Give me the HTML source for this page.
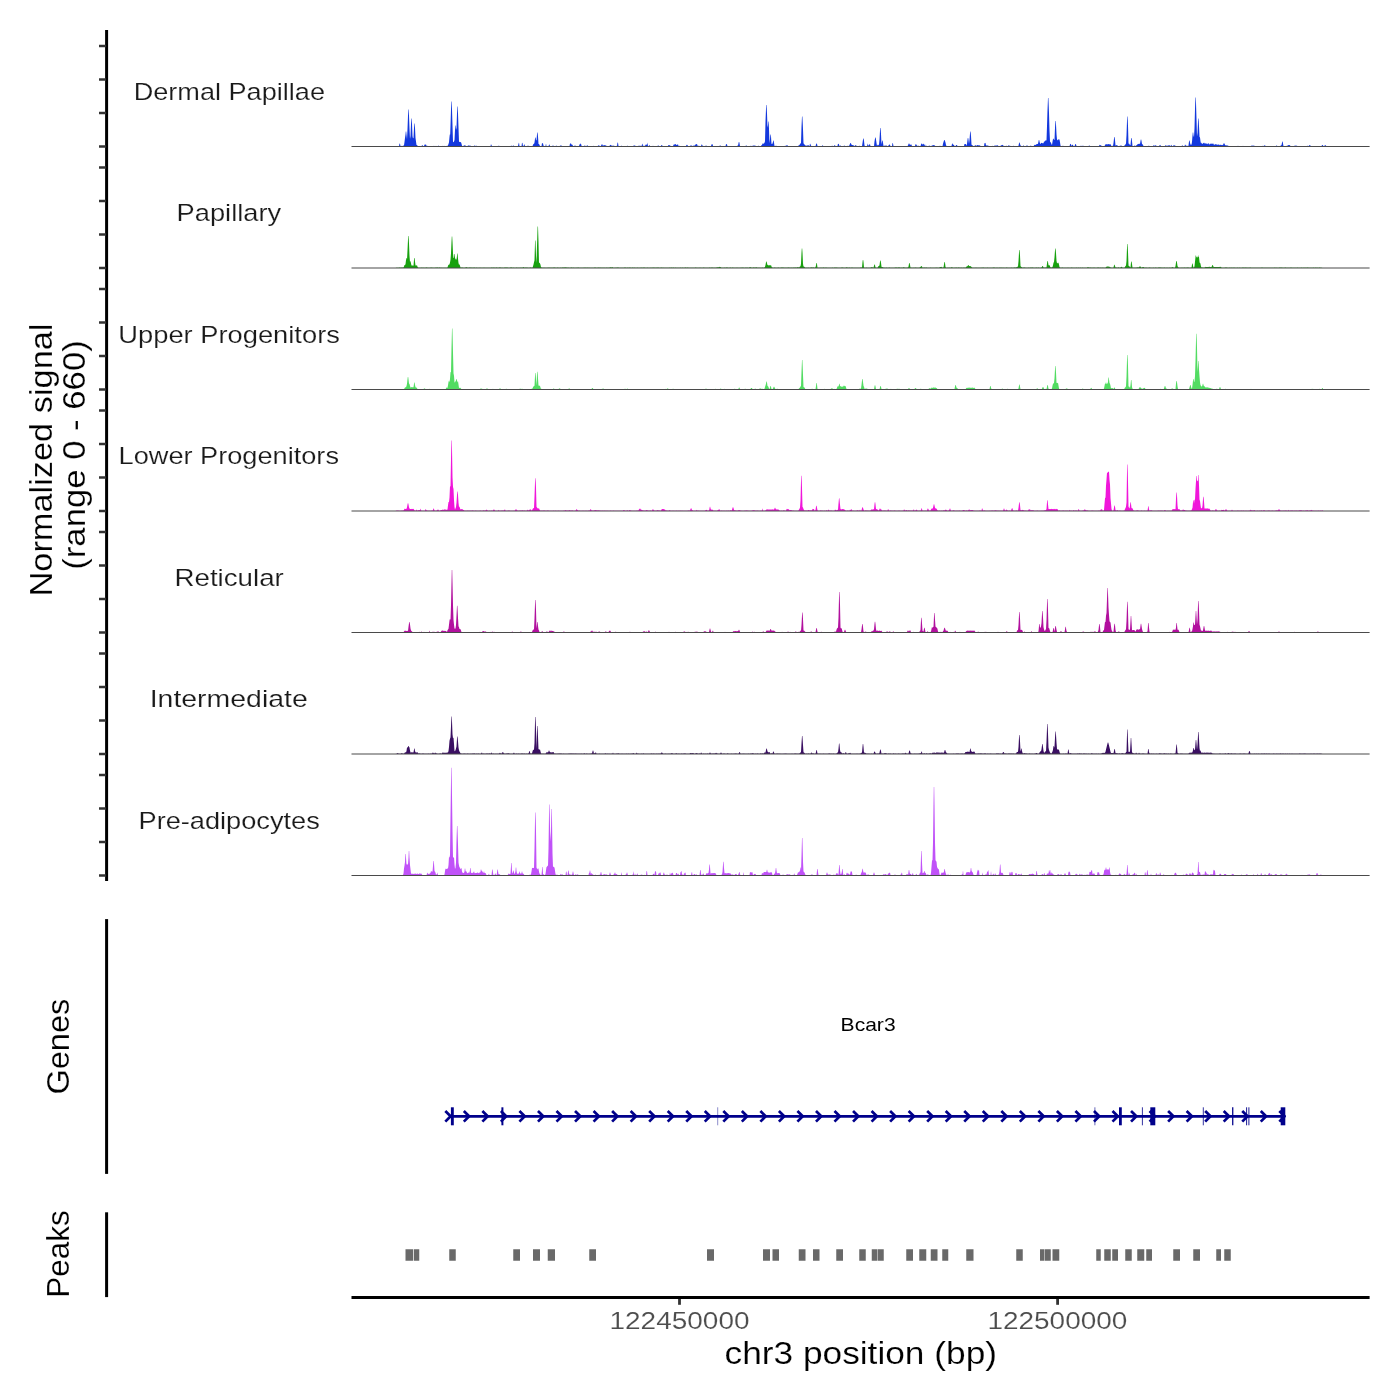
<!DOCTYPE html>
<html><head><meta charset="utf-8"><title>Coverage plot</title>
<style>
html,body{margin:0;padding:0;background:#fff;}
body{width:1400px;height:1400px;overflow:hidden;font-family:"Liberation Sans",sans-serif;}
svg{display:block;font-family:"Liberation Sans",sans-serif;}
.strip{font-size:24.3px;fill:#1a1a1a;}
.axt{font-size:24.6px;fill:#4d4d4d;}
.ttl{font-size:30.6px;fill:#000;}
.gene{font-size:18.2px;fill:#000;}
text{stroke:#fff;stroke-width:0.16px;}
.gene{stroke:none;}
svg{will-change:transform;}
</style></head><body>
<svg width="1400" height="1400" viewBox="0 0 1400 1400">
<rect width="1400" height="1400" fill="#fff"/>
<path d="M395.75 146.5L396.00 146.3L396.50 146.3L397.00 146.3L397.50 146.3L398.00 146.1L398.50 146.1L399.00 146.2L399.50 143.5L400.00 143.8L400.50 146.1L401.00 146.3L401.50 146.2L402.00 145.6L402.50 146.3L403.00 146.1L403.50 145.6L404.00 145.2L404.50 141.9L405.00 138.0L405.50 134.6L405.80 131.5L406.00 131.5L406.20 131.5L406.50 134.6L407.00 139.3L407.50 129.1L408.00 115.8L408.30 109.5L408.50 109.5L408.70 109.5L409.00 115.8L409.50 129.1L410.00 139.1L410.50 136.0L411.00 123.9L411.30 118.5L411.50 118.5L411.70 118.5L412.00 123.9L412.50 136.0L413.00 138.4L413.50 137.7L414.00 128.0L414.30 123.5L414.50 123.5L414.70 123.5L415.00 128.0L415.50 137.9L416.00 141.5L416.50 145.0L417.00 144.9L417.50 145.7L418.00 146.1L418.50 146.1L419.00 146.1L419.50 146.2L420.00 146.3L420.50 146.3L421.00 146.1L421.50 146.3L422.00 145.3L422.50 145.1L423.00 146.3L423.50 146.1L424.00 146.2L424.50 144.5L425.00 144.8L425.50 144.6L426.00 144.6L426.50 145.7L427.00 145.9L427.50 145.7L428.00 146.2L428.50 146.1L429.00 146.1L429.50 146.2L430.00 146.2L430.50 146.1L431.00 146.3L431.50 146.3L432.00 146.1L432.50 145.9L433.00 146.0L433.50 146.0L434.00 145.8L434.50 146.2L435.00 146.2L435.50 146.2L436.00 145.8L436.50 146.2L437.00 146.1L437.50 146.2L438.00 146.3L438.50 145.3L439.00 146.2L439.50 146.2L440.00 146.2L440.50 146.2L441.00 146.1L441.50 146.3L442.00 146.3L442.50 145.9L443.00 145.7L443.50 146.2L444.00 146.2L444.50 145.7L445.00 146.2L445.50 146.0L446.00 146.3L446.50 145.9L447.00 145.7L447.50 145.9L448.00 145.3L448.50 144.1L449.00 142.2L449.50 137.0L449.80 134.5L450.00 134.5L450.20 134.5L450.50 125.4L451.00 109.2L451.30 101.5L451.50 101.5L451.70 101.5L452.00 109.2L452.50 125.4L453.00 141.7L453.50 142.2L454.00 141.5L454.50 140.1L455.00 129.9L455.30 125.5L455.50 125.5L455.70 125.5L456.00 129.9L456.50 127.7L457.00 113.4L457.30 106.5L457.50 106.5L457.70 106.5L458.00 113.4L458.50 127.7L459.00 141.7L459.50 141.7L460.00 142.3L460.50 141.9L461.00 142.2L461.50 143.8L462.00 145.8L462.50 146.3L463.00 146.3L463.50 146.2L464.00 145.1L464.50 145.5L465.00 145.6L465.50 145.5L466.00 146.1L466.50 146.1L467.00 146.2L467.50 146.3L468.00 145.5L468.50 145.6L469.00 145.5L469.50 145.7L470.00 145.4L470.50 145.7L471.00 146.1L471.50 146.3L472.00 146.3L472.50 146.2L473.00 146.2L473.50 146.2L474.00 146.2L474.50 145.2L475.00 145.8L475.50 146.0L476.00 145.7L476.50 145.8L477.00 146.1L477.50 146.2L478.00 146.2L478.50 146.2L479.00 146.2L479.50 146.3L480.00 146.2L480.50 146.2L481.00 146.2L481.50 145.9L482.00 145.9L482.50 146.0L483.00 146.0L483.50 146.3L484.00 146.3L484.50 146.2L485.00 146.3L485.50 146.2L486.00 146.2L486.50 146.3L487.00 146.1L487.50 146.1L488.00 146.3L488.50 146.2L489.00 146.2L489.50 146.2L490.00 146.3L490.50 146.2L491.00 144.1L491.50 145.3L492.00 146.0L492.50 146.0L493.00 146.0L493.50 146.1L494.00 146.0L494.50 145.9L495.00 146.2L495.50 146.3L496.00 146.3L496.50 146.2L497.00 146.0L497.50 146.2L498.00 146.1L498.50 145.7L499.00 145.7L499.50 145.9L500.00 145.9L500.50 146.2L501.00 146.1L501.50 146.2L502.00 146.3L502.50 146.2L503.00 146.0L503.50 146.0L504.00 146.1L504.50 146.3L505.00 146.2L505.50 146.3L506.00 146.2L506.50 146.1L507.00 146.3L507.50 146.3L508.00 146.1L508.50 146.2L509.00 146.1L509.50 146.1L510.00 146.3L510.50 146.2L511.00 145.8L511.50 145.8L512.00 145.7L512.50 146.0L513.00 146.3L513.50 145.1L514.00 146.2L514.50 146.2L515.00 146.2L515.50 146.3L516.00 146.3L516.50 146.3L517.00 146.1L517.50 146.3L518.00 146.1L518.50 143.8L519.00 142.5L519.50 146.2L520.00 146.2L520.50 146.3L521.00 146.3L521.50 146.3L522.00 142.8L522.50 143.0L523.00 145.9L523.50 146.1L524.00 144.8L524.50 144.2L525.00 146.3L525.50 146.2L526.00 146.3L526.50 146.3L527.00 146.3L527.50 145.8L528.00 145.8L528.50 145.8L529.00 146.0L529.50 146.1L530.00 146.3L530.50 146.3L531.00 146.2L531.50 146.2L532.00 146.3L532.50 146.1L533.00 145.1L533.50 143.8L534.00 143.9L534.50 142.6L535.00 138.7L535.20 137.5L535.50 137.5L535.60 137.5L536.00 140.1L536.50 140.4L537.00 134.4L537.20 132.5L537.50 132.5L537.60 132.5L538.00 136.5L538.50 144.0L539.00 144.1L539.50 145.1L540.00 145.9L540.50 146.2L541.00 146.1L541.50 146.3L542.00 143.1L542.50 143.3L543.00 143.5L543.50 145.6L544.00 146.2L544.50 146.3L545.00 146.2L545.50 146.1L546.00 143.5L546.50 146.2L547.00 146.2L547.50 146.1L548.00 146.3L548.50 146.1L549.00 145.0L549.50 144.3L550.00 146.3L550.50 146.3L551.00 146.3L551.50 146.3L552.00 146.1L552.50 146.3L553.00 144.7L553.50 146.2L554.00 146.3L554.50 146.2L555.00 146.1L555.50 146.2L556.00 145.7L556.50 145.5L557.00 146.2L557.50 146.1L558.00 146.2L558.50 146.3L559.00 146.3L559.50 146.2L560.00 145.8L560.50 145.5L561.00 145.5L561.50 145.6L562.00 146.2L562.50 146.2L563.00 146.2L563.50 146.3L564.00 146.2L564.50 146.0L565.00 146.0L565.50 146.0L566.00 146.3L566.50 146.2L567.00 146.2L567.50 146.2L568.00 146.1L568.50 146.2L569.00 146.2L569.50 146.1L570.00 143.4L570.50 143.6L571.00 143.6L571.50 144.4L572.00 144.8L572.50 144.8L573.00 146.1L573.50 146.1L574.00 145.9L574.50 145.8L575.00 145.6L575.50 145.7L576.00 146.1L576.50 145.9L577.00 146.0L577.50 146.2L578.00 146.3L578.50 146.2L579.00 146.2L579.50 144.2L580.00 144.4L580.50 143.6L581.00 143.8L581.50 145.7L582.00 146.3L582.50 146.2L583.00 146.3L583.50 146.3L584.00 146.3L584.50 145.4L585.00 145.4L585.50 146.1L586.00 146.1L586.50 146.3L587.00 145.2L587.50 145.2L588.00 146.2L588.50 146.2L589.00 146.3L589.50 146.1L590.00 146.1L590.50 146.2L591.00 146.2L591.50 146.2L592.00 146.1L592.50 146.2L593.00 145.9L593.50 145.8L594.00 146.2L594.50 146.2L595.00 146.3L595.50 146.2L596.00 146.3L596.50 146.1L597.00 146.2L597.50 146.3L598.00 145.7L598.50 145.3L599.00 145.5L599.50 145.8L600.00 145.9L600.50 146.2L601.00 145.7L601.50 144.7L602.00 144.1L602.50 144.7L603.00 146.1L603.50 145.3L604.00 145.0L604.50 145.2L605.00 145.2L605.50 145.6L606.00 145.3L606.50 146.1L607.00 146.2L607.50 146.2L608.00 146.1L608.50 146.2L609.00 146.2L609.50 146.2L610.00 144.8L610.50 145.3L611.00 144.8L611.50 145.4L612.00 146.3L612.50 145.6L613.00 145.7L613.50 145.8L614.00 145.6L614.50 146.2L615.00 146.3L615.50 146.1L616.00 146.3L616.50 145.8L617.00 146.0L617.50 142.5L618.00 142.8L618.50 145.9L619.00 146.3L619.50 146.2L620.00 146.2L620.50 146.2L621.00 146.2L621.50 145.5L622.00 145.9L622.50 146.0L623.00 146.1L623.50 146.1L624.00 146.1L624.50 146.3L625.00 146.2L625.50 146.0L626.00 146.2L626.50 146.2L627.00 146.2L627.50 145.4L628.00 146.1L628.50 146.2L629.00 146.1L629.50 146.0L630.00 146.2L630.50 146.2L631.00 146.2L631.50 146.3L632.00 146.2L632.50 146.2L633.00 146.3L633.50 145.7L634.00 145.2L634.50 145.7L635.00 145.3L635.50 146.2L636.00 146.2L636.50 146.0L637.00 146.1L637.50 146.1L638.00 146.1L638.50 145.8L639.00 145.8L639.50 145.8L640.00 145.8L640.50 145.8L641.00 145.9L641.50 146.0L642.00 144.5L642.50 143.6L643.00 145.9L643.50 145.7L644.00 145.8L644.50 145.7L645.00 146.3L645.50 144.6L646.00 144.9L646.50 144.3L647.00 145.1L647.50 142.6L648.00 146.3L648.50 146.1L649.00 145.7L649.50 144.8L650.00 146.3L650.50 146.3L651.00 146.3L651.50 146.2L652.00 146.2L652.50 145.9L653.00 145.8L653.50 146.0L654.00 146.3L654.50 146.1L655.00 146.1L655.50 146.2L656.00 146.1L656.50 146.2L657.00 146.2L657.50 146.2L658.00 145.3L658.50 145.4L659.00 146.2L659.50 146.3L660.00 146.3L660.50 146.0L661.00 146.1L661.50 145.0L662.00 145.0L662.50 146.1L663.00 146.2L663.50 146.1L664.00 146.3L664.50 146.3L665.00 146.2L665.50 146.2L666.00 146.2L666.50 146.2L667.00 146.2L667.50 146.1L668.00 146.0L668.50 145.1L669.00 145.0L669.50 145.4L670.00 144.9L670.50 146.2L671.00 146.0L671.50 146.0L672.00 146.1L672.50 146.1L673.00 146.2L673.50 144.7L674.00 144.5L674.50 144.6L675.00 144.2L675.50 143.9L676.00 144.6L676.50 145.0L677.00 144.9L677.50 144.6L678.00 144.3L678.50 146.2L679.00 145.6L679.50 146.1L680.00 145.9L680.50 146.1L681.00 146.0L681.50 146.1L682.00 145.9L682.50 145.9L683.00 146.0L683.50 145.9L684.00 145.9L684.50 146.1L685.00 146.1L685.50 146.0L686.00 146.1L686.50 145.1L687.00 144.8L687.50 145.2L688.00 146.1L688.50 146.3L689.00 146.1L689.50 146.3L690.00 146.2L690.50 145.6L691.00 145.3L691.50 145.7L692.00 145.4L692.50 146.3L693.00 146.2L693.50 145.6L694.00 145.4L694.50 145.5L695.00 145.6L695.50 144.2L696.00 144.6L696.50 144.1L697.00 144.1L697.50 145.6L698.00 145.9L698.50 145.7L699.00 145.8L699.50 146.1L700.00 146.0L700.50 145.9L701.00 146.3L701.50 144.6L702.00 144.4L702.50 145.7L703.00 145.7L703.50 146.3L704.00 146.2L704.50 146.1L705.00 146.2L705.50 146.2L706.00 145.0L706.50 146.1L707.00 146.1L707.50 146.2L708.00 146.1L708.50 146.1L709.00 146.3L709.50 146.2L710.00 146.3L710.50 146.1L711.00 146.3L711.50 144.3L712.00 144.5L712.50 143.9L713.00 146.1L713.50 146.2L714.00 146.3L714.50 146.2L715.00 146.2L715.50 146.2L716.00 146.2L716.50 146.1L717.00 146.3L717.50 146.3L718.00 146.3L718.50 146.3L719.00 146.3L719.50 146.3L720.00 144.9L720.50 145.7L721.00 146.0L721.50 146.0L722.00 146.2L722.50 146.2L723.00 146.3L723.50 146.2L724.00 146.1L724.50 146.1L725.00 146.2L725.50 146.2L726.00 144.3L726.50 143.9L727.00 144.5L727.50 146.2L728.00 146.3L728.50 146.3L729.00 146.1L729.50 146.2L730.00 146.3L730.50 146.2L731.00 146.3L731.50 146.3L732.00 146.3L732.50 146.2L733.00 146.1L733.50 146.2L734.00 146.3L734.50 146.2L735.00 146.2L735.50 146.1L736.00 146.3L736.50 146.2L737.00 146.1L737.50 145.6L738.00 145.8L738.50 143.2L738.80 142.0L739.00 142.0L739.20 142.0L739.50 143.2L740.00 146.3L740.50 146.3L741.00 146.2L741.50 145.9L742.00 145.9L742.50 146.2L743.00 146.3L743.50 146.3L744.00 146.1L744.50 146.0L745.00 146.0L745.50 146.1L746.00 145.5L746.50 145.4L747.00 146.1L747.50 146.1L748.00 146.2L748.50 146.3L749.00 146.2L749.50 146.3L750.00 146.1L750.50 145.7L751.00 145.9L751.50 145.9L752.00 145.7L752.50 145.8L753.00 146.1L753.50 145.2L754.00 145.7L754.50 145.4L755.00 145.4L755.50 145.7L756.00 146.3L756.50 146.3L757.00 146.2L757.50 146.3L758.00 146.2L758.50 145.4L759.00 146.1L759.50 146.3L760.00 146.3L760.50 146.3L761.00 146.3L761.50 144.9L762.00 145.1L762.50 143.6L763.00 143.5L763.50 143.8L764.00 143.6L764.50 142.7L765.00 141.2L765.50 121.2L766.00 109.1L766.20 104.9L766.50 104.9L766.60 104.9L767.00 113.6L767.50 127.4L768.00 124.9L768.20 121.5L768.50 121.5L768.60 121.5L769.00 128.7L769.50 143.3L770.00 138.9L770.40 134.5L770.50 134.5L770.80 134.5L771.00 136.6L771.50 144.1L772.00 143.8L772.50 143.8L773.00 141.5L773.20 140.5L773.50 140.5L773.60 140.5L774.00 142.7L774.50 146.0L775.00 146.3L775.50 146.3L776.00 145.3L776.50 146.2L777.00 146.2L777.50 146.2L778.00 146.3L778.50 146.1L779.00 146.3L779.50 146.2L780.00 146.3L780.50 146.3L781.00 146.3L781.50 146.0L782.00 146.0L782.50 146.0L783.00 146.0L783.50 146.3L784.00 146.1L784.50 146.3L785.00 145.7L785.50 145.7L786.00 145.9L786.50 145.2L787.00 145.3L787.50 145.3L788.00 146.3L788.50 146.2L789.00 146.2L789.50 146.2L790.00 146.2L790.50 146.2L791.00 146.3L791.50 146.3L792.00 146.3L792.50 146.3L793.00 146.0L793.50 146.0L794.00 146.1L794.50 146.2L795.00 146.2L795.50 146.2L796.00 146.2L796.50 145.9L797.00 146.0L797.50 146.1L798.00 146.3L798.50 145.6L799.00 145.3L799.50 144.9L800.00 144.1L800.50 143.5L801.00 143.0L801.50 126.8L802.00 116.5L802.40 116.5L802.50 118.4L803.00 129.3L803.50 143.5L804.00 143.7L804.50 144.6L805.00 145.2L805.50 145.4L806.00 145.5L806.50 145.7L807.00 145.5L807.50 145.5L808.00 145.2L808.50 145.0L809.00 146.2L809.50 146.2L810.00 143.6L810.50 144.2L811.00 145.8L811.50 146.0L812.00 145.9L812.50 146.0L813.00 146.2L813.50 146.2L814.00 146.2L814.50 146.2L815.00 146.1L815.50 146.2L816.00 144.6L816.40 143.5L816.50 143.5L816.80 143.5L817.00 144.0L817.50 146.0L818.00 146.1L818.50 146.1L819.00 146.3L819.50 146.1L820.00 146.3L820.50 146.2L821.00 146.1L821.50 146.3L822.00 146.2L822.50 145.0L823.00 145.8L823.50 146.2L824.00 146.3L824.50 146.3L825.00 146.2L825.50 146.3L826.00 146.1L826.50 146.0L827.00 146.0L827.50 145.9L828.00 146.3L828.50 146.1L829.00 145.9L829.50 146.0L830.00 146.1L830.50 146.1L831.00 146.1L831.50 146.1L832.00 145.8L832.50 145.7L833.00 146.3L833.50 146.3L834.00 146.3L834.50 145.1L835.00 145.3L835.50 146.3L836.00 146.2L836.50 146.2L837.00 146.3L837.50 146.1L838.00 143.6L838.40 144.0L838.50 144.0L838.80 144.0L839.00 144.4L839.50 146.0L840.00 146.1L840.50 145.2L841.00 146.1L841.50 146.2L842.00 146.2L842.50 146.2L843.00 146.3L843.50 146.1L844.00 145.8L844.50 145.6L845.00 145.9L845.50 146.2L846.00 146.1L846.50 145.9L847.00 146.1L847.50 146.0L848.00 145.5L848.50 146.2L849.00 146.1L849.50 144.9L850.00 143.7L850.40 143.0L850.50 143.0L850.80 143.0L851.00 143.4L851.50 144.4L852.00 145.2L852.50 145.0L853.00 145.1L853.50 145.5L854.00 145.4L854.50 146.0L855.00 146.3L855.50 144.9L856.00 145.1L856.50 146.1L857.00 146.3L857.50 146.1L858.00 146.2L858.50 146.3L859.00 146.2L859.50 145.6L860.00 146.3L860.50 146.2L861.00 146.2L861.50 146.1L862.00 146.2L862.50 143.0L863.00 139.6L863.20 138.5L863.50 138.5L863.60 138.5L864.00 140.8L864.50 145.5L865.00 146.1L865.50 146.2L866.00 146.2L866.50 146.1L867.00 146.3L867.50 143.2L868.00 145.7L868.50 145.6L869.00 144.6L869.50 144.6L870.00 144.2L870.50 146.3L871.00 146.2L871.50 146.3L872.00 146.1L872.50 146.1L873.00 146.2L873.50 146.2L874.00 146.3L874.50 141.5L875.00 138.5L875.20 137.5L875.50 137.5L875.60 137.5L876.00 139.6L876.50 143.1L877.00 146.1L877.50 144.6L878.00 145.6L878.50 144.9L879.00 144.6L879.50 139.6L880.00 130.7L880.20 128.0L880.50 128.0L880.60 128.0L881.00 133.7L881.50 144.6L882.00 141.5L882.20 140.5L882.50 140.5L882.60 140.5L883.00 142.7L883.50 146.0L884.00 145.8L884.50 145.7L885.00 145.6L885.50 145.4L886.00 146.1L886.50 145.2L887.00 146.1L887.50 145.9L888.00 146.2L888.50 145.6L889.00 144.8L889.20 144.5L889.50 144.5L889.60 144.5L890.00 145.1L890.50 146.3L891.00 146.3L891.50 146.3L892.00 146.3L892.50 142.7L893.00 143.4L893.50 146.2L894.00 146.1L894.50 146.3L895.00 146.3L895.50 146.1L896.00 146.3L896.50 146.2L897.00 146.2L897.50 146.3L898.00 146.2L898.50 146.2L899.00 146.2L899.50 146.3L900.00 146.1L900.50 146.2L901.00 146.2L901.50 146.2L902.00 146.2L902.50 146.1L903.00 146.0L903.50 146.1L904.00 146.3L904.50 146.2L905.00 146.1L905.50 146.2L906.00 146.2L906.50 146.1L907.00 146.3L907.50 146.1L908.00 145.5L908.50 144.1L908.80 143.5L909.00 143.5L909.20 143.5L909.50 144.1L910.00 145.0L910.50 144.7L911.00 144.2L911.50 144.8L912.00 146.2L912.50 146.3L913.00 146.1L913.50 146.2L914.00 146.3L914.50 146.3L915.00 146.1L915.50 144.2L916.00 144.2L916.50 144.8L917.00 145.8L917.50 145.9L918.00 145.6L918.50 145.8L919.00 146.2L919.50 146.2L920.00 146.3L920.50 146.3L921.00 144.6L921.40 143.5L921.50 143.5L921.80 143.5L922.00 144.0L922.50 144.7L923.00 143.4L923.50 144.4L924.00 143.5L924.50 145.7L925.00 144.2L925.50 146.1L926.00 146.0L926.50 145.6L927.00 146.3L927.50 146.3L928.00 146.2L928.50 146.2L929.00 145.6L929.50 145.7L930.00 145.7L930.50 146.3L931.00 146.1L931.50 146.1L932.00 145.3L932.50 145.5L933.00 145.3L933.50 145.0L934.00 145.3L934.50 145.2L935.00 145.8L935.50 146.3L936.00 146.3L936.50 146.2L937.00 146.3L937.50 146.2L938.00 146.1L938.50 146.2L939.00 146.2L939.50 145.8L940.00 146.0L940.50 145.7L941.00 146.2L941.50 146.2L942.00 146.3L942.50 146.3L943.00 143.8L943.50 142.0L944.00 140.5L944.20 140.0L944.50 140.0L944.60 140.0L945.00 141.1L945.50 142.6L946.00 144.9L946.50 146.1L947.00 146.1L947.50 145.9L948.00 146.1L948.50 146.1L949.00 146.1L949.50 146.3L950.00 146.0L950.50 146.0L951.00 146.1L951.50 146.0L952.00 144.0L952.50 143.3L953.00 144.8L953.50 144.7L954.00 144.7L954.50 146.3L955.00 146.2L955.50 146.3L956.00 145.2L956.50 145.1L957.00 145.1L957.50 146.2L958.00 146.2L958.50 146.2L959.00 146.2L959.50 146.1L960.00 146.2L960.50 146.1L961.00 146.2L961.50 146.3L962.00 146.1L962.50 146.2L963.00 146.3L963.50 146.2L964.00 146.0L964.50 144.1L965.00 144.1L965.50 144.0L966.00 144.2L966.50 145.8L967.00 143.9L967.50 139.8L967.80 138.0L968.00 138.0L968.20 138.0L968.50 139.8L969.00 143.9L969.50 140.0L970.00 133.5L970.20 131.5L970.50 131.5L970.60 131.5L971.00 135.8L971.50 144.6L972.00 145.2L972.50 145.3L973.00 145.8L973.50 146.2L974.00 146.3L974.50 146.0L975.00 145.3L975.50 145.4L976.00 145.0L976.50 146.3L977.00 145.1L977.50 145.3L978.00 145.0L978.50 144.9L979.00 146.2L979.50 144.9L980.00 145.3L980.50 146.2L981.00 146.2L981.50 146.3L982.00 146.1L982.50 146.2L983.00 146.1L983.50 146.1L984.00 146.2L984.50 143.0L985.00 143.2L985.50 142.8L986.00 145.4L986.50 145.4L987.00 145.3L987.50 145.7L988.00 145.3L988.50 146.1L989.00 146.3L989.50 146.1L990.00 146.2L990.50 146.3L991.00 146.1L991.50 146.2L992.00 146.0L992.50 145.7L993.00 146.2L993.50 146.2L994.00 146.1L994.50 145.6L995.00 145.8L995.50 145.7L996.00 145.1L996.50 145.8L997.00 145.4L997.50 145.3L998.00 145.6L998.50 146.3L999.00 146.3L999.50 146.2L1000.00 146.0L1000.50 145.8L1001.00 145.8L1001.50 144.9L1002.00 145.2L1002.50 145.1L1003.00 144.7L1003.50 146.1L1004.00 146.2L1004.50 146.2L1005.00 145.7L1005.50 146.2L1006.00 146.2L1006.50 145.4L1007.00 146.3L1007.50 146.3L1008.00 146.1L1008.50 145.2L1009.00 145.4L1009.50 145.8L1010.00 145.8L1010.50 146.1L1011.00 146.0L1011.50 146.1L1012.00 146.1L1012.50 146.1L1013.00 146.3L1013.50 145.6L1014.00 146.3L1014.50 146.1L1015.00 146.2L1015.50 146.1L1016.00 146.3L1016.50 146.2L1017.00 146.1L1017.50 146.2L1018.00 146.3L1018.50 145.8L1019.00 143.2L1019.20 142.5L1019.50 142.5L1019.60 142.5L1020.00 144.0L1020.50 145.6L1021.00 145.7L1021.50 146.3L1022.00 146.3L1022.50 146.3L1023.00 146.2L1023.50 145.1L1024.00 146.3L1024.50 146.3L1025.00 146.3L1025.50 146.2L1026.00 146.2L1026.50 145.6L1027.00 145.6L1027.50 145.6L1028.00 146.3L1028.50 146.1L1029.00 146.3L1029.50 146.2L1030.00 146.1L1030.50 145.7L1031.00 145.6L1031.50 146.3L1032.00 146.1L1032.50 146.3L1033.00 146.1L1033.50 146.2L1034.00 145.4L1034.50 144.8L1035.00 145.1L1035.50 145.0L1036.00 144.6L1036.50 144.3L1037.00 144.0L1037.50 143.9L1038.00 143.8L1038.50 141.4L1038.80 140.0L1039.00 140.0L1039.20 140.0L1039.50 141.4L1040.00 143.6L1040.50 144.1L1041.00 143.2L1041.50 142.8L1042.00 142.9L1042.50 143.2L1043.00 143.2L1043.50 143.3L1044.00 141.5L1044.50 141.8L1045.00 140.8L1045.50 140.5L1046.00 140.6L1046.50 140.3L1047.00 126.3L1047.50 110.2L1048.00 98.0L1048.40 98.0L1048.50 100.3L1049.00 113.0L1049.50 130.6L1050.00 141.5L1050.50 142.3L1051.00 142.7L1051.50 144.2L1052.00 145.1L1052.50 141.8L1053.00 139.0L1053.50 138.5L1054.00 139.8L1054.50 139.9L1055.00 127.8L1055.40 121.0L1055.50 121.0L1055.80 121.0L1056.00 124.2L1056.50 134.3L1057.00 139.6L1057.50 140.1L1058.00 140.4L1058.50 139.1L1059.00 139.4L1059.50 139.6L1060.00 142.3L1060.50 145.4L1061.00 146.2L1061.50 146.2L1062.00 146.2L1062.50 145.9L1063.00 145.6L1063.50 146.2L1064.00 146.1L1064.50 146.1L1065.00 146.1L1065.50 146.3L1066.00 146.3L1066.50 146.1L1067.00 146.2L1067.50 146.2L1068.00 146.2L1068.50 146.1L1069.00 146.1L1069.50 146.3L1070.00 144.5L1070.50 143.8L1071.00 144.3L1071.50 146.2L1072.00 144.7L1072.50 144.7L1073.00 145.1L1073.50 146.2L1074.00 146.2L1074.50 146.2L1075.00 144.9L1075.40 144.0L1075.50 144.0L1075.80 144.0L1076.00 144.4L1076.50 146.0L1077.00 146.0L1077.50 146.1L1078.00 146.0L1078.50 146.1L1079.00 146.1L1079.50 146.0L1080.00 146.1L1080.50 146.0L1081.00 145.6L1081.50 145.9L1082.00 146.0L1082.50 146.1L1083.00 145.3L1083.50 146.3L1084.00 146.1L1084.50 146.3L1085.00 146.3L1085.50 146.3L1086.00 146.3L1086.50 146.3L1087.00 146.3L1087.50 146.3L1088.00 146.2L1088.50 146.3L1089.00 145.4L1089.50 145.6L1090.00 145.9L1090.50 145.9L1091.00 146.1L1091.50 146.3L1092.00 146.1L1092.50 146.1L1093.00 146.2L1093.50 146.2L1094.00 146.3L1094.50 146.1L1095.00 146.3L1095.50 146.2L1096.00 146.2L1096.50 146.2L1097.00 146.1L1097.50 146.0L1098.00 146.2L1098.50 146.2L1099.00 146.2L1099.50 144.7L1100.00 145.0L1100.50 145.4L1101.00 144.8L1101.50 146.3L1102.00 146.2L1102.50 146.2L1103.00 146.3L1103.50 146.2L1104.00 146.1L1104.50 146.1L1105.00 145.3L1105.50 144.2L1106.00 144.3L1106.50 144.3L1107.00 144.3L1107.50 144.2L1108.00 144.6L1108.50 144.1L1109.00 144.1L1109.50 144.5L1110.00 144.2L1110.50 144.3L1111.00 145.1L1111.50 146.2L1112.00 146.0L1112.50 145.8L1113.00 145.7L1113.50 143.0L1114.00 138.4L1114.20 137.0L1114.50 137.0L1114.60 137.0L1115.00 139.9L1115.50 145.6L1116.00 145.6L1116.50 145.1L1117.00 145.2L1117.50 145.4L1118.00 146.1L1118.50 146.3L1119.00 146.2L1119.50 146.2L1120.00 145.6L1120.50 145.7L1121.00 145.6L1121.50 145.5L1122.00 146.3L1122.50 146.1L1123.00 146.3L1123.50 146.2L1124.00 146.2L1124.50 145.6L1125.00 144.8L1125.50 144.6L1126.00 143.5L1126.50 135.3L1127.00 120.9L1127.20 116.5L1127.50 116.5L1127.60 116.5L1128.00 125.8L1128.50 143.8L1129.00 143.4L1129.50 144.3L1130.00 145.2L1130.50 144.9L1131.00 139.5L1131.20 138.0L1131.50 138.0L1131.60 138.0L1132.00 141.1L1132.50 146.0L1133.00 145.9L1133.50 146.0L1134.00 146.0L1134.50 145.5L1135.00 145.5L1135.50 146.2L1136.00 145.5L1136.50 145.3L1137.00 145.1L1137.50 144.2L1138.00 144.0L1138.50 143.8L1139.00 144.2L1139.50 143.4L1140.00 144.0L1140.50 141.0L1140.80 139.5L1141.00 139.5L1141.20 139.5L1141.50 141.0L1142.00 144.0L1142.50 144.2L1143.00 144.9L1143.50 146.1L1144.00 146.2L1144.50 146.1L1145.00 146.2L1145.50 146.2L1146.00 146.3L1146.50 146.1L1147.00 145.9L1147.50 146.3L1148.00 146.1L1148.50 145.8L1149.00 145.8L1149.50 146.1L1150.00 146.3L1150.50 146.2L1151.00 146.2L1151.50 146.3L1152.00 146.3L1152.50 146.3L1153.00 146.3L1153.50 145.3L1154.00 145.3L1154.50 145.7L1155.00 145.7L1155.50 145.3L1156.00 145.3L1156.50 146.1L1157.00 146.1L1157.50 146.1L1158.00 146.2L1158.50 145.9L1159.00 145.9L1159.50 145.4L1160.00 144.8L1160.50 145.3L1161.00 146.2L1161.50 146.2L1162.00 146.2L1162.50 146.3L1163.00 146.2L1163.50 146.3L1164.00 146.3L1164.50 146.3L1165.00 146.2L1165.50 145.2L1166.00 145.0L1166.50 146.1L1167.00 145.8L1167.50 145.8L1168.00 145.6L1168.50 145.6L1169.00 145.2L1169.50 145.3L1170.00 145.8L1170.50 145.9L1171.00 145.4L1171.50 144.8L1172.00 146.2L1172.50 146.1L1173.00 146.2L1173.50 145.3L1174.00 145.3L1174.50 145.4L1175.00 145.2L1175.50 146.1L1176.00 146.3L1176.50 146.2L1177.00 146.2L1177.50 146.2L1178.00 146.2L1178.50 146.2L1179.00 145.9L1179.50 146.3L1180.00 146.3L1180.50 146.2L1181.00 146.3L1181.50 146.3L1182.00 145.6L1182.50 145.3L1183.00 146.2L1183.50 146.3L1184.00 146.1L1184.50 146.2L1185.00 144.6L1185.50 145.1L1186.00 145.8L1186.50 145.8L1187.00 145.7L1187.50 145.8L1188.00 146.2L1188.50 145.4L1189.00 141.5L1189.20 140.5L1189.50 140.5L1189.60 140.5L1190.00 142.7L1190.50 144.8L1191.00 144.6L1191.50 144.8L1192.00 141.8L1192.50 135.4L1192.80 132.5L1193.00 132.5L1193.20 132.5L1193.50 135.4L1194.00 137.3L1194.50 128.2L1195.00 109.0L1195.40 97.5L1195.50 97.5L1195.80 97.5L1196.00 103.0L1196.50 119.4L1197.00 136.5L1197.50 133.1L1198.00 122.0L1198.20 118.5L1198.50 118.5L1198.60 118.5L1199.00 126.0L1199.50 136.7L1200.00 137.5L1200.50 141.2L1201.00 143.4L1201.50 142.4L1202.00 144.0L1202.50 144.1L1203.00 142.9L1203.50 143.3L1204.00 142.6L1204.50 143.3L1205.00 143.8L1205.50 143.2L1206.00 143.6L1206.50 143.4L1207.00 144.1L1207.50 144.3L1208.00 143.1L1208.50 143.2L1209.00 144.4L1209.50 144.5L1210.00 143.4L1210.50 143.7L1211.00 144.1L1211.50 143.6L1212.00 143.7L1212.50 143.7L1213.00 143.6L1213.50 143.8L1214.00 144.9L1214.50 144.2L1215.00 144.9L1215.50 144.0L1216.00 144.1L1216.50 144.4L1217.00 144.7L1217.50 144.4L1218.00 144.9L1218.50 144.5L1219.00 144.3L1219.50 145.3L1220.00 145.0L1220.50 144.6L1221.00 145.2L1221.50 145.1L1222.00 144.8L1222.50 145.0L1223.00 145.3L1223.50 143.2L1224.00 143.8L1224.50 143.3L1225.00 145.0L1225.50 145.3L1226.00 145.5L1226.50 145.3L1227.00 145.5L1227.50 145.5L1228.00 145.4L1228.50 145.9L1229.00 145.9L1229.50 146.3L1230.00 146.2L1230.50 146.3L1231.00 146.1L1231.50 146.3L1232.00 146.2L1232.50 146.3L1233.00 146.1L1233.50 146.2L1234.00 146.3L1234.50 146.3L1235.00 146.2L1235.50 146.2L1236.00 146.1L1236.50 146.1L1237.00 146.0L1237.50 145.9L1238.00 145.7L1238.50 146.0L1239.00 145.9L1239.50 146.2L1240.00 146.3L1240.50 146.1L1241.00 146.3L1241.50 146.1L1242.00 146.1L1242.50 146.3L1243.00 145.8L1243.50 146.2L1244.00 146.1L1244.50 146.1L1245.00 146.3L1245.50 146.3L1246.00 146.2L1246.50 146.1L1247.00 146.2L1247.50 146.3L1248.00 146.2L1248.50 146.1L1249.00 146.1L1249.50 146.1L1250.00 146.3L1250.50 146.2L1251.00 146.1L1251.50 145.4L1252.00 145.7L1252.50 145.5L1253.00 145.7L1253.50 145.6L1254.00 145.8L1254.50 145.7L1255.00 146.2L1255.50 146.0L1256.00 146.3L1256.50 146.0L1257.00 146.0L1257.50 146.2L1258.00 146.3L1258.50 146.2L1259.00 146.1L1259.50 146.3L1260.00 146.2L1260.50 146.3L1261.00 146.2L1261.50 146.2L1262.00 145.9L1262.50 145.8L1263.00 146.3L1263.50 146.2L1264.00 145.4L1264.50 145.4L1265.00 145.3L1265.50 146.0L1266.00 146.1L1266.50 146.1L1267.00 146.0L1267.50 146.1L1268.00 146.2L1268.50 146.3L1269.00 146.2L1269.50 146.1L1270.00 146.1L1270.50 146.2L1271.00 146.1L1271.50 146.2L1272.00 146.1L1272.50 146.1L1273.00 146.2L1273.50 146.1L1274.00 146.1L1274.50 146.2L1275.00 146.2L1275.50 146.3L1276.00 146.3L1276.50 145.3L1277.00 145.7L1277.50 146.2L1278.00 146.3L1278.50 146.3L1279.00 146.1L1279.50 146.1L1280.00 146.2L1280.50 146.2L1281.00 144.8L1281.50 145.6L1282.00 142.4L1282.20 141.5L1282.50 141.5L1282.60 141.5L1283.00 143.4L1283.50 146.3L1284.00 146.2L1284.50 146.3L1285.00 146.1L1285.50 146.0L1286.00 146.1L1286.50 146.2L1287.00 145.6L1287.50 146.1L1288.00 145.0L1288.50 145.0L1289.00 145.6L1289.40 145.0L1289.50 145.0L1289.80 145.0L1290.00 145.3L1290.50 146.3L1291.00 146.3L1291.50 146.1L1292.00 146.1L1292.50 146.2L1293.00 146.3L1293.50 146.3L1294.00 146.2L1294.50 145.8L1295.00 145.6L1295.50 145.7L1296.00 145.5L1296.50 145.8L1297.00 145.8L1297.50 146.2L1298.00 146.2L1298.50 146.2L1299.00 146.3L1299.50 146.3L1300.00 146.2L1300.50 146.1L1301.00 146.3L1301.50 146.2L1302.00 146.3L1302.50 146.3L1303.00 146.2L1303.50 146.2L1304.00 146.2L1304.50 146.2L1305.00 146.1L1305.50 146.3L1306.00 146.3L1306.50 146.2L1307.00 146.2L1307.50 145.7L1308.00 145.8L1308.50 146.1L1309.00 146.1L1309.50 145.1L1310.00 144.9L1310.50 145.8L1311.00 146.3L1311.50 146.3L1312.00 146.3L1312.50 146.3L1313.00 146.1L1313.50 146.2L1314.00 146.1L1314.50 146.1L1315.00 146.3L1315.50 146.3L1316.00 146.3L1316.50 146.3L1317.00 146.2L1317.50 146.3L1318.00 146.3L1318.50 146.2L1319.00 146.1L1319.50 146.1L1320.00 146.1L1320.50 146.3L1321.00 145.9L1321.50 146.0L1322.00 145.3L1322.20 145.0L1322.50 145.0L1322.60 145.0L1323.00 145.6L1323.50 146.3L1324.00 145.9L1324.50 145.8L1325.00 145.2L1325.50 145.2L1326.00 145.4L1326.25 146.5Z" fill="#1338DD"/>
<line x1="351.5" x2="1369.6" y1="146.50" y2="146.50" stroke="#4a4a4a" stroke-width="1.1"/>
<text class="strip" x="133.7" y="99.8" textLength="191.3" lengthAdjust="spacingAndGlyphs">Dermal Papillae</text>
<path d="M395.75 268.0L396.00 267.7L396.50 267.8L397.00 267.7L397.50 267.8L398.00 267.7L398.50 267.8L399.00 267.7L399.50 267.6L400.00 267.6L400.50 267.7L401.00 267.6L401.50 267.6L402.00 267.8L402.50 267.6L403.00 267.6L403.50 267.6L404.00 266.6L404.50 265.0L405.00 265.1L405.50 264.2L406.00 260.1L406.30 258.0L406.50 258.0L406.70 258.0L407.00 260.1L407.50 250.3L408.00 239.6L408.20 236.0L408.50 236.0L408.60 236.0L409.00 243.5L409.50 256.1L410.00 262.0L410.50 260.7L411.00 263.5L411.50 265.4L412.00 265.6L412.50 265.4L413.00 265.5L413.50 265.7L414.00 259.7L414.20 258.0L414.50 258.0L414.60 258.0L415.00 261.7L415.50 265.5L416.00 265.4L416.50 265.4L417.00 265.2L417.50 266.7L418.00 267.6L418.50 267.8L419.00 267.7L419.50 267.7L420.00 267.7L420.50 267.7L421.00 267.8L421.50 267.6L422.00 267.7L422.50 267.8L423.00 267.6L423.50 267.7L424.00 267.8L424.50 267.8L425.00 267.8L425.50 267.7L426.00 267.5L426.50 267.6L427.00 267.6L427.50 267.8L428.00 267.8L428.50 267.8L429.00 267.8L429.50 267.7L430.00 267.8L430.50 267.5L431.00 267.7L431.50 267.6L432.00 267.5L432.50 267.7L433.00 267.7L433.50 267.7L434.00 267.7L434.50 267.7L435.00 267.7L435.50 267.6L436.00 267.7L436.50 267.5L437.00 267.4L437.50 267.5L438.00 267.5L438.50 267.8L439.00 267.7L439.50 267.3L440.00 267.7L440.50 267.8L441.00 267.6L441.50 267.7L442.00 267.7L442.50 267.8L443.00 267.8L443.50 267.8L444.00 267.7L444.50 267.8L445.00 267.7L445.50 267.7L446.00 267.7L446.50 267.7L447.00 267.7L447.50 267.4L448.00 265.8L448.50 264.8L449.00 264.7L449.50 264.3L450.00 262.6L450.50 259.7L451.00 253.2L451.50 241.8L451.80 236.4L452.00 236.4L452.20 236.4L452.50 241.8L453.00 253.2L453.50 258.0L454.00 257.7L454.30 254.0L454.50 254.0L454.70 254.0L455.00 257.7L455.50 259.2L456.00 259.5L456.50 259.5L457.00 255.9L457.20 253.4L457.50 253.4L457.60 253.4L458.00 258.8L458.50 263.1L459.00 264.7L459.50 264.3L460.00 265.8L460.50 267.5L461.00 267.7L461.50 267.6L462.00 267.6L462.50 267.6L463.00 267.7L463.50 267.8L464.00 267.7L464.50 267.8L465.00 267.7L465.50 267.6L466.00 267.2L466.50 267.0L467.00 267.7L467.50 267.6L468.00 267.8L468.50 267.8L469.00 267.6L469.50 267.6L470.00 267.6L470.50 267.6L471.00 267.7L471.50 267.6L472.00 267.8L472.50 267.8L473.00 267.6L473.50 267.8L474.00 267.6L474.50 267.6L475.00 267.8L475.50 267.7L476.00 267.8L476.50 267.6L477.00 267.7L477.50 267.8L478.00 267.8L478.50 267.8L479.00 267.7L479.50 267.7L480.00 267.6L480.50 267.8L481.00 267.8L481.50 267.7L482.00 267.7L482.50 267.7L483.00 267.7L483.50 267.7L484.00 267.6L484.50 267.8L485.00 267.7L485.50 267.8L486.00 267.7L486.50 267.7L487.00 267.7L487.50 267.8L488.00 267.7L488.50 267.8L489.00 267.8L489.50 267.7L490.00 267.7L490.50 267.8L491.00 267.7L491.50 267.6L492.00 267.6L492.50 267.7L493.00 267.6L493.50 267.6L494.00 267.7L494.50 267.6L495.00 267.7L495.50 267.7L496.00 267.6L496.50 267.6L497.00 267.6L497.50 267.8L498.00 267.7L498.50 267.8L499.00 267.6L499.50 267.7L500.00 266.8L500.50 267.7L501.00 267.7L501.50 267.8L502.00 267.6L502.50 267.8L503.00 267.8L503.50 267.8L504.00 267.7L504.50 267.6L505.00 267.6L505.50 267.5L506.00 267.6L506.50 267.6L507.00 267.6L507.50 267.6L508.00 267.7L508.50 267.7L509.00 267.7L509.50 267.7L510.00 267.8L510.50 267.5L511.00 267.3L511.50 267.5L512.00 267.4L512.50 267.8L513.00 267.7L513.50 267.6L514.00 267.7L514.50 267.7L515.00 267.7L515.50 267.7L516.00 267.7L516.50 267.5L517.00 267.6L517.50 267.7L518.00 267.7L518.50 267.7L519.00 267.6L519.50 267.7L520.00 267.8L520.50 267.6L521.00 267.8L521.50 267.6L522.00 267.7L522.50 267.8L523.00 267.1L523.50 267.1L524.00 267.7L524.50 267.6L525.00 267.8L525.50 267.6L526.00 267.6L526.50 267.6L527.00 267.8L527.50 267.6L528.00 267.7L528.50 267.7L529.00 267.7L529.50 267.8L530.00 267.5L530.50 267.6L531.00 267.6L531.50 267.8L532.00 267.7L532.50 267.7L533.00 266.2L533.50 264.6L534.00 262.2L534.50 260.3L535.00 243.0L535.10 240.5L535.50 240.5L536.00 255.6L536.50 262.9L537.00 245.7L537.50 229.2L537.60 226.5L538.00 226.5L538.50 241.9L539.00 263.3L539.50 262.5L540.00 263.4L540.50 264.8L541.00 267.2L541.50 267.6L542.00 267.6L542.50 267.7L543.00 267.7L543.50 267.7L544.00 267.6L544.50 267.8L545.00 267.7L545.50 267.8L546.00 267.8L546.50 267.8L547.00 267.8L547.50 267.7L548.00 267.6L548.50 267.7L549.00 267.6L549.50 267.8L550.00 267.6L550.50 267.8L551.00 267.8L551.50 267.7L552.00 267.6L552.50 267.7L553.00 267.8L553.50 267.5L554.00 267.5L554.50 267.4L555.00 267.6L555.50 267.8L556.00 267.8L556.50 267.7L557.00 267.7L557.50 267.4L558.00 267.6L558.50 267.7L559.00 267.7L559.50 267.7L560.00 267.7L560.50 267.6L561.00 267.8L561.50 267.8L562.00 267.6L562.50 267.6L563.00 267.6L563.50 267.6L564.00 267.4L564.50 267.4L565.00 267.3L565.50 267.4L566.00 267.3L566.50 267.4L567.00 267.7L567.50 267.6L568.00 267.7L568.50 267.6L569.00 267.8L569.50 267.7L570.00 267.7L570.50 267.7L571.00 267.6L571.50 267.6L572.00 267.6L572.50 267.7L573.00 267.7L573.50 267.6L574.00 267.7L574.50 267.8L575.00 267.8L575.50 267.7L576.00 267.8L576.50 267.7L577.00 267.6L577.50 267.7L578.00 267.6L578.50 267.6L579.00 267.7L579.50 267.7L580.00 267.8L580.50 267.8L581.00 267.8L581.50 267.7L582.00 267.7L582.50 267.8L583.00 267.7L583.50 267.8L584.00 267.6L584.50 267.8L585.00 267.6L585.50 267.7L586.00 267.6L586.50 267.7L587.00 267.7L587.50 267.6L588.00 267.8L588.50 267.7L589.00 267.6L589.50 267.7L590.00 267.8L590.50 267.8L591.00 267.7L591.50 267.7L592.00 267.8L592.50 267.8L593.00 267.7L593.50 267.7L594.00 267.8L594.50 267.6L595.00 267.6L595.50 267.6L596.00 267.8L596.50 267.7L597.00 267.8L597.50 267.8L598.00 267.6L598.50 267.6L599.00 267.7L599.50 267.6L600.00 267.7L600.50 267.6L601.00 267.7L601.50 267.7L602.00 267.6L602.50 267.7L603.00 267.7L603.50 267.7L604.00 267.6L604.50 267.7L605.00 267.8L605.50 267.8L606.00 267.8L606.50 267.5L607.00 267.7L607.50 267.7L608.00 267.6L608.50 267.7L609.00 267.7L609.50 267.6L610.00 267.4L610.50 267.2L611.00 267.2L611.50 267.8L612.00 267.1L612.50 267.2L613.00 267.7L613.50 267.8L614.00 267.8L614.50 267.8L615.00 267.8L615.50 267.7L616.00 267.6L616.50 267.7L617.00 267.5L617.50 267.6L618.00 267.5L618.50 267.5L619.00 267.7L619.50 267.7L620.00 267.8L620.50 267.8L621.00 267.7L621.50 267.7L622.00 267.8L622.50 267.7L623.00 267.7L623.50 267.8L624.00 267.8L624.50 267.6L625.00 267.6L625.50 267.6L626.00 267.8L626.50 267.7L627.00 267.8L627.50 267.6L628.00 267.7L628.50 267.7L629.00 267.6L629.50 267.6L630.00 267.7L630.50 267.6L631.00 267.8L631.50 267.8L632.00 267.7L632.50 267.6L633.00 267.6L633.50 267.7L634.00 267.7L634.50 267.6L635.00 267.7L635.50 267.7L636.00 267.7L636.50 267.7L637.00 267.8L637.50 267.6L638.00 267.7L638.50 267.7L639.00 267.8L639.50 267.7L640.00 267.7L640.50 267.7L641.00 267.6L641.50 267.7L642.00 267.6L642.50 267.8L643.00 267.8L643.50 267.5L644.00 267.6L644.50 267.5L645.00 267.7L645.50 267.7L646.00 267.7L646.50 267.8L647.00 267.8L647.50 267.6L648.00 267.8L648.50 267.8L649.00 267.7L649.50 267.8L650.00 267.7L650.50 267.7L651.00 267.6L651.50 267.8L652.00 267.7L652.50 267.7L653.00 267.3L653.50 267.7L654.00 267.6L654.50 267.7L655.00 267.6L655.50 267.8L656.00 267.7L656.50 267.6L657.00 267.7L657.50 267.7L658.00 266.9L658.50 267.7L659.00 267.8L659.50 267.7L660.00 267.8L660.50 267.8L661.00 267.5L661.50 267.6L662.00 267.7L662.50 267.7L663.00 267.6L663.50 267.8L664.00 267.7L664.50 267.8L665.00 267.7L665.50 267.7L666.00 267.8L666.50 267.7L667.00 267.7L667.50 267.7L668.00 267.7L668.50 267.8L669.00 267.8L669.50 267.6L670.00 267.7L670.50 267.7L671.00 267.6L671.50 267.6L672.00 267.7L672.50 267.8L673.00 267.5L673.50 267.6L674.00 267.7L674.50 267.8L675.00 267.7L675.50 267.6L676.00 267.8L676.50 267.7L677.00 267.7L677.50 267.8L678.00 267.8L678.50 267.8L679.00 267.7L679.50 267.8L680.00 267.7L680.50 267.6L681.00 267.7L681.50 267.8L682.00 267.8L682.50 267.6L683.00 267.7L683.50 267.7L684.00 267.8L684.50 267.8L685.00 267.6L685.50 267.6L686.00 267.6L686.50 267.8L687.00 267.7L687.50 267.6L688.00 267.6L688.50 267.7L689.00 267.7L689.50 267.8L690.00 267.7L690.50 267.7L691.00 267.8L691.50 267.8L692.00 267.7L692.50 267.8L693.00 267.7L693.50 267.7L694.00 267.7L694.50 267.7L695.00 267.7L695.50 267.6L696.00 267.6L696.50 267.7L697.00 267.8L697.50 267.7L698.00 267.8L698.50 267.8L699.00 267.8L699.50 267.7L700.00 267.6L700.50 267.7L701.00 267.7L701.50 267.7L702.00 267.7L702.50 267.7L703.00 267.7L703.50 267.5L704.00 267.5L704.50 267.7L705.00 267.7L705.50 267.7L706.00 267.7L706.50 267.7L707.00 267.7L707.50 267.7L708.00 267.7L708.50 267.7L709.00 267.8L709.50 267.6L710.00 267.6L710.50 267.8L711.00 267.7L711.50 267.4L712.00 267.5L712.50 267.6L713.00 267.7L713.50 267.8L714.00 267.6L714.50 267.7L715.00 267.7L715.50 267.7L716.00 267.6L716.50 267.6L717.00 267.4L717.50 267.3L718.00 267.2L718.50 267.3L719.00 267.3L719.50 266.8L720.00 266.9L720.50 266.9L721.00 267.6L721.50 267.8L722.00 267.8L722.50 267.7L723.00 267.7L723.50 267.7L724.00 267.8L724.50 267.6L725.00 267.7L725.50 267.7L726.00 267.6L726.50 267.6L727.00 267.6L727.50 267.6L728.00 267.8L728.50 267.8L729.00 267.8L729.50 267.7L730.00 267.6L730.50 267.6L731.00 267.7L731.50 267.8L732.00 267.7L732.50 267.6L733.00 267.6L733.50 267.8L734.00 267.7L734.50 267.7L735.00 267.7L735.50 267.8L736.00 267.7L736.50 267.7L737.00 267.6L737.50 267.7L738.00 267.7L738.50 267.8L739.00 267.7L739.50 267.8L740.00 267.7L740.50 267.7L741.00 267.6L741.50 267.7L742.00 267.6L742.50 267.8L743.00 267.3L743.50 267.8L744.00 267.8L744.50 267.7L745.00 267.7L745.50 267.6L746.00 267.8L746.50 267.6L747.00 267.7L747.50 267.6L748.00 267.8L748.50 267.8L749.00 267.7L749.50 267.3L750.00 267.2L750.50 267.2L751.00 267.2L751.50 267.7L752.00 267.8L752.50 267.7L753.00 267.4L753.50 267.4L754.00 267.3L754.50 267.8L755.00 267.6L755.50 267.7L756.00 266.9L756.50 267.5L757.00 267.5L757.50 267.7L758.00 267.7L758.50 267.7L759.00 267.6L759.50 267.7L760.00 267.7L760.50 267.7L761.00 267.8L761.50 267.7L762.00 267.8L762.50 267.6L763.00 267.8L763.50 267.8L764.00 267.8L764.50 267.5L765.00 266.7L765.50 265.0L766.00 262.3L766.20 261.4L766.50 261.4L766.60 261.4L767.00 263.3L767.50 265.1L768.00 265.1L768.50 265.6L769.00 265.2L769.50 265.2L770.00 265.2L770.50 265.5L771.00 265.0L771.50 266.4L772.00 267.5L772.50 267.6L773.00 267.8L773.50 267.8L774.00 267.7L774.50 267.4L775.00 267.5L775.50 267.7L776.00 267.7L776.50 267.7L777.00 267.7L777.50 267.8L778.00 267.4L778.50 267.6L779.00 267.8L779.50 267.8L780.00 267.7L780.50 267.7L781.00 267.6L781.50 267.6L782.00 267.6L782.50 267.5L783.00 267.5L783.50 267.4L784.00 267.8L784.50 267.8L785.00 267.6L785.50 267.7L786.00 267.8L786.50 267.7L787.00 267.6L787.50 267.8L788.00 267.6L788.50 267.6L789.00 267.6L789.50 267.7L790.00 267.6L790.50 267.8L791.00 267.7L791.50 267.6L792.00 267.7L792.50 267.8L793.00 267.6L793.50 267.6L794.00 267.7L794.50 267.6L795.00 267.6L795.50 267.6L796.00 267.6L796.50 267.7L797.00 267.2L797.50 267.3L798.00 267.3L798.50 267.3L799.00 267.7L799.50 267.1L800.00 266.5L800.50 266.2L801.00 263.7L801.50 252.8L801.80 248.4L802.00 248.4L802.20 248.4L802.50 252.8L803.00 263.7L803.50 266.5L804.00 266.5L804.50 267.1L805.00 267.6L805.50 267.8L806.00 267.8L806.50 267.8L807.00 267.5L807.50 267.7L808.00 267.7L808.50 267.6L809.00 267.7L809.50 267.8L810.00 267.7L810.50 267.6L811.00 267.6L811.50 267.3L812.00 267.6L812.50 267.6L813.00 267.4L813.50 267.2L814.00 267.8L814.50 267.7L815.00 267.4L815.50 267.3L816.00 265.3L816.40 263.0L816.50 263.0L816.80 263.0L817.00 264.0L817.50 267.8L818.00 267.7L818.50 267.8L819.00 267.8L819.50 267.8L820.00 267.7L820.50 267.7L821.00 267.6L821.50 267.7L822.00 267.8L822.50 267.7L823.00 267.6L823.50 267.5L824.00 267.4L824.50 267.7L825.00 267.8L825.50 267.6L826.00 267.7L826.50 267.6L827.00 267.7L827.50 267.7L828.00 267.8L828.50 267.8L829.00 267.7L829.50 267.8L830.00 267.7L830.50 267.8L831.00 267.8L831.50 267.8L832.00 267.8L832.50 267.6L833.00 267.8L833.50 267.7L834.00 267.7L834.50 267.4L835.00 267.5L835.50 267.4L836.00 267.7L836.50 267.6L837.00 267.6L837.50 267.7L838.00 267.7L838.50 267.7L839.00 267.7L839.50 267.8L840.00 267.8L840.50 267.7L841.00 267.7L841.50 267.5L842.00 267.5L842.50 267.6L843.00 267.5L843.50 267.8L844.00 267.8L844.50 267.8L845.00 267.7L845.50 267.8L846.00 267.4L846.50 267.3L847.00 267.4L847.50 267.4L848.00 267.7L848.50 267.8L849.00 267.6L849.50 267.6L850.00 267.8L850.50 267.7L851.00 267.8L851.50 267.6L852.00 267.7L852.50 267.6L853.00 267.8L853.50 267.8L854.00 267.7L854.50 267.8L855.00 267.8L855.50 267.7L856.00 267.7L856.50 267.8L857.00 267.7L857.50 267.8L858.00 267.7L858.50 267.7L859.00 267.7L859.50 267.7L860.00 267.7L860.50 267.6L861.00 267.6L861.50 267.6L862.00 267.6L862.50 261.9L862.80 260.0L863.00 260.0L863.20 260.0L863.50 261.9L864.00 267.6L864.50 267.7L865.00 267.7L865.50 267.7L866.00 267.8L866.50 267.6L867.00 267.8L867.50 267.8L868.00 267.7L868.50 267.8L869.00 267.7L869.50 267.8L870.00 267.7L870.50 267.7L871.00 267.2L871.50 267.3L872.00 267.3L872.50 267.3L873.00 267.8L873.50 267.8L874.00 265.8L874.40 264.5L874.50 264.5L874.80 264.5L875.00 265.1L875.50 267.4L876.00 267.7L876.50 267.7L877.00 267.7L877.50 267.7L878.00 266.9L878.50 266.1L879.00 266.1L879.50 265.2L880.00 261.5L880.20 260.4L880.50 260.4L880.60 260.4L881.00 262.8L881.50 266.7L882.00 267.2L882.50 267.1L883.00 267.3L883.50 267.7L884.00 267.6L884.50 267.7L885.00 267.8L885.50 267.8L886.00 267.7L886.50 267.6L887.00 267.7L887.50 267.7L888.00 267.8L888.50 267.8L889.00 267.6L889.50 267.6L890.00 267.8L890.50 267.7L891.00 267.7L891.50 267.7L892.00 267.8L892.50 267.8L893.00 267.8L893.50 267.7L894.00 267.8L894.50 267.8L895.00 267.6L895.50 267.6L896.00 267.6L896.50 267.4L897.00 267.6L897.50 267.7L898.00 267.6L898.50 267.4L899.00 267.3L899.50 267.4L900.00 267.5L900.50 267.7L901.00 267.8L901.50 267.6L902.00 267.8L902.50 267.6L903.00 267.7L903.50 267.0L904.00 267.5L904.50 267.5L905.00 267.5L905.50 267.8L906.00 267.8L906.50 267.8L907.00 267.6L907.50 267.6L908.00 267.7L908.50 266.5L909.00 263.8L909.20 263.0L909.50 263.0L909.60 263.0L910.00 264.7L910.50 267.7L911.00 267.6L911.50 267.8L912.00 267.7L912.50 267.7L913.00 267.8L913.50 267.7L914.00 267.6L914.50 267.7L915.00 267.7L915.50 267.6L916.00 267.4L916.50 267.7L917.00 267.8L917.50 267.8L918.00 267.8L918.50 267.7L919.00 267.8L919.50 267.8L920.00 267.0L920.50 266.7L921.00 266.7L921.40 266.0L921.50 266.0L921.80 266.0L922.00 266.4L922.50 267.7L923.00 267.8L923.50 267.6L924.00 267.8L924.50 267.4L925.00 267.5L925.50 267.8L926.00 267.6L926.50 267.6L927.00 267.7L927.50 267.7L928.00 267.8L928.50 267.7L929.00 267.8L929.50 267.8L930.00 267.7L930.50 267.6L931.00 267.7L931.50 267.7L932.00 267.8L932.50 267.8L933.00 267.7L933.50 267.7L934.00 267.8L934.50 267.8L935.00 267.7L935.50 267.7L936.00 267.5L936.50 267.7L937.00 267.6L937.50 267.8L938.00 267.8L938.50 267.8L939.00 267.7L939.50 267.6L940.00 267.0L940.50 266.9L941.00 267.1L941.50 266.7L942.00 267.6L942.50 267.7L943.00 267.5L943.50 267.4L944.00 264.2L944.40 262.0L944.50 262.0L944.80 262.0L945.00 263.0L945.50 266.9L946.00 267.7L946.50 267.7L947.00 267.7L947.50 267.8L948.00 267.6L948.50 267.7L949.00 267.8L949.50 267.6L950.00 267.8L950.50 267.8L951.00 267.6L951.50 267.2L952.00 267.2L952.50 267.6L953.00 267.7L953.50 267.8L954.00 267.8L954.50 267.7L955.00 267.6L955.50 267.7L956.00 267.6L956.50 267.6L957.00 267.7L957.50 267.7L958.00 267.6L958.50 267.6L959.00 267.6L959.50 267.7L960.00 267.6L960.50 267.8L961.00 267.8L961.50 267.6L962.00 267.8L962.50 267.8L963.00 267.8L963.50 267.6L964.00 267.7L964.50 267.6L965.00 267.7L965.50 267.7L966.00 267.0L966.50 266.5L967.00 266.4L967.50 266.1L968.00 265.5L968.20 265.0L968.50 265.0L968.60 265.0L969.00 266.1L969.50 266.0L970.00 266.2L970.50 266.1L971.00 266.5L971.50 267.1L972.00 267.6L972.50 267.8L973.00 267.8L973.50 267.7L974.00 267.7L974.50 267.7L975.00 267.7L975.50 267.7L976.00 267.6L976.50 267.7L977.00 267.8L977.50 267.7L978.00 267.8L978.50 267.7L979.00 267.8L979.50 267.8L980.00 267.7L980.50 267.7L981.00 267.7L981.50 267.8L982.00 267.6L982.50 267.7L983.00 267.6L983.50 267.6L984.00 267.7L984.50 267.7L985.00 267.7L985.50 267.7L986.00 267.7L986.50 267.8L987.00 267.8L987.50 267.6L988.00 267.8L988.50 267.8L989.00 267.7L989.50 267.8L990.00 267.8L990.50 267.7L991.00 267.7L991.50 267.8L992.00 267.8L992.50 267.7L993.00 267.6L993.50 267.6L994.00 267.6L994.50 267.6L995.00 267.7L995.50 267.8L996.00 267.8L996.50 267.8L997.00 267.6L997.50 267.8L998.00 267.8L998.50 267.7L999.00 267.7L999.50 267.6L1000.00 267.8L1000.50 267.6L1001.00 267.7L1001.50 267.6L1002.00 267.7L1002.50 267.8L1003.00 267.6L1003.50 267.8L1004.00 267.7L1004.50 267.7L1005.00 267.8L1005.50 267.8L1006.00 267.8L1006.50 267.4L1007.00 267.6L1007.50 267.7L1008.00 267.8L1008.50 267.7L1009.00 267.7L1009.50 267.8L1010.00 267.7L1010.50 267.7L1011.00 267.7L1011.50 267.6L1012.00 267.7L1012.50 267.7L1013.00 267.7L1013.50 267.7L1014.00 267.5L1014.50 267.5L1015.00 267.6L1015.50 267.7L1016.00 267.2L1016.50 267.3L1017.00 267.2L1017.50 266.8L1018.00 266.3L1018.50 261.3L1019.00 252.6L1019.20 250.0L1019.50 250.0L1019.60 250.0L1020.00 255.6L1020.50 265.9L1021.00 266.7L1021.50 266.9L1022.00 267.2L1022.50 267.8L1023.00 267.7L1023.50 267.5L1024.00 267.4L1024.50 267.4L1025.00 267.4L1025.50 267.8L1026.00 267.8L1026.50 267.8L1027.00 267.8L1027.50 267.8L1028.00 267.7L1028.50 267.6L1029.00 267.8L1029.50 267.7L1030.00 267.6L1030.50 267.4L1031.00 267.8L1031.50 267.6L1032.00 267.6L1032.50 267.6L1033.00 267.6L1033.50 267.8L1034.00 267.7L1034.50 267.7L1035.00 267.7L1035.50 267.7L1036.00 267.6L1036.50 267.6L1037.00 267.7L1037.50 267.7L1038.00 267.6L1038.50 267.6L1039.00 267.8L1039.50 267.7L1040.00 267.7L1040.50 267.8L1041.00 267.7L1041.50 267.6L1042.00 266.7L1042.40 266.0L1042.50 266.0L1042.80 266.0L1043.00 266.3L1043.50 267.6L1044.00 267.7L1044.50 267.6L1045.00 267.7L1045.50 267.6L1046.00 267.6L1046.50 267.5L1047.00 263.4L1047.40 261.0L1047.50 261.0L1047.80 261.0L1048.00 262.1L1048.50 265.1L1049.00 265.6L1049.50 265.1L1050.00 266.2L1050.50 267.4L1051.00 267.4L1051.50 267.4L1052.00 267.4L1052.50 267.0L1053.00 265.2L1053.50 262.8L1054.00 262.1L1054.50 257.2L1055.00 250.6L1055.20 248.4L1055.50 248.4L1055.60 248.4L1056.00 253.0L1056.50 260.7L1057.00 263.2L1057.50 263.3L1058.00 262.6L1058.50 262.9L1059.00 264.6L1059.50 267.1L1060.00 267.6L1060.50 267.7L1061.00 267.8L1061.50 267.7L1062.00 267.6L1062.50 267.6L1063.00 267.7L1063.50 267.8L1064.00 267.7L1064.50 267.8L1065.00 267.8L1065.50 267.7L1066.00 267.8L1066.50 267.7L1067.00 267.7L1067.50 267.8L1068.00 267.6L1068.50 267.8L1069.00 267.7L1069.50 267.7L1070.00 267.8L1070.50 267.7L1071.00 267.7L1071.50 267.6L1072.00 267.6L1072.50 267.7L1073.00 267.8L1073.50 267.8L1074.00 267.8L1074.50 267.7L1075.00 267.7L1075.50 267.7L1076.00 267.8L1076.50 267.6L1077.00 267.7L1077.50 267.7L1078.00 267.7L1078.50 267.6L1079.00 267.7L1079.50 267.8L1080.00 267.7L1080.50 267.6L1081.00 267.7L1081.50 267.8L1082.00 267.8L1082.50 267.6L1083.00 267.7L1083.50 267.7L1084.00 267.7L1084.50 267.7L1085.00 267.8L1085.50 267.7L1086.00 267.8L1086.50 267.8L1087.00 267.7L1087.50 267.3L1088.00 267.1L1088.50 267.2L1089.00 267.7L1089.50 267.7L1090.00 267.1L1090.50 267.7L1091.00 267.8L1091.50 267.8L1092.00 267.6L1092.50 267.8L1093.00 267.7L1093.50 267.6L1094.00 267.7L1094.50 267.6L1095.00 267.7L1095.50 267.8L1096.00 267.7L1096.50 267.7L1097.00 267.7L1097.50 267.5L1098.00 267.6L1098.50 267.6L1099.00 267.6L1099.50 267.8L1100.00 267.8L1100.50 267.6L1101.00 267.7L1101.50 267.7L1102.00 267.6L1102.50 267.7L1103.00 267.6L1103.50 267.7L1104.00 267.8L1104.50 267.7L1105.00 267.7L1105.50 267.8L1106.00 267.1L1106.50 266.7L1107.00 266.4L1107.50 266.5L1108.00 266.5L1108.50 266.5L1109.00 266.7L1109.50 266.8L1110.00 267.1L1110.50 267.5L1111.00 267.6L1111.50 267.8L1112.00 267.7L1112.50 267.7L1113.00 267.8L1113.50 267.4L1114.00 265.3L1114.20 264.8L1114.50 264.8L1114.60 264.8L1115.00 266.0L1115.50 267.6L1116.00 267.6L1116.50 267.4L1117.00 267.6L1117.50 267.7L1118.00 267.5L1118.50 267.2L1119.00 267.6L1119.50 267.7L1120.00 267.7L1120.50 267.6L1121.00 266.9L1121.50 266.8L1122.00 266.9L1122.50 267.7L1123.00 267.7L1123.50 267.7L1124.00 267.8L1124.50 267.7L1125.00 266.7L1125.50 266.1L1126.00 265.6L1126.50 260.9L1127.00 247.8L1127.20 244.0L1127.50 244.0L1127.60 244.0L1128.00 252.1L1128.50 265.4L1129.00 266.2L1129.50 266.3L1130.00 267.2L1130.50 267.6L1131.00 262.6L1131.20 261.4L1131.50 261.4L1131.60 261.4L1132.00 264.1L1132.50 267.7L1133.00 267.6L1133.50 267.7L1134.00 267.7L1134.50 267.8L1135.00 267.6L1135.50 267.8L1136.00 267.8L1136.50 267.4L1137.00 267.5L1137.50 267.3L1138.00 267.6L1138.50 267.6L1139.00 267.1L1139.50 266.6L1139.80 266.4L1140.00 266.4L1140.20 266.4L1140.50 266.6L1141.00 267.1L1141.50 267.7L1142.00 267.8L1142.50 267.1L1143.00 267.1L1143.50 267.1L1144.00 267.3L1144.50 267.7L1145.00 267.7L1145.50 267.6L1146.00 267.7L1146.50 267.6L1147.00 267.7L1147.50 267.8L1148.00 267.7L1148.50 267.7L1149.00 267.6L1149.50 267.5L1150.00 267.6L1150.50 267.8L1151.00 267.8L1151.50 267.8L1152.00 267.7L1152.50 267.7L1153.00 267.8L1153.50 267.6L1154.00 267.7L1154.50 267.7L1155.00 267.8L1155.50 267.6L1156.00 267.6L1156.50 267.7L1157.00 267.8L1157.50 267.7L1158.00 267.7L1158.50 267.5L1159.00 267.3L1159.50 267.6L1160.00 267.5L1160.50 267.6L1161.00 267.6L1161.50 267.7L1162.00 267.6L1162.50 267.7L1163.00 267.7L1163.50 267.7L1164.00 267.5L1164.50 267.6L1165.00 267.8L1165.50 267.7L1166.00 267.8L1166.50 267.8L1167.00 267.6L1167.50 267.8L1168.00 267.8L1168.50 267.8L1169.00 267.7L1169.50 267.6L1170.00 267.7L1170.50 267.7L1171.00 267.6L1171.50 267.8L1172.00 267.3L1172.50 267.2L1173.00 267.0L1173.50 267.8L1174.00 267.7L1174.50 267.8L1175.00 267.7L1175.50 265.9L1176.00 262.5L1176.30 261.0L1176.50 261.0L1176.70 261.0L1177.00 262.5L1177.50 265.9L1178.00 267.1L1178.50 267.6L1179.00 267.7L1179.50 267.8L1180.00 267.7L1180.50 267.7L1181.00 267.7L1181.50 267.7L1182.00 267.6L1182.50 267.7L1183.00 267.8L1183.50 267.8L1184.00 267.6L1184.50 267.6L1185.00 267.7L1185.50 267.7L1186.00 267.6L1186.50 267.8L1187.00 267.6L1187.50 267.5L1188.00 267.6L1188.50 267.6L1189.00 267.8L1189.50 267.7L1190.00 267.8L1190.50 267.8L1191.00 267.6L1191.50 267.8L1192.00 264.4L1192.20 263.4L1192.50 263.4L1192.60 263.4L1193.00 265.5L1193.50 267.8L1194.00 267.5L1194.50 266.2L1195.00 261.8L1195.50 257.1L1195.60 255.5L1196.00 255.5L1196.50 257.5L1197.00 256.9L1197.50 257.8L1198.00 255.5L1198.40 255.5L1198.50 257.1L1199.00 256.9L1199.50 261.8L1199.80 263.0L1200.00 263.0L1200.20 263.0L1200.50 264.0L1201.00 266.5L1201.50 267.4L1202.00 267.4L1202.50 267.6L1203.00 267.5L1203.50 267.7L1204.00 267.6L1204.50 267.6L1205.00 267.4L1205.50 266.8L1206.00 267.1L1206.50 267.0L1207.00 266.9L1207.50 267.0L1208.00 267.0L1208.50 267.0L1209.00 266.8L1209.50 266.8L1210.00 267.1L1210.50 266.9L1211.00 267.1L1211.50 267.1L1212.00 265.9L1212.40 265.0L1212.50 265.0L1212.80 265.0L1213.00 265.4L1213.50 266.7L1214.00 267.0L1214.50 267.1L1215.00 266.9L1215.50 267.0L1216.00 266.9L1216.50 267.0L1217.00 267.0L1217.50 266.9L1218.00 267.0L1218.50 266.9L1219.00 266.9L1219.50 267.1L1220.00 266.8L1220.50 267.1L1221.00 266.8L1221.50 267.7L1222.00 267.8L1222.50 267.8L1223.00 267.8L1223.50 267.7L1224.00 267.8L1224.50 267.8L1225.00 267.6L1225.50 267.4L1226.00 267.4L1226.50 267.4L1227.00 267.4L1227.50 267.7L1228.00 267.7L1228.50 267.8L1229.00 267.7L1229.50 267.6L1230.00 267.8L1230.50 267.7L1231.00 267.6L1231.50 267.8L1232.00 267.6L1232.50 267.7L1233.00 267.8L1233.50 267.6L1234.00 267.8L1234.50 267.6L1235.00 267.7L1235.50 267.8L1236.00 267.8L1236.50 267.7L1237.00 267.7L1237.50 267.6L1238.00 267.8L1238.50 267.8L1239.00 267.8L1239.50 267.6L1240.00 267.8L1240.50 267.7L1241.00 267.8L1241.50 267.7L1242.00 267.7L1242.50 267.6L1243.00 267.6L1243.50 267.5L1244.00 267.8L1244.50 267.6L1245.00 267.7L1245.50 267.6L1246.00 267.6L1246.50 267.8L1247.00 267.6L1247.50 267.8L1248.00 267.8L1248.50 267.7L1249.00 267.6L1249.50 267.8L1250.00 267.6L1250.50 267.6L1251.00 267.8L1251.50 267.8L1252.00 267.7L1252.50 267.7L1253.00 267.8L1253.50 267.8L1254.00 267.8L1254.50 267.7L1255.00 267.8L1255.50 267.8L1256.00 267.7L1256.50 267.8L1257.00 267.8L1257.50 267.8L1258.00 267.8L1258.50 267.7L1259.00 267.7L1259.50 267.7L1260.00 267.8L1260.50 267.8L1261.00 267.7L1261.50 267.6L1262.00 267.7L1262.50 267.6L1263.00 267.8L1263.50 267.8L1264.00 267.7L1264.50 267.7L1265.00 267.8L1265.50 267.8L1266.00 267.8L1266.50 267.8L1267.00 267.8L1267.50 267.7L1268.00 267.8L1268.50 267.7L1269.00 267.7L1269.50 267.7L1270.00 267.8L1270.50 267.8L1271.00 267.7L1271.50 267.7L1272.00 267.7L1272.50 267.8L1273.00 267.8L1273.50 267.8L1274.00 267.8L1274.50 267.6L1275.00 267.7L1275.50 267.7L1276.00 267.6L1276.50 267.7L1277.00 267.8L1277.50 267.8L1278.00 267.8L1278.50 267.7L1279.00 267.7L1279.50 267.6L1280.00 267.6L1280.50 267.6L1281.00 267.7L1281.50 267.6L1282.00 267.6L1282.50 267.8L1283.00 267.8L1283.50 267.7L1284.00 267.8L1284.50 267.8L1285.00 267.6L1285.50 267.6L1286.00 267.8L1286.50 267.7L1287.00 267.7L1287.50 267.8L1288.00 267.7L1288.50 267.7L1289.00 267.8L1289.50 267.8L1290.00 267.8L1290.50 267.6L1291.00 267.8L1291.50 267.6L1292.00 267.7L1292.50 267.7L1293.00 267.8L1293.50 267.8L1294.00 267.8L1294.50 267.7L1295.00 267.8L1295.50 267.7L1296.00 267.8L1296.50 267.8L1297.00 267.7L1297.50 267.6L1298.00 267.7L1298.50 267.7L1299.00 267.8L1299.50 267.8L1300.00 267.7L1300.50 267.7L1301.00 267.7L1301.50 267.6L1302.00 267.8L1302.50 267.7L1303.00 267.7L1303.50 267.7L1304.00 267.6L1304.50 267.8L1305.00 267.7L1305.50 267.7L1306.00 267.6L1306.50 267.7L1307.00 267.8L1307.50 267.6L1308.00 267.6L1308.50 267.7L1309.00 267.8L1309.50 267.8L1310.00 267.8L1310.50 267.7L1311.00 267.7L1311.50 267.8L1312.00 267.7L1312.50 267.8L1313.00 267.7L1313.50 267.5L1314.00 267.7L1314.50 267.7L1315.00 267.7L1315.50 267.6L1316.00 267.8L1316.50 267.7L1317.00 267.6L1317.50 267.8L1318.00 267.8L1318.50 267.7L1319.00 267.8L1319.50 267.6L1320.00 267.6L1320.50 267.7L1321.00 267.7L1321.50 267.7L1322.00 267.8L1322.25 268.0Z" fill="#17A10E"/>
<line x1="351.5" x2="1369.6" y1="268.00" y2="268.00" stroke="#4a4a4a" stroke-width="1.1"/>
<text class="strip" x="176.6" y="221.3" textLength="104.5" lengthAdjust="spacingAndGlyphs">Papillary</text>
<path d="M395.75 389.5L396.00 389.2L396.50 389.2L397.00 389.2L397.50 389.2L398.00 389.3L398.50 389.1L399.00 389.2L399.50 389.2L400.00 389.2L400.50 389.2L401.00 389.3L401.50 389.3L402.00 389.3L402.50 389.2L403.00 389.2L403.50 389.2L404.00 389.2L404.50 388.2L405.00 387.5L405.50 387.2L406.00 387.2L406.50 386.0L407.00 383.7L407.50 379.2L407.80 377.1L408.00 377.1L408.20 377.1L408.50 379.2L409.00 383.6L409.50 384.1L410.00 385.9L410.50 387.5L411.00 387.5L411.50 387.1L412.00 387.2L412.50 387.2L413.00 387.3L413.50 387.3L414.00 383.7L414.20 382.5L414.50 382.5L414.60 382.5L415.00 385.1L415.50 387.2L416.00 387.5L416.50 387.6L417.00 388.3L417.50 389.1L418.00 389.1L418.50 389.3L419.00 389.2L419.50 389.1L420.00 389.2L420.50 389.1L421.00 389.1L421.50 389.3L422.00 389.2L422.50 389.3L423.00 389.3L423.50 389.3L424.00 388.4L424.50 388.6L425.00 388.4L425.50 389.2L426.00 389.1L426.50 389.1L427.00 389.2L427.50 389.1L428.00 389.2L428.50 389.3L429.00 389.2L429.50 388.8L430.00 388.9L430.50 389.1L431.00 389.2L431.50 389.3L432.00 389.2L432.50 389.2L433.00 389.2L433.50 389.1L434.00 389.1L434.50 389.1L435.00 389.2L435.50 389.3L436.00 389.1L436.50 389.3L437.00 389.0L437.50 389.0L438.00 389.1L438.50 389.0L439.00 389.1L439.50 389.2L440.00 389.3L440.50 389.1L441.00 389.3L441.50 389.3L442.00 389.3L442.50 389.2L443.00 389.2L443.50 389.3L444.00 389.2L444.50 389.1L445.00 389.2L445.50 389.2L446.00 388.5L446.50 387.5L447.00 387.5L447.50 387.9L448.00 385.3L448.50 382.1L449.00 380.6L449.50 382.2L450.00 378.9L450.50 372.3L451.00 371.9L451.50 348.0L452.00 328.5L452.40 328.5L452.50 332.0L453.00 352.7L453.50 373.2L454.00 375.7L454.50 382.2L455.00 382.5L455.50 381.3L456.00 380.5L456.20 379.1L456.50 379.1L456.60 379.1L457.00 380.6L457.50 382.4L458.00 381.0L458.50 384.5L459.00 387.9L459.50 387.9L460.00 387.6L460.50 387.9L461.00 388.5L461.50 389.2L462.00 389.3L462.50 389.2L463.00 389.2L463.50 389.3L464.00 389.3L464.50 389.2L465.00 389.3L465.50 389.2L466.00 388.9L466.50 389.1L467.00 389.1L467.50 389.0L468.00 389.2L468.50 389.2L469.00 389.3L469.50 389.2L470.00 389.2L470.50 389.1L471.00 389.2L471.50 389.1L472.00 389.1L472.50 389.3L473.00 389.2L473.50 389.2L474.00 389.2L474.50 389.2L475.00 389.1L475.50 389.2L476.00 389.2L476.50 389.2L477.00 389.3L477.50 389.3L478.00 389.3L478.50 389.2L479.00 389.2L479.50 389.3L480.00 389.3L480.50 388.4L481.00 388.6L481.50 388.8L482.00 388.5L482.50 389.2L483.00 389.3L483.50 389.1L484.00 389.2L484.50 389.2L485.00 389.3L485.50 389.3L486.00 389.2L486.50 388.6L487.00 388.6L487.50 388.5L488.00 389.3L488.50 389.3L489.00 389.3L489.50 389.0L490.00 389.0L490.50 389.1L491.00 389.1L491.50 389.2L492.00 389.2L492.50 388.9L493.00 388.7L493.50 389.2L494.00 389.3L494.50 389.3L495.00 389.1L495.50 389.2L496.00 389.2L496.50 389.1L497.00 389.2L497.50 389.2L498.00 389.2L498.50 389.1L499.00 389.1L499.50 388.5L500.00 388.4L500.50 388.4L501.00 389.1L501.50 389.2L502.00 389.2L502.50 389.2L503.00 389.1L503.50 389.3L504.00 389.2L504.50 389.3L505.00 389.3L505.50 389.2L506.00 388.7L506.50 388.7L507.00 389.2L507.50 389.2L508.00 389.2L508.50 389.3L509.00 389.3L509.50 389.2L510.00 389.3L510.50 389.1L511.00 388.9L511.50 388.9L512.00 389.2L512.50 389.1L513.00 389.2L513.50 389.3L514.00 389.2L514.50 389.2L515.00 389.1L515.50 389.3L516.00 389.3L516.50 389.3L517.00 389.2L517.50 389.3L518.00 389.3L518.50 389.2L519.00 389.1L519.50 389.1L520.00 388.6L520.50 388.7L521.00 388.9L521.50 388.9L522.00 388.4L522.50 389.1L523.00 389.3L523.50 389.2L524.00 389.3L524.50 389.2L525.00 389.1L525.50 389.3L526.00 388.9L526.50 389.0L527.00 389.1L527.50 389.2L528.00 389.3L528.50 389.3L529.00 389.3L529.50 389.1L530.00 389.1L530.50 389.2L531.00 389.2L531.50 388.8L532.00 388.8L532.50 388.6L533.00 387.2L533.50 386.4L534.00 386.0L534.50 385.7L535.00 375.9L535.20 373.1L535.50 373.1L535.60 373.1L536.00 379.2L536.50 385.5L537.00 374.7L537.20 371.7L537.50 371.7L537.60 371.7L538.00 378.3L538.50 385.8L539.00 385.6L539.50 385.7L540.00 385.9L540.50 387.6L541.00 389.0L541.50 388.8L542.00 389.0L542.50 389.2L543.00 389.3L543.50 389.2L544.00 389.3L544.50 389.2L545.00 389.1L545.50 389.2L546.00 389.2L546.50 389.1L547.00 389.3L547.50 389.2L548.00 389.1L548.50 389.3L549.00 389.3L549.50 389.2L550.00 389.1L550.50 389.3L551.00 389.3L551.50 388.9L552.00 388.9L552.50 389.1L553.00 388.9L553.50 388.5L554.00 388.4L554.50 389.2L555.00 389.2L555.50 389.2L556.00 389.2L556.50 389.3L557.00 389.2L557.50 389.3L558.00 389.2L558.50 389.3L559.00 388.6L559.50 388.4L560.00 388.2L560.50 389.3L561.00 389.2L561.50 389.1L562.00 389.2L562.50 389.1L563.00 389.3L563.50 389.1L564.00 389.2L564.50 389.2L565.00 389.1L565.50 389.3L566.00 389.3L566.50 389.1L567.00 389.1L567.50 389.3L568.00 389.2L568.50 388.6L569.00 388.9L569.50 388.0L570.00 389.2L570.50 389.1L571.00 389.2L571.50 389.1L572.00 389.0L572.50 389.0L573.00 388.9L573.50 389.1L574.00 388.9L574.50 389.0L575.00 389.2L575.50 389.3L576.00 389.3L576.50 389.2L577.00 389.2L577.50 389.3L578.00 389.2L578.50 389.2L579.00 389.1L579.50 389.2L580.00 389.2L580.50 389.3L581.00 389.2L581.50 389.3L582.00 389.3L582.50 389.2L583.00 389.1L583.50 389.1L584.00 389.1L584.50 389.2L585.00 389.2L585.50 389.2L586.00 389.3L586.50 389.3L587.00 389.2L587.50 389.1L588.00 389.1L588.50 389.2L589.00 389.2L589.50 389.1L590.00 389.1L590.50 389.1L591.00 389.2L591.50 388.9L592.00 388.3L592.20 388.1L592.50 388.1L592.60 388.1L593.00 388.5L593.50 389.3L594.00 389.2L594.50 389.2L595.00 389.1L595.50 389.2L596.00 389.3L596.50 389.2L597.00 389.1L597.50 389.1L598.00 389.3L598.50 389.2L599.00 389.2L599.50 389.1L600.00 389.2L600.50 389.3L601.00 389.2L601.50 389.3L602.00 388.7L602.50 388.8L603.00 388.8L603.50 388.6L604.00 389.1L604.50 389.2L605.00 389.2L605.50 389.2L606.00 389.1L606.50 389.0L607.00 389.2L607.50 389.1L608.00 389.3L608.50 389.2L609.00 389.2L609.50 389.2L610.00 389.1L610.50 389.2L611.00 389.0L611.50 389.1L612.00 389.1L612.50 389.1L613.00 389.1L613.50 389.2L614.00 389.1L614.50 389.2L615.00 389.2L615.50 389.2L616.00 389.1L616.50 389.2L617.00 389.1L617.50 389.2L618.00 389.2L618.50 389.1L619.00 389.2L619.50 389.3L620.00 389.2L620.50 389.0L621.00 389.1L621.50 389.3L622.00 389.3L622.50 389.3L623.00 389.1L623.50 389.2L624.00 389.2L624.50 388.7L625.00 388.9L625.50 388.7L626.00 389.0L626.50 389.2L627.00 388.8L627.50 388.6L628.00 389.1L628.50 389.3L629.00 389.2L629.50 389.2L630.00 389.3L630.50 389.3L631.00 389.3L631.50 389.2L632.00 389.2L632.50 389.2L633.00 389.3L633.50 389.3L634.00 389.3L634.50 389.3L635.00 389.1L635.50 389.3L636.00 388.9L636.50 389.2L637.00 389.2L637.50 389.3L638.00 389.1L638.50 389.1L639.00 389.1L639.50 389.2L640.00 389.1L640.50 389.2L641.00 389.3L641.50 389.3L642.00 389.1L642.50 389.1L643.00 389.3L643.50 389.2L644.00 389.2L644.50 389.1L645.00 389.1L645.50 389.1L646.00 389.3L646.50 389.1L647.00 389.3L647.50 389.2L648.00 389.1L648.50 389.3L649.00 389.2L649.50 389.1L650.00 389.2L650.50 389.1L651.00 389.2L651.50 389.2L652.00 389.1L652.50 389.2L653.00 389.2L653.50 389.2L654.00 389.1L654.50 389.3L655.00 389.3L655.50 389.3L656.00 389.3L656.50 389.2L657.00 389.3L657.50 389.1L658.00 389.3L658.50 389.2L659.00 389.2L659.50 389.3L660.00 389.3L660.50 389.1L661.00 389.1L661.50 389.2L662.00 389.3L662.50 389.2L663.00 389.1L663.50 389.2L664.00 389.1L664.50 389.2L665.00 389.3L665.50 388.9L666.00 388.8L666.50 388.9L667.00 389.1L667.50 388.3L668.00 388.4L668.50 389.1L669.00 389.2L669.50 389.2L670.00 389.3L670.50 389.3L671.00 389.2L671.50 389.2L672.00 389.2L672.50 389.2L673.00 388.6L673.50 388.9L674.00 389.1L674.50 389.0L675.00 389.1L675.50 389.2L676.00 389.3L676.50 389.3L677.00 389.2L677.50 389.3L678.00 389.1L678.50 389.1L679.00 389.2L679.50 389.3L680.00 389.2L680.50 389.3L681.00 389.2L681.50 389.1L682.00 389.3L682.50 389.1L683.00 389.1L683.50 389.2L684.00 389.2L684.50 389.0L685.00 389.1L685.50 389.1L686.00 389.2L686.50 389.2L687.00 389.3L687.50 389.3L688.00 389.1L688.50 388.9L689.00 388.9L689.50 389.2L690.00 389.3L690.50 389.1L691.00 389.1L691.50 389.1L692.00 389.2L692.50 389.2L693.00 389.1L693.50 389.2L694.00 389.2L694.50 389.2L695.00 389.2L695.50 389.3L696.00 389.3L696.50 389.1L697.00 389.2L697.50 389.1L698.00 389.2L698.50 389.2L699.00 389.2L699.50 389.1L700.00 389.1L700.50 389.1L701.00 389.1L701.50 389.3L702.00 389.3L702.50 389.1L703.00 389.3L703.50 389.1L704.00 389.1L704.50 389.2L705.00 389.1L705.50 389.3L706.00 388.0L706.50 389.2L707.00 389.2L707.50 389.3L708.00 389.3L708.50 389.1L709.00 389.3L709.50 389.2L710.00 389.3L710.50 389.2L711.00 389.3L711.50 389.1L712.00 389.2L712.50 389.3L713.00 389.1L713.50 389.3L714.00 389.2L714.50 389.2L715.00 388.9L715.50 388.8L716.00 389.0L716.50 389.1L717.00 389.1L717.50 389.1L718.00 389.3L718.50 389.2L719.00 389.2L719.50 389.3L720.00 389.3L720.50 388.6L721.00 388.6L721.50 389.3L722.00 389.2L722.50 389.1L723.00 389.3L723.50 389.2L724.00 389.2L724.50 388.7L725.00 388.9L725.50 389.0L726.00 388.9L726.50 389.1L727.00 389.1L727.50 389.1L728.00 389.3L728.50 389.3L729.00 389.2L729.50 389.3L730.00 389.3L730.50 389.2L731.00 389.2L731.50 389.1L732.00 389.3L732.50 389.3L733.00 389.1L733.50 389.3L734.00 389.2L734.50 388.7L735.00 388.7L735.50 389.3L736.00 389.2L736.50 389.3L737.00 389.2L737.50 389.1L738.00 389.2L738.50 388.8L739.00 387.5L739.40 387.5L739.50 387.7L740.00 389.1L740.50 389.1L741.00 389.2L741.50 389.3L742.00 389.3L742.50 389.3L743.00 389.3L743.50 389.2L744.00 389.1L744.50 388.9L745.00 388.8L745.50 388.8L746.00 389.2L746.50 389.0L747.00 389.0L747.50 389.1L748.00 389.1L748.50 389.0L749.00 389.2L749.50 389.2L750.00 389.2L750.50 389.1L751.00 388.0L751.50 388.0L752.00 388.0L752.50 389.3L753.00 389.2L753.50 389.3L754.00 389.2L754.50 389.3L755.00 388.5L755.50 388.7L756.00 388.9L756.50 389.2L757.00 389.2L757.50 389.2L758.00 389.2L758.50 389.1L759.00 388.9L759.50 388.4L760.00 388.7L760.50 388.4L761.00 388.2L761.50 389.1L762.00 389.2L762.50 388.5L763.00 389.2L763.50 389.2L764.00 389.2L764.50 388.7L765.00 386.9L765.50 385.6L766.00 383.8L766.40 381.5L766.50 381.5L766.80 381.5L767.00 382.6L767.50 386.0L768.00 386.3L768.50 387.0L769.00 388.8L769.50 389.1L770.00 387.7L770.40 386.1L770.50 386.1L770.80 386.1L771.00 386.8L771.50 389.1L772.00 389.3L772.50 389.1L773.00 388.6L773.50 387.3L773.80 386.7L774.00 386.7L774.20 386.7L774.50 387.3L775.00 388.6L775.50 389.1L776.00 389.2L776.50 388.9L777.00 388.8L777.50 388.8L778.00 389.2L778.50 389.1L779.00 389.3L779.50 389.3L780.00 389.1L780.50 389.3L781.00 389.3L781.50 389.3L782.00 389.3L782.50 389.2L783.00 389.3L783.50 389.1L784.00 389.2L784.50 389.1L785.00 389.1L785.50 389.1L786.00 389.1L786.50 389.3L787.00 389.1L787.50 389.2L788.00 389.1L788.50 389.3L789.00 389.2L789.50 389.2L790.00 389.1L790.50 389.3L791.00 389.1L791.50 389.3L792.00 389.1L792.50 389.2L793.00 389.3L793.50 389.1L794.00 389.2L794.50 389.2L795.00 389.2L795.50 389.2L796.00 389.2L796.50 389.2L797.00 389.2L797.50 389.2L798.00 389.2L798.50 389.1L799.00 388.5L799.50 387.9L800.00 387.5L800.50 386.6L801.00 386.0L801.50 371.9L802.00 360.1L802.40 360.1L802.50 362.2L803.00 375.0L803.50 386.9L804.00 387.2L804.50 387.6L805.00 388.4L805.50 389.2L806.00 389.2L806.50 389.1L807.00 389.0L807.50 389.1L808.00 389.1L808.50 389.3L809.00 389.2L809.50 389.3L810.00 389.1L810.50 389.1L811.00 389.2L811.50 389.2L812.00 388.6L812.50 389.1L813.00 389.0L813.50 388.9L814.00 389.2L814.50 389.2L815.00 389.2L815.50 389.2L816.00 386.1L816.40 383.1L816.50 383.1L816.80 383.1L817.00 384.4L817.50 389.1L818.00 389.3L818.50 389.3L819.00 389.3L819.50 389.1L820.00 388.9L820.50 389.1L821.00 389.2L821.50 389.2L822.00 389.2L822.50 389.2L823.00 388.9L823.50 388.9L824.00 388.9L824.50 388.7L825.00 389.2L825.50 389.3L826.00 389.3L826.50 389.3L827.00 389.2L827.50 389.1L828.00 389.2L828.50 389.2L829.00 389.3L829.50 389.3L830.00 389.2L830.50 389.3L831.00 388.4L831.50 388.6L832.00 388.2L832.50 388.5L833.00 389.0L833.50 389.2L834.00 388.8L834.50 388.9L835.00 389.2L835.50 389.2L836.00 389.3L836.50 389.0L837.00 387.8L837.50 386.6L838.00 386.2L838.50 386.4L839.00 384.7L839.20 383.7L839.50 383.7L839.60 383.7L840.00 385.8L840.50 386.6L841.00 386.1L841.50 386.7L842.00 386.9L842.50 386.4L843.00 386.6L843.50 386.3L843.80 385.5L844.00 385.5L844.20 385.5L844.50 386.3L845.00 386.1L845.50 386.1L846.00 387.5L846.50 389.0L847.00 389.1L847.50 389.3L848.00 389.2L848.50 389.2L849.00 389.2L849.50 389.3L850.00 389.2L850.50 389.1L851.00 389.2L851.50 389.2L852.00 389.2L852.50 389.2L853.00 389.1L853.50 389.1L854.00 389.1L854.50 389.1L855.00 389.3L855.50 389.0L856.00 388.9L856.50 388.9L857.00 389.2L857.50 389.3L858.00 389.1L858.50 389.3L859.00 389.3L859.50 388.5L860.00 388.7L860.50 388.7L861.00 388.5L861.50 385.0L862.00 380.5L862.20 379.1L862.50 379.1L862.60 379.1L863.00 382.1L863.50 386.1L864.00 386.8L864.50 388.8L865.00 389.0L865.50 388.6L866.00 388.5L866.50 388.7L867.00 388.3L867.50 389.2L868.00 389.0L868.50 388.9L869.00 388.9L869.50 389.1L870.00 389.1L870.50 389.0L871.00 389.1L871.50 389.1L872.00 389.1L872.50 389.2L873.00 389.3L873.50 389.3L874.00 389.3L874.50 386.4L874.80 385.3L875.00 385.3L875.20 385.3L875.50 386.4L876.00 389.3L876.50 389.1L877.00 389.2L877.50 389.2L878.00 389.1L878.50 389.3L879.00 389.3L879.50 389.2L880.00 387.4L880.40 386.1L880.50 386.1L880.80 386.1L881.00 386.7L881.50 388.9L882.00 389.3L882.50 389.1L883.00 389.1L883.50 389.1L884.00 389.2L884.50 389.3L885.00 389.2L885.50 388.8L886.00 388.7L886.50 388.6L887.00 388.7L887.50 388.5L888.00 388.9L888.50 389.0L889.00 389.1L889.50 389.3L890.00 389.2L890.50 388.9L891.00 388.7L891.50 389.3L892.00 389.1L892.50 389.3L893.00 389.2L893.50 389.2L894.00 389.2L894.50 389.3L895.00 389.3L895.50 389.1L896.00 388.9L896.50 389.2L897.00 388.6L897.50 388.8L898.00 389.2L898.50 389.3L899.00 388.3L899.50 389.3L900.00 389.1L900.50 389.3L901.00 389.2L901.50 389.2L902.00 389.3L902.50 389.1L903.00 389.2L903.50 389.1L904.00 389.2L904.50 389.2L905.00 389.1L905.50 389.3L906.00 389.2L906.50 389.3L907.00 389.1L907.50 389.2L908.00 389.1L908.50 388.4L908.80 388.1L909.00 388.1L909.20 388.1L909.50 388.4L910.00 389.1L910.50 389.2L911.00 389.1L911.50 389.2L912.00 389.1L912.50 389.2L913.00 389.2L913.50 389.1L914.00 389.3L914.50 389.3L915.00 387.9L915.50 388.2L916.00 387.9L916.50 389.2L917.00 389.2L917.50 389.2L918.00 389.2L918.50 389.1L919.00 389.1L919.50 389.1L920.00 388.9L920.50 388.8L921.00 388.8L921.50 388.9L922.00 389.0L922.50 389.2L923.00 388.9L923.50 389.1L924.00 389.1L924.50 389.3L925.00 389.3L925.50 389.2L926.00 389.2L926.50 389.1L927.00 389.1L927.50 389.1L928.00 389.3L928.50 389.3L929.00 388.3L929.50 388.2L930.00 388.6L930.50 388.5L931.00 388.5L931.50 387.6L932.00 387.7L932.50 387.9L933.00 387.5L933.50 387.5L934.00 387.6L934.50 387.7L935.00 387.6L935.50 387.5L936.00 387.9L936.50 387.9L937.00 388.4L937.50 389.3L938.00 389.1L938.50 389.3L939.00 389.2L939.50 389.1L940.00 389.2L940.50 389.3L941.00 389.2L941.50 389.3L942.00 389.3L942.50 389.3L943.00 389.3L943.50 389.1L944.00 389.3L944.50 389.1L945.00 389.3L945.50 389.2L946.00 389.2L946.50 389.3L947.00 389.3L947.50 389.3L948.00 389.2L948.50 389.2L949.00 389.3L949.50 389.1L950.00 389.1L950.50 389.1L951.00 389.2L951.50 389.2L952.00 389.3L952.50 389.1L953.00 389.2L953.50 389.3L954.00 389.1L954.50 388.9L955.00 386.4L955.40 385.1L955.50 385.1L955.80 385.1L956.00 385.7L956.50 387.6L957.00 388.3L957.50 388.2L958.00 389.1L958.50 389.1L959.00 389.3L959.50 389.3L960.00 389.1L960.50 389.2L961.00 389.1L961.50 389.1L962.00 389.1L962.50 389.2L963.00 389.2L963.50 389.1L964.00 389.1L964.50 389.2L965.00 389.3L965.50 389.2L966.00 388.4L966.50 387.7L967.00 387.9L967.50 387.7L968.00 387.7L968.50 387.7L969.00 387.6L969.50 387.8L970.00 387.6L970.50 387.7L971.00 387.9L971.50 387.6L972.00 387.9L972.50 387.5L973.00 387.5L973.50 387.9L974.00 387.9L974.50 387.6L975.00 388.5L975.50 389.1L976.00 389.2L976.50 389.2L977.00 389.2L977.50 389.2L978.00 389.2L978.50 389.2L979.00 389.1L979.50 389.1L980.00 389.3L980.50 389.1L981.00 389.3L981.50 389.3L982.00 389.2L982.50 389.2L983.00 388.9L983.50 389.0L984.00 389.2L984.50 389.1L985.00 389.1L985.50 389.1L986.00 389.3L986.50 389.2L987.00 389.2L987.50 389.2L988.00 389.3L988.50 389.1L989.00 389.1L989.50 389.2L990.00 386.8L990.20 386.1L990.50 386.1L990.60 386.1L991.00 387.7L991.50 389.0L992.00 389.0L992.50 389.1L993.00 389.1L993.50 389.2L994.00 389.1L994.50 389.2L995.00 389.3L995.50 389.2L996.00 389.2L996.50 389.2L997.00 389.2L997.50 389.3L998.00 389.2L998.50 389.3L999.00 389.3L999.50 389.2L1000.00 389.3L1000.50 389.2L1001.00 389.3L1001.50 389.0L1002.00 388.8L1002.50 388.5L1003.00 389.1L1003.50 389.1L1004.00 389.2L1004.50 389.3L1005.00 389.3L1005.50 389.2L1006.00 389.2L1006.50 389.3L1007.00 389.3L1007.50 388.4L1008.00 389.2L1008.50 389.1L1009.00 389.3L1009.50 389.3L1010.00 389.2L1010.50 389.1L1011.00 389.3L1011.50 389.2L1012.00 389.2L1012.50 389.2L1013.00 389.2L1013.50 389.2L1014.00 389.2L1014.50 389.2L1015.00 389.3L1015.50 389.2L1016.00 389.1L1016.50 389.3L1017.00 389.2L1017.50 389.1L1018.00 389.2L1018.50 388.6L1019.00 385.4L1019.20 384.5L1019.50 384.5L1019.60 384.5L1020.00 386.4L1020.50 389.3L1021.00 389.3L1021.50 389.1L1022.00 389.1L1022.50 389.3L1023.00 389.3L1023.50 389.3L1024.00 389.1L1024.50 389.1L1025.00 389.2L1025.50 389.2L1026.00 389.1L1026.50 389.3L1027.00 389.3L1027.50 389.1L1028.00 389.1L1028.50 389.1L1029.00 389.1L1029.50 389.1L1030.00 389.3L1030.50 388.9L1031.00 389.1L1031.50 389.0L1032.00 389.1L1032.50 389.3L1033.00 389.3L1033.50 389.2L1034.00 389.2L1034.50 389.0L1035.00 389.1L1035.50 389.1L1036.00 389.3L1036.50 389.3L1037.00 388.1L1037.50 388.4L1038.00 389.0L1038.50 389.2L1039.00 389.2L1039.50 389.3L1040.00 389.2L1040.50 389.2L1041.00 389.2L1041.50 389.3L1042.00 388.8L1042.50 387.6L1042.80 387.1L1043.00 387.1L1043.20 387.1L1043.50 387.6L1044.00 388.8L1044.50 389.2L1045.00 389.2L1045.50 388.9L1046.00 388.8L1046.50 389.2L1047.00 386.7L1047.40 385.1L1047.50 385.1L1047.80 385.1L1048.00 385.9L1048.50 388.7L1049.00 389.2L1049.50 389.2L1050.00 389.3L1050.50 389.1L1051.00 389.0L1051.50 389.1L1052.00 388.5L1052.50 385.7L1053.00 383.8L1053.50 383.4L1054.00 383.1L1054.50 378.3L1055.00 369.1L1055.20 366.1L1055.50 366.1L1055.60 366.1L1056.00 372.3L1056.50 383.0L1057.00 382.7L1057.50 383.3L1058.00 382.8L1058.50 385.5L1059.00 388.4L1059.50 389.3L1060.00 389.3L1060.50 389.0L1061.00 389.3L1061.50 389.2L1062.00 389.3L1062.50 389.1L1063.00 389.2L1063.50 389.2L1064.00 389.1L1064.50 389.1L1065.00 389.2L1065.50 389.3L1066.00 388.6L1066.50 388.6L1067.00 388.6L1067.50 388.7L1068.00 389.3L1068.50 389.2L1069.00 389.1L1069.50 389.2L1070.00 389.3L1070.50 389.3L1071.00 389.2L1071.50 389.1L1072.00 389.2L1072.50 389.2L1073.00 389.1L1073.50 389.1L1074.00 389.1L1074.50 389.2L1075.00 389.2L1075.50 389.2L1076.00 389.2L1076.50 389.2L1077.00 389.2L1077.50 389.2L1078.00 389.2L1078.50 389.3L1079.00 389.3L1079.50 389.2L1080.00 389.3L1080.50 389.3L1081.00 389.3L1081.50 389.3L1082.00 389.0L1082.50 388.6L1083.00 388.8L1083.50 389.1L1084.00 389.1L1084.50 389.1L1085.00 389.2L1085.50 389.2L1086.00 389.1L1086.50 389.2L1087.00 389.2L1087.50 389.3L1088.00 389.2L1088.50 389.3L1089.00 389.2L1089.50 389.2L1090.00 389.2L1090.50 388.7L1091.00 387.8L1091.50 388.0L1092.00 389.1L1092.50 389.1L1093.00 389.1L1093.50 389.2L1094.00 389.2L1094.50 389.2L1095.00 389.2L1095.50 389.1L1096.00 389.2L1096.50 389.3L1097.00 389.1L1097.50 389.2L1098.00 389.1L1098.50 389.2L1099.00 389.3L1099.50 389.3L1100.00 389.2L1100.50 389.1L1101.00 389.1L1101.50 389.1L1102.00 389.1L1102.50 389.2L1103.00 389.3L1103.50 389.2L1104.00 388.4L1104.50 386.0L1105.00 383.5L1105.50 384.0L1105.80 382.5L1106.00 382.5L1106.20 382.5L1106.50 384.1L1107.00 383.7L1107.50 383.4L1108.00 381.9L1108.40 377.5L1108.50 377.5L1108.80 377.5L1109.00 379.6L1109.50 383.1L1110.00 383.7L1110.50 385.8L1111.00 388.5L1111.50 387.9L1112.00 388.3L1112.50 388.2L1113.00 388.0L1113.50 389.3L1114.00 387.9L1114.20 387.5L1114.50 387.5L1114.60 387.5L1115.00 388.4L1115.50 389.2L1116.00 389.2L1116.50 389.3L1117.00 389.3L1117.50 389.3L1118.00 389.2L1118.50 389.3L1119.00 389.3L1119.50 389.2L1120.00 389.3L1120.50 389.3L1121.00 389.2L1121.50 389.2L1122.00 389.2L1122.50 389.2L1123.00 389.2L1123.50 389.2L1124.00 389.3L1124.50 388.6L1125.00 387.5L1125.50 387.3L1126.00 386.3L1126.50 376.7L1127.00 360.1L1127.20 355.1L1127.50 355.1L1127.60 355.1L1128.00 365.8L1128.50 386.4L1129.00 386.4L1129.50 386.9L1130.00 387.9L1130.50 385.2L1131.00 380.1L1131.40 380.1L1131.50 381.0L1132.00 386.9L1132.50 388.7L1133.00 388.9L1133.50 388.9L1134.00 389.0L1134.50 389.3L1135.00 389.3L1135.50 389.3L1136.00 389.1L1136.50 389.2L1137.00 389.2L1137.50 389.2L1138.00 389.3L1138.50 389.1L1139.00 388.2L1139.50 387.5L1139.80 387.1L1140.00 387.1L1140.20 387.1L1140.50 387.5L1141.00 388.2L1141.50 388.6L1142.00 388.5L1142.50 388.8L1143.00 388.8L1143.50 388.1L1144.00 388.3L1144.50 387.8L1145.00 388.1L1145.50 389.2L1146.00 389.2L1146.50 389.3L1147.00 389.3L1147.50 389.3L1148.00 389.3L1148.50 389.3L1149.00 389.3L1149.50 389.1L1150.00 389.2L1150.50 389.1L1151.00 389.2L1151.50 389.3L1152.00 389.3L1152.50 389.3L1153.00 389.3L1153.50 389.1L1154.00 389.2L1154.50 389.1L1155.00 389.2L1155.50 389.2L1156.00 389.2L1156.50 389.3L1157.00 389.1L1157.50 389.1L1158.00 389.2L1158.50 389.2L1159.00 389.1L1159.50 389.1L1160.00 389.2L1160.50 388.7L1161.00 388.9L1161.50 389.3L1162.00 389.3L1162.50 389.3L1163.00 389.2L1163.50 389.3L1164.00 388.5L1164.50 386.8L1164.80 386.1L1165.00 386.1L1165.20 386.1L1165.50 386.8L1166.00 388.5L1166.50 388.6L1167.00 389.1L1167.50 389.3L1168.00 389.3L1168.50 389.3L1169.00 389.2L1169.50 388.9L1170.00 389.0L1170.50 389.1L1171.00 388.9L1171.50 388.7L1172.00 388.6L1172.50 388.6L1173.00 388.8L1173.50 389.1L1174.00 389.3L1174.50 389.2L1175.00 389.0L1175.50 389.0L1176.00 383.6L1176.40 380.9L1176.50 380.9L1176.80 380.9L1177.00 382.2L1177.50 386.3L1178.00 389.1L1178.50 389.1L1179.00 389.0L1179.50 389.0L1180.00 389.3L1180.50 389.1L1181.00 389.1L1181.50 389.3L1182.00 389.2L1182.50 389.3L1183.00 389.1L1183.50 389.2L1184.00 389.2L1184.50 389.2L1185.00 389.2L1185.50 389.2L1186.00 389.1L1186.50 389.2L1187.00 389.2L1187.50 388.9L1188.00 388.9L1188.50 388.9L1189.00 389.2L1189.50 387.6L1190.00 385.7L1190.20 385.1L1190.50 385.1L1190.60 385.1L1191.00 386.4L1191.50 388.5L1192.00 388.6L1192.50 385.0L1193.00 380.5L1193.20 379.1L1193.50 379.1L1193.60 379.1L1194.00 382.1L1194.50 381.5L1195.00 375.9L1195.50 360.5L1196.00 340.3L1196.20 333.7L1196.50 333.7L1196.60 333.7L1197.00 347.6L1197.50 371.9L1198.00 364.9L1198.20 361.1L1198.50 361.1L1198.60 361.1L1199.00 369.2L1199.50 376.3L1200.00 382.2L1200.50 385.2L1201.00 385.8L1201.50 386.5L1202.00 386.6L1202.50 384.9L1202.80 383.7L1203.00 383.7L1203.20 383.7L1203.50 384.9L1204.00 386.3L1204.50 386.0L1205.00 387.2L1205.50 387.4L1206.00 387.0L1206.50 387.5L1207.00 387.4L1207.50 387.4L1208.00 387.0L1208.50 387.8L1209.00 388.0L1209.50 387.8L1210.00 388.0L1210.50 387.9L1211.00 388.4L1211.50 388.4L1212.00 388.6L1212.50 388.7L1213.00 388.9L1213.50 389.0L1214.00 388.9L1214.50 388.9L1215.00 389.1L1215.50 389.3L1216.00 389.3L1216.50 388.7L1217.00 388.7L1217.50 388.9L1218.00 389.0L1218.50 389.3L1219.00 389.2L1219.50 387.7L1219.80 387.1L1220.00 387.1L1220.20 387.1L1220.50 387.7L1221.00 389.2L1221.50 389.3L1222.00 389.2L1222.50 389.3L1223.00 389.2L1223.50 389.1L1224.00 389.2L1224.50 389.2L1225.00 389.1L1225.50 388.8L1226.00 389.1L1226.50 389.3L1227.00 389.3L1227.50 389.1L1228.00 389.2L1228.50 389.3L1229.00 389.2L1229.50 389.3L1230.00 389.0L1230.50 389.1L1231.00 389.3L1231.50 389.3L1232.00 389.1L1232.50 389.2L1233.00 389.2L1233.50 389.1L1234.00 389.0L1234.50 389.1L1235.00 389.2L1235.50 389.3L1236.00 389.3L1236.50 389.1L1237.00 389.1L1237.50 389.1L1238.00 389.3L1238.50 389.3L1239.00 389.2L1239.50 389.1L1240.00 389.1L1240.50 389.1L1241.00 389.1L1241.50 389.1L1242.00 389.3L1242.50 389.1L1243.00 389.1L1243.50 389.2L1244.00 389.2L1244.50 389.3L1245.00 389.3L1245.50 389.2L1246.00 389.2L1246.50 389.2L1247.00 389.3L1247.50 389.2L1248.00 389.3L1248.50 389.2L1249.00 389.3L1249.50 389.2L1250.00 389.1L1250.50 389.2L1251.00 388.7L1251.50 389.2L1252.00 389.2L1252.50 389.3L1253.00 389.2L1253.50 389.3L1254.00 389.1L1254.50 389.3L1255.00 389.2L1255.50 389.1L1256.00 389.3L1256.50 389.1L1257.00 389.2L1257.50 389.3L1258.00 389.1L1258.50 388.9L1259.00 388.9L1259.50 389.3L1260.00 389.1L1260.50 389.3L1261.00 389.0L1261.50 389.1L1262.00 389.1L1262.50 389.0L1263.00 389.3L1263.50 389.3L1264.00 389.2L1264.50 389.1L1265.00 389.1L1265.50 389.3L1266.00 389.3L1266.50 389.2L1267.00 389.3L1267.50 389.3L1268.00 389.3L1268.50 389.3L1269.00 389.3L1269.50 389.1L1270.00 389.2L1270.50 389.2L1271.00 389.3L1271.50 389.2L1272.00 389.3L1272.50 389.3L1273.00 389.2L1273.50 389.2L1274.00 389.3L1274.50 389.3L1275.00 389.1L1275.50 389.2L1276.00 389.3L1276.50 389.2L1277.00 389.3L1277.50 389.2L1278.00 389.2L1278.50 389.3L1279.00 389.2L1279.50 389.3L1280.00 389.2L1280.50 389.3L1281.00 389.3L1281.50 389.0L1282.00 389.3L1282.50 389.2L1283.00 389.1L1283.50 389.0L1284.00 389.3L1284.50 389.1L1285.00 389.3L1285.50 389.3L1286.00 389.2L1286.50 389.0L1287.00 389.0L1287.50 388.9L1288.00 389.1L1288.50 389.1L1289.00 389.1L1289.50 389.1L1290.00 389.1L1290.50 389.2L1291.00 389.2L1291.50 389.3L1292.00 389.3L1292.50 389.2L1293.00 389.3L1293.50 389.3L1294.00 389.3L1294.50 389.2L1295.00 389.1L1295.50 389.3L1296.00 389.1L1296.50 389.3L1297.00 389.3L1297.50 389.3L1298.00 389.3L1298.50 389.2L1299.00 389.3L1299.50 389.2L1300.00 389.3L1300.50 389.3L1301.00 389.3L1301.50 389.1L1302.00 389.3L1302.50 389.2L1303.00 389.3L1303.50 389.2L1304.00 389.2L1304.50 389.3L1305.00 389.3L1305.50 389.2L1306.00 389.3L1306.50 389.2L1307.00 389.3L1307.50 389.1L1308.00 389.3L1308.50 389.2L1309.00 389.2L1309.50 389.2L1310.00 389.2L1310.50 389.3L1311.00 389.1L1311.50 388.9L1312.00 388.8L1312.50 388.9L1313.00 388.8L1313.50 389.3L1314.00 389.2L1314.50 389.2L1315.00 389.3L1315.50 389.2L1316.00 389.3L1316.50 389.1L1317.00 389.1L1317.50 389.2L1318.00 389.2L1318.50 388.9L1319.00 389.0L1319.50 388.8L1320.00 389.1L1320.50 389.3L1321.00 389.3L1321.50 389.3L1322.00 388.4L1322.20 388.1L1322.50 388.1L1322.60 388.1L1323.00 388.7L1323.25 389.5Z" fill="#52DC62"/>
<line x1="351.5" x2="1369.6" y1="389.50" y2="389.50" stroke="#4a4a4a" stroke-width="1.1"/>
<text class="strip" x="118.3" y="342.8" textLength="221.6" lengthAdjust="spacingAndGlyphs">Upper Progenitors</text>
<path d="M395.75 511.0L396.00 510.6L396.50 510.7L397.00 510.6L397.50 510.5L398.00 510.7L398.50 510.6L399.00 510.7L399.50 510.7L400.00 510.7L400.50 510.7L401.00 510.8L401.50 510.7L402.00 510.2L402.50 510.7L403.00 510.6L403.50 510.6L404.00 509.7L404.50 508.7L405.00 508.7L405.50 509.0L406.00 509.1L406.50 508.7L407.00 507.3L407.50 504.5L407.80 503.2L408.00 503.2L408.20 503.2L408.50 504.5L409.00 507.3L409.50 508.6L410.00 509.1L410.50 509.0L411.00 509.1L411.50 509.0L412.00 508.8L412.50 509.0L413.00 508.9L413.50 508.7L414.00 509.6L414.50 510.6L415.00 510.6L415.50 510.8L416.00 510.7L416.50 509.3L417.00 510.4L417.50 510.6L418.00 510.7L418.50 510.0L419.00 509.9L419.50 510.2L420.00 510.1L420.50 508.4L421.00 510.2L421.50 510.7L422.00 510.7L422.50 510.7L423.00 510.7L423.50 510.7L424.00 510.8L424.50 510.7L425.00 510.7L425.50 508.9L426.00 509.6L426.50 510.4L427.00 510.3L427.50 510.7L428.00 510.8L428.50 510.8L429.00 510.6L429.50 510.8L430.00 510.8L430.50 510.7L431.00 510.7L431.50 510.6L432.00 510.6L432.50 510.8L433.00 509.7L433.40 508.6L433.50 508.6L433.80 508.6L434.00 509.1L434.50 510.6L435.00 510.7L435.50 510.8L436.00 510.8L436.50 510.6L437.00 510.5L437.50 509.7L438.00 509.6L438.50 509.7L439.00 510.7L439.50 510.8L440.00 510.8L440.50 510.2L441.00 510.0L441.50 510.1L442.00 510.0L442.50 509.6L443.00 509.8L443.50 509.7L444.00 509.7L444.50 509.5L445.00 508.8L445.50 509.7L446.00 509.8L446.50 509.8L447.00 509.8L447.50 509.5L448.00 505.3L448.50 501.9L449.00 501.9L449.50 497.4L450.00 486.3L450.50 486.4L451.00 459.3L451.40 440.5L451.50 440.5L451.80 440.5L452.00 449.4L452.50 477.2L453.00 486.9L453.50 489.0L454.00 500.3L454.50 507.0L455.00 509.8L455.50 508.3L456.00 507.0L456.50 502.7L457.00 495.1L457.30 491.6L457.50 491.6L457.70 491.6L458.00 495.1L458.50 502.7L459.00 506.9L459.50 506.6L460.00 508.5L460.50 509.3L461.00 509.4L461.50 509.1L462.00 509.1L462.50 509.2L463.00 509.7L463.50 510.1L464.00 510.1L464.50 510.8L465.00 510.8L465.50 510.8L466.00 510.6L466.50 510.8L467.00 510.7L467.50 510.6L468.00 510.6L468.50 510.8L469.00 510.6L469.50 510.7L470.00 510.4L470.50 510.7L471.00 510.6L471.50 510.7L472.00 510.4L472.50 510.5L473.00 510.2L473.50 510.8L474.00 510.8L474.50 510.8L475.00 510.7L475.50 510.6L476.00 510.5L476.50 510.7L477.00 510.8L477.50 510.8L478.00 510.7L478.50 510.8L479.00 510.8L479.50 510.7L480.00 510.6L480.50 510.6L481.00 510.8L481.50 510.7L482.00 510.7L482.50 510.7L483.00 510.6L483.50 510.3L484.00 510.4L484.50 510.4L485.00 510.7L485.50 510.4L486.00 509.8L486.50 509.8L487.00 509.8L487.50 510.6L488.00 510.8L488.50 510.8L489.00 510.7L489.50 510.6L490.00 510.7L490.50 510.8L491.00 510.7L491.50 510.6L492.00 510.6L492.50 510.8L493.00 510.6L493.50 509.4L494.00 509.4L494.50 509.8L495.00 510.7L495.50 510.7L496.00 510.8L496.50 510.8L497.00 510.8L497.50 510.7L498.00 510.8L498.50 509.7L499.00 510.7L499.50 510.7L500.00 510.6L500.50 510.8L501.00 510.7L501.50 510.6L502.00 510.5L502.50 510.4L503.00 510.5L503.50 510.5L504.00 510.5L504.50 509.8L505.00 509.3L505.50 510.7L506.00 510.7L506.50 510.7L507.00 510.7L507.50 510.8L508.00 510.4L508.50 510.5L509.00 510.4L509.50 510.6L510.00 510.7L510.50 510.7L511.00 510.8L511.50 510.8L512.00 510.7L512.50 510.8L513.00 510.8L513.50 510.8L514.00 510.6L514.50 510.7L515.00 510.4L515.50 509.6L515.80 509.2L516.00 509.2L516.20 509.2L516.50 509.6L517.00 510.4L517.50 510.6L518.00 510.6L518.50 510.7L519.00 510.8L519.50 510.6L520.00 510.6L520.50 510.4L521.00 510.6L521.50 510.4L522.00 510.5L522.50 510.2L523.00 510.3L523.50 510.7L524.00 510.5L524.50 510.6L525.00 510.6L525.50 510.7L526.00 510.8L526.50 510.6L527.00 510.7L527.50 509.7L528.00 509.8L528.50 510.6L529.00 510.6L529.50 509.4L530.00 509.8L530.50 509.3L531.00 509.5L531.50 510.8L532.00 510.6L532.50 509.3L533.00 508.4L533.50 508.1L534.00 508.2L534.50 496.8L535.00 482.6L535.20 478.2L535.50 478.2L535.60 478.2L536.00 487.6L536.50 506.8L537.00 507.5L537.50 508.3L538.00 508.4L538.50 508.6L539.00 508.3L539.50 509.4L540.00 510.6L540.50 510.7L541.00 510.6L541.50 510.7L542.00 510.6L542.50 510.7L543.00 510.6L543.50 510.5L544.00 510.5L544.50 510.5L545.00 510.5L545.50 510.7L546.00 510.7L546.50 510.7L547.00 510.5L547.50 510.6L548.00 510.6L548.50 510.5L549.00 510.7L549.50 510.8L550.00 510.8L550.50 510.8L551.00 510.8L551.50 510.7L552.00 510.7L552.50 510.8L553.00 510.7L553.50 510.6L554.00 510.7L554.50 510.8L555.00 510.8L555.50 510.6L556.00 510.7L556.50 510.8L557.00 510.7L557.50 510.8L558.00 510.7L558.50 510.6L559.00 510.7L559.50 510.8L560.00 510.8L560.50 510.8L561.00 510.8L561.50 510.7L562.00 510.7L562.50 510.7L563.00 510.7L563.50 510.6L564.00 510.7L564.50 510.6L565.00 510.6L565.50 510.1L566.00 510.2L566.50 510.6L567.00 510.7L567.50 510.6L568.00 510.6L568.50 510.8L569.00 510.1L569.50 510.2L570.00 510.4L570.50 510.5L571.00 510.5L571.50 510.5L572.00 510.5L572.50 510.3L573.00 510.7L573.50 510.8L574.00 510.7L574.50 510.8L575.00 510.7L575.50 510.7L576.00 509.7L576.40 509.2L576.50 509.2L576.80 509.2L577.00 509.4L577.50 510.2L578.00 510.3L578.50 510.8L579.00 510.8L579.50 510.6L580.00 510.7L580.50 510.7L581.00 510.8L581.50 510.7L582.00 510.8L582.50 510.8L583.00 510.5L583.50 510.7L584.00 510.7L584.50 510.7L585.00 510.7L585.50 510.8L586.00 510.6L586.50 510.7L587.00 510.7L587.50 510.7L588.00 510.7L588.50 510.6L589.00 510.6L589.50 510.7L590.00 509.7L590.40 509.2L590.50 509.2L590.80 509.2L591.00 509.4L591.50 510.2L592.00 510.8L592.50 510.6L593.00 510.6L593.50 510.6L594.00 510.7L594.50 510.3L595.00 510.1L595.50 510.2L596.00 510.1L596.50 510.5L597.00 510.3L597.50 510.4L598.00 510.4L598.50 510.3L599.00 510.5L599.50 510.6L600.00 510.6L600.50 510.7L601.00 510.4L601.50 510.7L602.00 510.7L602.50 510.6L603.00 510.8L603.50 510.8L604.00 510.6L604.50 510.7L605.00 510.6L605.50 510.8L606.00 510.8L606.50 510.8L607.00 510.6L607.50 510.7L608.00 510.8L608.50 510.8L609.00 510.8L609.50 510.7L610.00 510.7L610.50 510.6L611.00 510.7L611.50 510.8L612.00 510.8L612.50 510.7L613.00 510.7L613.50 510.6L614.00 510.7L614.50 510.8L615.00 510.8L615.50 510.7L616.00 510.7L616.50 510.8L617.00 510.8L617.50 510.8L618.00 510.7L618.50 510.8L619.00 510.7L619.50 510.7L620.00 510.7L620.50 510.8L621.00 510.7L621.50 510.7L622.00 510.7L622.50 510.8L623.00 510.8L623.50 510.1L624.00 510.2L624.50 510.3L625.00 510.7L625.50 510.7L626.00 510.7L626.50 510.6L627.00 510.8L627.50 509.9L628.00 510.8L628.50 510.8L629.00 510.8L629.50 510.0L630.00 510.1L630.50 510.4L631.00 510.4L631.50 510.8L632.00 510.8L632.50 510.7L633.00 510.7L633.50 510.7L634.00 510.7L634.50 510.8L635.00 510.7L635.50 510.8L636.00 510.8L636.50 510.6L637.00 510.7L637.50 510.4L638.00 510.4L638.50 510.4L639.00 509.2L639.50 508.9L640.00 508.3L640.50 509.3L641.00 509.4L641.50 509.8L642.00 510.2L642.50 510.2L643.00 510.2L643.50 510.5L644.00 510.8L644.50 510.6L645.00 510.7L645.50 510.4L646.00 510.6L646.50 509.9L647.00 510.0L647.50 510.6L648.00 510.6L648.50 510.7L649.00 510.6L649.50 510.7L650.00 510.6L650.50 510.6L651.00 510.6L651.50 510.8L652.00 510.7L652.50 509.2L653.00 509.6L653.50 509.6L654.00 510.4L654.50 510.4L655.00 510.7L655.50 510.8L656.00 510.6L656.50 510.6L657.00 510.7L657.50 510.0L658.00 510.0L658.50 510.6L659.00 510.6L659.50 510.6L660.00 510.6L660.50 510.8L661.00 510.7L661.50 509.4L662.00 508.9L662.50 509.0L663.00 508.9L663.50 509.0L664.00 509.3L664.50 509.4L665.00 509.4L665.50 510.5L666.00 510.4L666.50 510.4L667.00 510.6L667.50 510.8L668.00 510.7L668.50 510.8L669.00 510.6L669.50 510.2L670.00 510.3L670.50 510.7L671.00 510.7L671.50 510.8L672.00 510.7L672.50 510.7L673.00 510.6L673.50 510.8L674.00 510.8L674.50 510.7L675.00 510.7L675.50 510.7L676.00 510.8L676.50 510.6L677.00 510.7L677.50 510.8L678.00 510.8L678.50 510.7L679.00 510.6L679.50 510.7L680.00 510.7L680.50 510.6L681.00 510.8L681.50 510.7L682.00 510.6L682.50 510.7L683.00 510.8L683.50 510.7L684.00 510.8L684.50 510.7L685.00 510.8L685.50 510.7L686.00 510.7L686.50 510.7L687.00 510.7L687.50 510.8L688.00 510.6L688.50 510.5L689.00 510.5L689.50 510.6L690.00 510.8L690.50 508.8L691.00 508.5L691.50 508.3L692.00 510.3L692.50 510.0L693.00 510.7L693.50 510.8L694.00 510.7L694.50 510.8L695.00 510.8L695.50 510.7L696.00 510.7L696.50 509.8L697.00 510.8L697.50 510.6L698.00 510.7L698.50 510.6L699.00 510.7L699.50 510.8L700.00 510.8L700.50 510.7L701.00 510.8L701.50 510.7L702.00 510.7L702.50 510.8L703.00 510.8L703.50 510.8L704.00 510.8L704.50 510.7L705.00 510.8L705.50 510.2L706.00 510.1L706.50 509.8L707.00 510.2L707.50 510.7L708.00 510.7L708.50 510.6L709.00 510.7L709.50 508.2L709.80 506.8L710.00 506.8L710.20 506.8L710.50 508.2L711.00 509.6L711.50 509.8L712.00 509.5L712.50 509.7L713.00 510.0L713.50 510.7L714.00 510.7L714.50 510.7L715.00 510.6L715.50 510.8L716.00 510.8L716.50 510.7L717.00 510.8L717.50 510.3L718.00 510.3L718.50 509.7L719.00 509.3L719.50 509.3L720.00 510.5L720.50 510.7L721.00 510.8L721.50 510.6L722.00 510.6L722.50 510.8L723.00 510.8L723.50 510.7L724.00 510.6L724.50 510.7L725.00 510.7L725.50 510.7L726.00 510.7L726.50 510.6L727.00 510.8L727.50 510.7L728.00 510.6L728.50 510.6L729.00 510.7L729.50 510.7L730.00 510.5L730.50 510.3L731.00 510.3L731.50 510.7L732.00 509.8L732.50 508.0L732.80 507.2L733.00 507.2L733.20 507.2L733.50 508.0L734.00 509.8L734.50 510.6L735.00 510.0L735.50 510.6L736.00 510.7L736.50 510.6L737.00 510.8L737.50 510.6L738.00 510.7L738.50 510.1L739.00 510.3L739.50 510.2L740.00 510.1L740.50 510.7L741.00 510.6L741.50 510.7L742.00 510.8L742.50 510.8L743.00 510.8L743.50 510.8L744.00 510.8L744.50 510.6L745.00 510.7L745.50 510.6L746.00 510.6L746.50 510.2L747.00 510.8L747.50 510.6L748.00 510.6L748.50 510.8L749.00 510.7L749.50 510.8L750.00 510.8L750.50 510.8L751.00 510.8L751.50 510.8L752.00 510.6L752.50 510.6L753.00 510.2L753.50 510.2L754.00 510.3L754.50 510.2L755.00 510.7L755.50 510.6L756.00 510.7L756.50 510.6L757.00 510.7L757.50 510.4L758.00 510.4L758.50 510.7L759.00 510.7L759.50 510.8L760.00 510.7L760.50 510.6L761.00 510.7L761.50 510.8L762.00 510.2L762.50 508.3L763.00 510.8L763.50 510.7L764.00 510.8L764.50 510.8L765.00 510.7L765.50 510.2L766.00 510.2L766.50 509.3L767.00 509.4L767.50 509.2L768.00 509.4L768.50 509.5L769.00 509.5L769.50 509.5L770.00 509.6L770.50 509.6L771.00 509.4L771.50 509.5L772.00 509.4L772.50 509.3L773.00 509.5L773.50 509.5L774.00 509.5L774.50 508.5L774.80 507.8L775.00 507.8L775.20 507.8L775.50 508.5L776.00 509.3L776.50 509.5L777.00 509.2L777.50 509.4L778.00 509.4L778.50 509.4L779.00 510.0L779.50 510.6L780.00 510.8L780.50 510.7L781.00 510.7L781.50 510.6L782.00 510.7L782.50 510.7L783.00 510.7L783.50 510.6L784.00 509.8L784.50 510.8L785.00 510.8L785.50 510.7L786.00 510.7L786.50 509.3L787.00 508.8L787.50 509.3L788.00 509.0L788.50 509.3L789.00 509.6L789.50 510.2L790.00 510.3L790.50 510.0L791.00 510.1L791.50 509.9L792.00 510.8L792.50 510.6L793.00 510.6L793.50 510.6L794.00 510.8L794.50 510.7L795.00 510.7L795.50 510.7L796.00 510.8L796.50 510.8L797.00 510.7L797.50 510.7L798.00 510.8L798.50 510.5L799.00 509.6L799.50 508.8L800.00 507.5L800.50 500.6L801.00 481.3L801.20 475.8L801.50 475.8L801.60 475.8L802.00 487.7L802.50 507.1L803.00 507.6L803.50 508.9L804.00 509.9L804.50 510.4L805.00 510.5L805.50 510.4L806.00 510.5L806.50 510.5L807.00 510.4L807.50 510.7L808.00 510.0L808.50 510.1L809.00 509.9L809.50 510.5L810.00 510.5L810.50 510.5L811.00 510.1L811.50 510.4L812.00 510.5L812.50 508.7L813.00 509.2L813.50 509.0L814.00 509.0L814.50 510.7L815.00 510.7L815.50 510.0L816.00 506.7L816.20 505.8L816.50 505.8L816.60 505.8L817.00 507.7L817.50 510.3L818.00 510.7L818.50 510.7L819.00 510.7L819.50 510.7L820.00 510.7L820.50 510.3L821.00 510.4L821.50 510.6L822.00 510.8L822.50 510.6L823.00 510.7L823.50 510.8L824.00 510.7L824.50 510.6L825.00 510.7L825.50 510.7L826.00 510.7L826.50 510.1L827.00 510.6L827.50 510.8L828.00 510.6L828.50 509.3L829.00 510.6L829.50 510.6L830.00 510.8L830.50 510.4L831.00 510.5L831.50 510.6L832.00 510.7L832.50 510.7L833.00 510.7L833.50 510.7L834.00 510.8L834.50 510.7L835.00 509.6L835.50 510.0L836.00 509.8L836.50 510.5L837.00 510.3L837.50 510.0L838.00 509.5L838.50 503.4L839.00 498.2L839.40 498.2L839.50 499.1L840.00 504.7L840.50 509.1L841.00 509.2L841.50 509.4L842.00 509.1L842.50 509.0L843.00 509.2L843.50 509.1L844.00 509.4L844.50 509.4L845.00 510.0L845.50 510.6L846.00 510.7L846.50 510.8L847.00 510.7L847.50 510.6L848.00 510.4L848.50 510.8L849.00 510.8L849.50 510.8L850.00 509.6L850.50 510.3L851.00 509.5L851.20 509.2L851.50 509.2L851.60 509.2L852.00 509.9L852.50 510.7L853.00 510.7L853.50 510.6L854.00 510.8L854.50 510.8L855.00 510.7L855.50 510.7L856.00 510.8L856.50 510.8L857.00 510.2L857.50 510.2L858.00 510.4L858.50 510.7L859.00 510.6L859.50 510.7L860.00 509.5L860.50 510.8L861.00 510.8L861.50 510.5L862.00 508.3L862.40 507.2L862.50 507.2L862.80 507.2L863.00 507.7L863.50 509.4L864.00 510.6L864.50 510.7L865.00 510.7L865.50 510.2L866.00 510.4L866.50 510.6L867.00 510.6L867.50 510.6L868.00 510.7L868.50 510.6L869.00 510.8L869.50 510.8L870.00 510.6L870.50 510.4L871.00 510.0L871.50 509.2L872.00 509.5L872.50 509.5L873.00 509.4L873.50 509.3L874.00 509.1L874.50 504.2L874.80 502.2L875.00 502.2L875.20 502.2L875.50 504.2L876.00 509.0L876.50 509.1L877.00 509.5L877.50 509.4L878.00 509.7L878.50 510.7L879.00 510.3L879.50 509.1L879.80 508.6L880.00 508.6L880.20 508.6L880.50 509.1L881.00 509.5L881.50 509.4L882.00 510.7L882.50 510.6L883.00 510.8L883.50 510.5L884.00 510.4L884.50 510.6L885.00 510.5L885.50 510.6L886.00 510.7L886.50 510.8L887.00 510.6L887.50 510.7L888.00 509.1L888.50 509.6L889.00 510.8L889.50 510.8L890.00 510.6L890.50 510.6L891.00 510.6L891.50 510.7L892.00 510.6L892.50 510.8L893.00 510.7L893.50 510.7L894.00 510.4L894.50 510.5L895.00 510.5L895.50 510.8L896.00 510.7L896.50 510.8L897.00 510.8L897.50 510.7L898.00 510.8L898.50 510.6L899.00 510.7L899.50 510.6L900.00 510.8L900.50 510.7L901.00 510.8L901.50 510.7L902.00 510.8L902.50 510.7L903.00 510.6L903.50 510.7L904.00 509.3L904.50 509.8L905.00 510.6L905.50 510.7L906.00 510.1L906.50 510.1L907.00 510.6L907.50 510.7L908.00 510.4L908.50 510.2L909.00 510.5L909.50 510.5L910.00 510.5L910.50 510.5L911.00 510.7L911.50 510.6L912.00 510.6L912.50 510.6L913.00 510.8L913.50 509.4L914.00 509.6L914.50 510.7L915.00 510.7L915.50 510.6L916.00 509.8L916.50 509.8L917.00 509.8L917.50 510.7L918.00 510.8L918.50 510.7L919.00 510.6L919.50 510.7L920.00 510.6L920.50 510.8L921.00 510.0L921.40 508.2L921.50 508.2L921.80 508.2L922.00 508.9L922.50 510.7L923.00 510.6L923.50 510.7L924.00 510.8L924.50 510.7L925.00 510.6L925.50 510.7L926.00 510.6L926.50 510.8L927.00 510.8L927.50 508.7L928.00 508.5L928.50 509.2L929.00 510.8L929.50 510.6L930.00 510.8L930.50 510.5L931.00 509.6L931.50 508.6L932.00 508.7L932.50 508.4L933.00 507.8L933.50 505.4L933.80 504.2L934.00 504.2L934.20 504.2L934.50 505.4L935.00 507.8L935.50 508.3L936.00 508.7L936.50 508.4L937.00 509.5L937.50 510.5L938.00 510.6L938.50 510.8L939.00 510.8L939.50 510.6L940.00 510.8L940.50 510.8L941.00 510.8L941.50 510.6L942.00 510.7L942.50 510.7L943.00 510.4L943.50 510.2L944.00 510.4L944.50 510.4L945.00 509.9L945.50 509.5L946.00 509.9L946.50 509.7L947.00 510.7L947.50 510.7L948.00 510.6L948.50 510.8L949.00 510.0L949.50 509.6L949.80 508.6L950.00 508.6L950.20 508.6L950.50 509.6L951.00 510.8L951.50 510.8L952.00 510.8L952.50 510.8L953.00 510.3L953.50 510.3L954.00 510.5L954.50 510.6L955.00 510.8L955.50 510.7L956.00 510.8L956.50 510.7L957.00 510.6L957.50 510.8L958.00 510.8L958.50 510.8L959.00 510.6L959.50 510.6L960.00 510.7L960.50 510.7L961.00 510.7L961.50 510.8L962.00 510.8L962.50 510.6L963.00 510.2L963.50 510.1L964.00 510.0L964.50 510.3L965.00 510.8L965.50 510.7L966.00 510.6L966.50 510.6L967.00 510.3L967.50 510.7L968.00 510.8L968.50 509.7L969.00 509.8L969.50 509.3L970.00 510.8L970.50 510.1L971.00 510.1L971.50 510.1L972.00 510.3L972.50 510.1L973.00 510.1L973.50 510.7L974.00 510.6L974.50 510.8L975.00 510.8L975.50 510.7L976.00 510.7L976.50 510.7L977.00 510.8L977.50 510.7L978.00 510.7L978.50 510.7L979.00 510.8L979.50 510.6L980.00 510.6L980.50 510.6L981.00 510.8L981.50 510.7L982.00 508.3L982.50 508.8L983.00 510.5L983.50 510.6L984.00 510.7L984.50 510.3L985.00 510.5L985.50 510.7L986.00 510.7L986.50 510.8L987.00 510.7L987.50 510.8L988.00 510.7L988.50 510.7L989.00 510.7L989.50 510.8L990.00 510.6L990.50 510.8L991.00 510.8L991.50 510.6L992.00 510.6L992.50 510.6L993.00 510.6L993.50 510.8L994.00 510.4L994.50 510.6L995.00 510.6L995.50 510.2L996.00 510.3L996.50 510.7L997.00 510.3L997.50 510.7L998.00 510.7L998.50 510.6L999.00 510.7L999.50 510.8L1000.00 510.4L1000.50 510.7L1001.00 510.8L1001.50 510.7L1002.00 510.6L1002.50 510.8L1003.00 510.7L1003.50 509.4L1003.80 508.6L1004.00 508.6L1004.20 508.6L1004.50 509.4L1005.00 510.6L1005.50 510.7L1006.00 509.8L1006.50 509.6L1007.00 510.1L1007.50 510.4L1008.00 510.6L1008.50 510.7L1009.00 510.8L1009.50 510.6L1010.00 510.6L1010.50 510.7L1011.00 510.7L1011.50 509.0L1012.00 508.2L1012.50 508.3L1013.00 510.5L1013.50 510.6L1014.00 510.8L1014.50 510.7L1015.00 510.7L1015.50 510.7L1016.00 510.6L1016.50 510.5L1017.00 510.4L1017.50 510.7L1018.00 510.7L1018.50 507.7L1019.00 503.5L1019.20 502.2L1019.50 502.2L1019.60 502.2L1020.00 504.9L1020.50 510.0L1021.00 510.3L1021.50 510.2L1022.00 510.2L1022.50 509.7L1023.00 510.0L1023.50 510.1L1024.00 510.8L1024.50 510.4L1025.00 510.5L1025.50 510.6L1026.00 510.8L1026.50 510.7L1027.00 510.6L1027.50 510.8L1028.00 510.7L1028.50 509.4L1029.00 509.5L1029.50 509.4L1030.00 509.1L1030.50 510.4L1031.00 510.2L1031.50 510.2L1032.00 510.3L1032.50 510.2L1033.00 510.2L1033.50 510.2L1034.00 510.7L1034.50 510.7L1035.00 510.7L1035.50 510.8L1036.00 510.7L1036.50 510.7L1037.00 510.6L1037.50 510.6L1038.00 510.7L1038.50 510.8L1039.00 510.7L1039.50 510.8L1040.00 510.7L1040.50 510.7L1041.00 510.7L1041.50 510.7L1042.00 510.6L1042.50 510.8L1043.00 510.7L1043.50 510.7L1044.00 510.3L1044.50 510.4L1045.00 510.3L1045.50 510.2L1046.00 510.1L1046.50 509.0L1047.00 502.0L1047.20 500.2L1047.50 500.2L1047.60 500.2L1048.00 504.2L1048.50 509.1L1049.00 509.1L1049.50 508.9L1050.00 509.2L1050.50 508.9L1051.00 508.9L1051.50 508.8L1052.00 509.3L1052.50 508.9L1053.00 509.0L1053.50 509.2L1054.00 508.8L1054.50 509.1L1055.00 509.3L1055.50 509.2L1056.00 508.8L1056.50 508.9L1057.00 509.2L1057.50 508.9L1058.00 510.0L1058.50 510.7L1059.00 510.7L1059.50 510.3L1060.00 510.7L1060.50 510.7L1061.00 510.6L1061.50 510.7L1062.00 510.8L1062.50 510.6L1063.00 510.6L1063.50 510.5L1064.00 510.5L1064.50 510.8L1065.00 510.7L1065.50 510.6L1066.00 510.7L1066.50 510.5L1067.00 510.7L1067.50 510.6L1068.00 510.7L1068.50 510.7L1069.00 510.7L1069.50 509.7L1070.00 510.8L1070.50 510.6L1071.00 510.8L1071.50 510.6L1072.00 510.7L1072.50 510.7L1073.00 510.7L1073.50 510.1L1074.00 510.6L1074.50 510.7L1075.00 510.6L1075.50 510.6L1076.00 510.5L1076.50 510.5L1077.00 510.6L1077.50 510.7L1078.00 510.8L1078.50 508.8L1079.00 509.4L1079.50 510.8L1080.00 510.8L1080.50 510.7L1081.00 510.7L1081.50 510.7L1082.00 510.7L1082.50 510.6L1083.00 510.6L1083.50 510.6L1084.00 509.9L1084.50 509.6L1085.00 509.3L1085.50 509.9L1086.00 510.3L1086.50 510.5L1087.00 510.3L1087.50 510.5L1088.00 510.4L1088.50 510.8L1089.00 510.7L1089.50 510.8L1090.00 510.7L1090.50 510.8L1091.00 510.7L1091.50 510.5L1092.00 510.7L1092.50 510.6L1093.00 510.6L1093.50 510.7L1094.00 510.7L1094.50 510.8L1095.00 510.7L1095.50 510.7L1096.00 510.8L1096.50 510.7L1097.00 510.7L1097.50 510.7L1098.00 510.7L1098.50 510.6L1099.00 510.7L1099.50 510.6L1100.00 510.8L1100.50 510.1L1101.00 509.3L1101.50 509.4L1102.00 509.0L1102.50 510.6L1103.00 510.7L1103.50 510.7L1104.00 509.9L1104.50 504.1L1105.00 498.3L1105.50 497.5L1106.00 485.7L1106.50 479.6L1107.00 472.7L1107.50 472.8L1108.00 472.2L1108.50 471.7L1109.00 471.5L1109.50 479.7L1110.00 484.5L1110.50 497.9L1111.00 503.3L1111.50 508.8L1112.00 510.7L1112.50 510.8L1113.00 510.8L1113.50 510.6L1114.00 507.6L1114.40 505.6L1114.50 505.6L1114.80 505.6L1115.00 506.5L1115.50 510.0L1116.00 510.7L1116.50 510.6L1117.00 510.3L1117.50 510.0L1118.00 510.7L1118.50 510.8L1119.00 510.6L1119.50 510.6L1120.00 510.7L1120.50 510.6L1121.00 510.7L1121.50 510.7L1122.00 510.8L1122.50 510.7L1123.00 510.8L1123.50 510.6L1124.00 510.8L1124.50 510.2L1125.00 509.1L1125.50 508.1L1126.00 506.8L1126.50 502.5L1127.00 472.5L1127.20 464.6L1127.50 464.6L1127.60 464.6L1128.00 481.8L1128.50 506.5L1129.00 507.7L1129.50 508.4L1130.00 505.5L1130.40 502.2L1130.50 502.2L1130.80 502.2L1131.00 503.7L1131.50 508.0L1132.00 508.2L1132.50 508.3L1133.00 509.4L1133.50 510.5L1134.00 510.6L1134.50 510.8L1135.00 510.7L1135.50 510.8L1136.00 510.8L1136.50 510.7L1137.00 509.8L1137.50 510.5L1138.00 510.5L1138.50 510.6L1139.00 510.7L1139.50 510.8L1140.00 510.8L1140.50 510.8L1141.00 510.8L1141.50 510.2L1142.00 510.7L1142.50 510.7L1143.00 510.7L1143.50 510.8L1144.00 510.7L1144.50 510.6L1145.00 510.7L1145.50 510.7L1146.00 510.7L1146.50 510.7L1147.00 510.6L1147.50 510.8L1148.00 507.5L1148.20 506.2L1148.50 506.2L1148.60 506.2L1149.00 509.2L1149.50 510.7L1150.00 510.7L1150.50 510.2L1151.00 510.3L1151.50 510.2L1152.00 510.6L1152.50 510.8L1153.00 510.8L1153.50 510.7L1154.00 510.8L1154.50 510.7L1155.00 510.7L1155.50 510.7L1156.00 510.8L1156.50 510.7L1157.00 510.8L1157.50 510.7L1158.00 510.6L1158.50 510.6L1159.00 510.8L1159.50 510.6L1160.00 510.8L1160.50 510.6L1161.00 510.6L1161.50 510.6L1162.00 510.8L1162.50 510.6L1163.00 510.8L1163.50 510.7L1164.00 510.8L1164.50 510.1L1165.00 510.2L1165.50 510.2L1166.00 510.7L1166.50 510.8L1167.00 510.7L1167.50 510.7L1168.00 510.6L1168.50 510.8L1169.00 510.8L1169.50 510.7L1170.00 510.6L1170.50 510.7L1171.00 510.7L1171.50 510.7L1172.00 510.1L1172.50 509.2L1173.00 509.0L1173.50 509.1L1174.00 509.5L1174.50 509.1L1175.00 509.0L1175.50 509.3L1176.00 498.8L1176.40 492.6L1176.50 492.6L1176.80 492.6L1177.00 495.5L1177.50 505.6L1178.00 509.3L1178.50 509.1L1179.00 509.4L1179.50 509.1L1180.00 509.9L1180.50 510.5L1181.00 510.6L1181.50 510.2L1182.00 510.8L1182.50 509.7L1183.00 509.8L1183.50 509.5L1184.00 509.9L1184.50 510.0L1185.00 510.1L1185.50 510.6L1186.00 510.7L1186.50 510.6L1187.00 510.6L1187.50 510.7L1188.00 510.7L1188.50 510.7L1189.00 510.6L1189.50 510.8L1190.00 510.8L1190.50 510.6L1191.00 510.5L1191.50 510.3L1192.00 509.0L1192.50 507.8L1193.00 501.9L1193.20 500.2L1193.50 500.2L1193.60 500.2L1194.00 503.8L1194.50 499.8L1195.00 499.7L1195.50 489.0L1196.00 481.0L1196.40 476.0L1196.50 476.0L1196.80 476.0L1197.00 481.4L1197.50 480.3L1198.00 481.2L1198.20 475.0L1198.50 475.0L1198.60 475.0L1199.00 485.0L1199.50 499.5L1200.00 501.0L1200.50 505.1L1201.00 508.3L1201.50 508.1L1202.00 508.6L1202.50 505.7L1203.00 498.9L1203.20 496.8L1203.50 496.8L1203.60 496.8L1204.00 501.2L1204.50 508.6L1205.00 508.5L1205.50 508.6L1206.00 508.5L1206.50 508.7L1207.00 508.0L1207.50 508.4L1208.00 508.7L1208.50 508.7L1209.00 508.4L1209.50 508.7L1210.00 509.4L1210.50 510.6L1211.00 510.7L1211.50 510.7L1212.00 510.6L1212.50 510.6L1213.00 510.2L1213.50 510.7L1214.00 510.6L1214.50 510.8L1215.00 510.8L1215.50 509.2L1216.00 509.1L1216.50 509.6L1217.00 510.7L1217.50 510.6L1218.00 510.8L1218.50 510.7L1219.00 510.8L1219.50 510.6L1220.00 510.8L1220.50 510.7L1221.00 510.7L1221.50 509.8L1222.00 509.9L1222.50 510.0L1223.00 509.9L1223.50 509.7L1224.00 510.1L1224.50 510.7L1225.00 510.4L1225.50 509.6L1225.80 509.2L1226.00 509.2L1226.20 509.2L1226.50 509.6L1227.00 510.4L1227.50 510.8L1228.00 510.8L1228.50 510.8L1229.00 510.8L1229.50 510.7L1230.00 510.7L1230.50 510.7L1231.00 510.7L1231.50 510.6L1232.00 509.4L1232.50 510.6L1233.00 510.8L1233.50 510.8L1234.00 510.7L1234.50 510.7L1235.00 510.7L1235.50 510.8L1236.00 510.8L1236.50 510.8L1237.00 510.8L1237.50 510.6L1238.00 510.6L1238.50 510.8L1239.00 510.6L1239.50 510.7L1240.00 510.7L1240.50 510.7L1241.00 510.5L1241.50 510.6L1242.00 510.7L1242.50 510.8L1243.00 510.5L1243.50 510.5L1244.00 510.8L1244.50 510.8L1245.00 510.7L1245.50 510.7L1246.00 510.6L1246.50 510.8L1247.00 510.8L1247.50 510.8L1248.00 510.7L1248.50 510.8L1249.00 510.6L1249.50 510.6L1250.00 510.8L1250.50 509.7L1251.00 509.7L1251.50 510.5L1252.00 510.5L1252.50 510.5L1253.00 510.6L1253.50 510.4L1254.00 510.3L1254.50 510.1L1255.00 510.7L1255.50 510.8L1256.00 510.7L1256.50 510.8L1257.00 510.7L1257.50 510.6L1258.00 510.8L1258.50 510.7L1259.00 510.8L1259.50 510.6L1260.00 510.7L1260.50 510.8L1261.00 510.6L1261.50 510.2L1262.00 510.7L1262.50 510.7L1263.00 510.7L1263.50 510.3L1264.00 510.2L1264.50 510.2L1265.00 510.7L1265.50 510.7L1266.00 510.7L1266.50 510.7L1267.00 510.7L1267.50 510.7L1268.00 510.6L1268.50 510.6L1269.00 510.6L1269.50 510.6L1270.00 510.7L1270.50 510.7L1271.00 510.8L1271.50 510.7L1272.00 510.6L1272.50 510.6L1273.00 510.7L1273.50 510.8L1274.00 510.8L1274.50 510.7L1275.00 510.7L1275.50 510.6L1276.00 510.4L1276.50 510.3L1277.00 510.4L1277.50 510.2L1278.00 510.4L1278.50 509.6L1278.80 509.2L1279.00 509.2L1279.20 509.2L1279.50 509.6L1280.00 510.4L1280.50 510.6L1281.00 510.6L1281.50 510.8L1282.00 510.8L1282.50 510.7L1283.00 510.6L1283.50 510.8L1284.00 510.6L1284.50 510.7L1285.00 510.6L1285.50 510.5L1286.00 510.5L1286.50 510.5L1287.00 510.8L1287.50 510.8L1288.00 510.7L1288.50 509.7L1289.00 510.8L1289.50 510.7L1290.00 510.7L1290.50 510.6L1291.00 510.5L1291.50 510.5L1292.00 510.6L1292.50 510.6L1293.00 510.6L1293.50 510.8L1294.00 510.8L1294.50 510.6L1295.00 510.8L1295.50 510.6L1296.00 510.8L1296.50 510.5L1297.00 510.6L1297.50 510.7L1298.00 510.7L1298.50 510.6L1299.00 510.7L1299.50 510.3L1300.00 510.2L1300.50 510.3L1301.00 510.4L1301.50 510.3L1302.00 510.4L1302.50 510.8L1303.00 510.7L1303.50 510.4L1304.00 510.7L1304.50 510.7L1305.00 510.7L1305.50 510.6L1306.00 510.6L1306.50 510.4L1307.00 510.3L1307.50 510.2L1308.00 510.6L1308.50 510.7L1309.00 510.8L1309.50 510.6L1310.00 510.6L1310.50 510.6L1311.00 510.2L1311.50 509.8L1312.00 510.8L1312.50 510.6L1313.00 510.6L1313.50 510.8L1314.00 510.8L1314.50 510.7L1315.00 510.7L1315.50 510.8L1316.00 510.8L1316.50 510.7L1317.00 510.7L1317.50 510.7L1318.00 510.8L1318.50 510.6L1319.00 510.7L1319.50 510.8L1320.00 510.8L1320.50 510.6L1321.00 510.8L1321.50 510.7L1322.00 510.6L1322.50 510.6L1323.00 510.5L1323.25 511.0Z" fill="#F016DA"/>
<line x1="351.5" x2="1369.6" y1="511.00" y2="511.00" stroke="#4a4a4a" stroke-width="1.1"/>
<text class="strip" x="118.6" y="464.3" textLength="220.4" lengthAdjust="spacingAndGlyphs">Lower Progenitors</text>
<path d="M395.75 632.5L396.00 632.0L396.50 632.1L397.00 632.1L397.50 632.2L398.00 632.2L398.50 632.3L399.00 632.3L399.50 632.3L400.00 632.1L400.50 632.3L401.00 632.2L401.50 632.3L402.00 632.2L402.50 632.3L403.00 632.2L403.50 632.3L404.00 631.4L404.50 630.7L405.00 630.8L405.50 630.8L406.00 630.7L406.50 630.9L407.00 630.9L407.50 630.7L408.00 630.9L408.50 626.7L409.00 623.3L409.20 622.1L409.50 622.1L409.60 622.1L410.00 624.5L410.50 628.6L411.00 630.5L411.50 630.9L412.00 631.4L412.50 632.0L413.00 632.2L413.50 632.1L414.00 632.3L414.50 632.2L415.00 632.1L415.50 632.2L416.00 632.3L416.50 632.2L417.00 632.3L417.50 632.0L418.00 632.1L418.50 632.0L419.00 632.0L419.50 631.8L420.00 632.3L420.50 632.3L421.00 632.2L421.50 631.3L422.00 632.1L422.50 632.1L423.00 632.2L423.50 632.3L424.00 631.7L424.50 632.2L425.00 632.1L425.50 632.1L426.00 632.3L426.50 632.2L427.00 632.3L427.50 631.9L428.00 632.0L428.50 632.2L429.00 632.2L429.50 630.6L430.00 632.1L430.50 632.3L431.00 632.2L431.50 632.2L432.00 632.2L432.50 631.8L433.00 631.8L433.50 631.8L434.00 631.9L434.50 631.8L435.00 632.1L435.50 631.9L436.00 632.1L436.50 632.1L437.00 631.5L437.50 631.4L438.00 631.7L438.50 631.3L439.00 632.1L439.50 632.2L440.00 632.3L440.50 632.2L441.00 631.4L441.50 630.7L442.00 630.7L442.50 630.5L443.00 630.5L443.50 630.9L444.00 630.7L444.50 631.0L445.00 630.8L445.50 630.9L446.00 630.9L446.50 631.4L447.00 631.9L447.50 630.3L448.00 629.5L448.50 628.8L449.00 624.8L449.50 620.4L450.00 618.7L450.50 620.1L451.00 605.3L451.50 582.5L451.80 570.1L452.00 570.1L452.20 570.1L452.50 582.5L453.00 605.3L453.50 619.9L454.00 624.8L454.50 628.2L455.00 629.0L455.50 628.2L456.00 624.9L456.50 615.6L457.00 605.7L457.40 605.7L457.50 607.5L458.00 618.1L458.50 626.3L459.00 627.3L459.50 629.0L460.00 629.1L460.50 629.3L461.00 630.5L461.50 631.9L462.00 632.2L462.50 632.1L463.00 632.2L463.50 632.2L464.00 632.1L464.50 632.2L465.00 632.2L465.50 632.3L466.00 632.2L466.50 632.3L467.00 632.3L467.50 632.2L468.00 632.1L468.50 632.3L469.00 632.3L469.50 632.3L470.00 632.2L470.50 632.2L471.00 632.3L471.50 632.1L472.00 632.2L472.50 632.3L473.00 631.9L473.50 631.9L474.00 631.9L474.50 631.9L475.00 632.3L475.50 632.3L476.00 632.3L476.50 631.9L477.00 631.9L477.50 632.2L478.00 632.1L478.50 632.3L479.00 632.0L479.50 632.0L480.00 631.7L480.50 631.9L481.00 632.0L481.50 632.2L482.00 632.3L482.50 631.2L483.00 631.1L483.50 631.3L484.00 631.1L484.50 631.8L485.00 631.6L485.50 631.5L486.00 631.5L486.50 632.2L487.00 632.2L487.50 632.2L488.00 632.3L488.50 632.2L489.00 632.2L489.50 632.1L490.00 631.9L490.50 632.0L491.00 631.8L491.50 632.0L492.00 632.2L492.50 631.5L493.00 631.5L493.50 632.2L494.00 632.2L494.50 631.7L495.00 632.0L495.50 632.3L496.00 632.2L496.50 632.2L497.00 632.2L497.50 632.3L498.00 632.3L498.50 632.2L499.00 632.1L499.50 631.9L500.00 632.3L500.50 632.1L501.00 632.1L501.50 632.2L502.00 632.1L502.50 632.1L503.00 632.3L503.50 632.1L504.00 632.2L504.50 632.1L505.00 632.2L505.50 632.3L506.00 632.2L506.50 632.1L507.00 632.1L507.50 632.3L508.00 632.2L508.50 632.2L509.00 632.3L509.50 632.2L510.00 632.1L510.50 632.1L511.00 632.1L511.50 632.1L512.00 631.8L512.50 631.6L513.00 632.1L513.50 632.2L514.00 632.2L514.50 632.2L515.00 632.3L515.50 632.2L516.00 632.2L516.50 632.1L517.00 632.1L517.50 632.3L518.00 631.9L518.50 631.9L519.00 631.9L519.50 632.0L520.00 632.0L520.50 631.6L521.00 631.7L521.50 631.7L522.00 631.9L522.50 632.2L523.00 632.1L523.50 632.1L524.00 632.2L524.50 631.9L525.00 631.9L525.50 631.9L526.00 632.1L526.50 632.2L527.00 632.1L527.50 632.3L528.00 632.3L528.50 632.3L529.00 632.3L529.50 632.3L530.00 632.3L530.50 632.2L531.00 632.2L531.50 632.2L532.00 632.0L532.50 630.6L533.00 629.9L533.50 629.6L534.00 629.3L534.50 618.5L535.00 604.5L535.20 600.1L535.50 600.1L535.60 600.1L536.00 609.4L536.50 628.4L537.00 623.9L537.20 622.1L537.50 622.1L537.60 622.1L538.00 626.0L538.50 629.5L539.00 630.6L539.50 631.9L540.00 632.1L540.50 632.1L541.00 632.3L541.50 632.1L542.00 630.9L542.50 631.3L543.00 632.2L543.50 632.2L544.00 632.2L544.50 632.3L545.00 632.2L545.50 631.9L546.00 631.9L546.50 631.5L547.00 631.5L547.50 631.7L548.00 632.0L548.50 632.1L549.00 631.4L549.50 630.8L549.80 630.5L550.00 630.5L550.20 630.5L550.50 630.8L551.00 631.4L551.50 630.6L552.00 630.7L552.50 631.0L553.00 630.9L553.50 631.6L554.00 631.1L554.50 632.0L555.00 632.1L555.50 632.2L556.00 632.2L556.50 632.3L557.00 632.1L557.50 632.3L558.00 632.2L558.50 632.3L559.00 632.1L559.50 632.3L560.00 632.2L560.50 632.1L561.00 632.3L561.50 632.2L562.00 632.3L562.50 632.2L563.00 632.1L563.50 631.6L564.00 631.7L564.50 631.7L565.00 631.9L565.50 632.2L566.00 632.3L566.50 632.3L567.00 632.3L567.50 632.2L568.00 632.1L568.50 632.2L569.00 632.1L569.50 632.2L570.00 632.1L570.50 632.2L571.00 632.2L571.50 632.2L572.00 632.3L572.50 632.1L573.00 632.2L573.50 632.1L574.00 632.2L574.50 632.2L575.00 632.2L575.50 632.2L576.00 632.2L576.50 632.1L577.00 632.2L577.50 632.3L578.00 632.1L578.50 632.3L579.00 632.2L579.50 632.1L580.00 632.1L580.50 632.3L581.00 632.3L581.50 632.2L582.00 632.3L582.50 632.2L583.00 632.2L583.50 632.3L584.00 632.1L584.50 632.3L585.00 632.2L585.50 632.3L586.00 632.1L586.50 632.3L587.00 632.3L587.50 632.2L588.00 632.1L588.50 632.1L589.00 632.3L589.50 632.3L590.00 632.2L590.50 631.6L591.00 631.4L591.50 630.9L591.80 630.5L592.00 630.5L592.20 630.5L592.50 630.9L593.00 631.9L593.50 631.7L594.00 631.5L594.50 631.8L595.00 631.9L595.50 631.8L596.00 631.7L596.50 631.7L597.00 632.0L597.50 632.2L598.00 632.1L598.50 631.7L599.00 631.4L599.50 631.5L600.00 631.7L600.50 632.3L601.00 632.1L601.50 632.3L602.00 632.2L602.50 632.1L603.00 632.3L603.50 632.2L604.00 632.2L604.50 632.2L605.00 632.3L605.50 631.4L606.00 631.0L606.50 632.3L607.00 632.2L607.50 632.2L608.00 632.2L608.50 632.1L609.00 631.2L609.50 630.8L610.00 630.6L610.50 631.1L611.00 632.1L611.50 632.3L612.00 632.1L612.50 632.2L613.00 632.2L613.50 632.2L614.00 632.1L614.50 632.0L615.00 632.0L615.50 631.8L616.00 631.8L616.50 632.3L617.00 632.3L617.50 632.3L618.00 632.3L618.50 632.3L619.00 632.2L619.50 632.2L620.00 632.2L620.50 632.2L621.00 632.3L621.50 632.3L622.00 632.1L622.50 632.2L623.00 632.2L623.50 632.3L624.00 632.1L624.50 632.2L625.00 632.3L625.50 632.2L626.00 632.1L626.50 632.1L627.00 632.2L627.50 632.1L628.00 632.2L628.50 632.2L629.00 632.2L629.50 632.1L630.00 631.5L630.50 632.2L631.00 632.3L631.50 632.3L632.00 632.3L632.50 632.2L633.00 632.3L633.50 632.1L634.00 632.2L634.50 632.3L635.00 631.9L635.50 632.3L636.00 632.3L636.50 632.2L637.00 631.9L637.50 632.3L638.00 632.1L638.50 632.2L639.00 632.3L639.50 632.2L640.00 632.2L640.50 632.1L641.00 632.1L641.50 632.2L642.00 632.1L642.50 632.0L643.00 631.8L643.50 631.2L644.00 631.5L644.50 631.2L645.00 631.3L645.50 631.9L646.00 632.1L646.50 631.4L647.00 631.4L647.50 632.2L648.00 632.1L648.50 630.3L649.00 630.5L649.50 630.8L650.00 632.2L650.50 632.2L651.00 632.2L651.50 632.3L652.00 632.1L652.50 632.3L653.00 632.3L653.50 632.1L654.00 632.1L654.50 632.3L655.00 632.3L655.50 631.4L656.00 632.1L656.50 632.2L657.00 632.3L657.50 632.3L658.00 632.1L658.50 632.2L659.00 632.1L659.50 632.3L660.00 632.1L660.50 632.2L661.00 631.9L661.50 632.1L662.00 632.1L662.50 632.2L663.00 632.1L663.50 632.3L664.00 632.3L664.50 632.2L665.00 632.2L665.50 632.1L666.00 632.1L666.50 632.1L667.00 632.2L667.50 632.3L668.00 632.1L668.50 632.0L669.00 631.8L669.50 632.0L670.00 632.2L670.50 632.2L671.00 632.2L671.50 632.1L672.00 632.2L672.50 632.2L673.00 632.1L673.50 632.2L674.00 632.1L674.50 632.0L675.00 632.0L675.50 631.7L676.00 631.9L676.50 631.9L677.00 632.3L677.50 632.2L678.00 632.2L678.50 632.2L679.00 632.1L679.50 632.1L680.00 632.2L680.50 632.2L681.00 632.1L681.50 632.0L682.00 632.3L682.50 632.3L683.00 632.2L683.50 631.7L684.00 631.6L684.50 631.6L685.00 631.5L685.50 632.3L686.00 632.3L686.50 632.3L687.00 631.8L687.50 631.9L688.00 632.0L688.50 631.8L689.00 632.1L689.50 632.1L690.00 632.3L690.50 632.3L691.00 632.3L691.50 632.2L692.00 632.3L692.50 632.3L693.00 632.1L693.50 632.2L694.00 632.2L694.50 631.8L695.00 631.9L695.50 631.7L696.00 631.6L696.50 631.5L697.00 632.2L697.50 631.5L698.00 631.9L698.50 631.9L699.00 632.2L699.50 632.2L700.00 632.2L700.50 632.2L701.00 632.2L701.50 632.2L702.00 632.3L702.50 632.2L703.00 631.9L703.50 631.8L704.00 631.8L704.50 631.3L705.00 631.0L705.50 631.4L706.00 631.5L706.50 632.1L707.00 632.3L707.50 632.2L708.00 632.2L708.50 632.2L709.00 632.1L709.50 629.8L709.80 628.5L710.00 628.5L710.20 628.5L710.50 629.8L711.00 631.6L711.50 632.2L712.00 632.3L712.50 631.1L713.00 630.5L713.50 632.1L714.00 632.2L714.50 632.1L715.00 632.1L715.50 632.1L716.00 632.1L716.50 632.1L717.00 632.1L717.50 632.2L718.00 632.3L718.50 632.3L719.00 632.3L719.50 632.2L720.00 632.2L720.50 632.0L721.00 631.9L721.50 632.1L722.00 632.0L722.50 632.2L723.00 632.1L723.50 632.3L724.00 632.3L724.50 632.3L725.00 631.7L725.50 632.2L726.00 632.3L726.50 632.2L727.00 632.1L727.50 632.2L728.00 632.2L728.50 632.3L729.00 632.2L729.50 632.2L730.00 632.3L730.50 632.1L731.00 632.2L731.50 632.3L732.00 632.2L732.50 632.3L733.00 631.6L733.50 631.2L734.00 631.0L734.50 631.3L735.00 631.2L735.50 631.1L736.00 631.0L736.50 631.2L737.00 631.2L737.50 631.0L738.00 631.2L738.50 630.6L738.80 629.7L739.00 629.7L739.20 629.7L739.50 630.6L740.00 631.8L740.50 632.2L741.00 632.2L741.50 632.1L742.00 632.2L742.50 632.2L743.00 632.1L743.50 632.3L744.00 632.3L744.50 632.2L745.00 632.2L745.50 632.3L746.00 632.2L746.50 632.2L747.00 632.2L747.50 632.3L748.00 632.2L748.50 632.2L749.00 632.2L749.50 632.2L750.00 632.2L750.50 632.1L751.00 632.2L751.50 632.2L752.00 632.3L752.50 631.6L753.00 631.7L753.50 632.2L754.00 631.9L754.50 631.7L755.00 631.9L755.50 631.9L756.00 632.2L756.50 632.2L757.00 632.2L757.50 632.3L758.00 632.3L758.50 632.3L759.00 632.1L759.50 632.2L760.00 632.2L760.50 632.3L761.00 632.2L761.50 632.2L762.00 632.2L762.50 632.2L763.00 631.2L763.50 631.5L764.00 632.1L764.50 632.1L765.00 632.1L765.50 632.2L766.00 631.4L766.50 630.6L767.00 630.8L767.50 630.5L768.00 630.6L768.50 630.6L769.00 630.7L769.50 630.7L770.00 630.1L770.40 629.1L770.50 629.1L770.80 629.1L771.00 629.6L771.50 630.5L772.00 630.7L772.50 630.6L773.00 630.6L773.50 630.5L774.00 630.8L774.50 630.8L775.00 631.5L775.50 631.7L776.00 632.1L776.50 632.2L777.00 632.1L777.50 632.2L778.00 632.2L778.50 632.2L779.00 632.2L779.50 632.0L780.00 632.3L780.50 632.3L781.00 632.3L781.50 632.3L782.00 631.8L782.50 632.0L783.00 632.2L783.50 632.2L784.00 632.2L784.50 632.2L785.00 632.2L785.50 632.3L786.00 632.1L786.50 632.2L787.00 632.2L787.50 632.2L788.00 631.0L788.50 632.0L789.00 632.2L789.50 632.3L790.00 631.7L790.50 631.9L791.00 631.9L791.50 631.9L792.00 632.1L792.50 632.1L793.00 632.1L793.50 632.2L794.00 632.1L794.50 632.1L795.00 632.2L795.50 631.5L796.00 631.2L796.50 632.2L797.00 632.3L797.50 632.1L798.00 632.0L798.50 631.8L799.00 632.0L799.50 631.8L800.00 631.5L800.50 630.5L801.00 630.7L801.50 625.0L802.00 615.4L802.20 612.5L802.50 612.5L802.60 612.5L803.00 618.7L803.50 630.5L804.00 630.6L804.50 630.9L805.00 631.6L805.50 632.1L806.00 632.3L806.50 632.3L807.00 632.1L807.50 632.2L808.00 631.9L808.50 632.0L809.00 631.9L809.50 632.1L810.00 632.3L810.50 632.1L811.00 631.3L811.50 631.6L812.00 632.3L812.50 632.3L813.00 632.1L813.50 632.2L814.00 632.2L814.50 632.2L815.00 632.3L815.50 632.3L816.00 629.7L816.40 628.1L816.50 628.1L816.80 628.1L817.00 628.9L817.50 631.7L818.00 632.1L818.50 632.2L819.00 632.2L819.50 632.3L820.00 632.1L820.50 632.2L821.00 631.7L821.50 631.8L822.00 632.3L822.50 632.2L823.00 632.2L823.50 632.1L824.00 632.3L824.50 632.2L825.00 632.1L825.50 632.2L826.00 632.1L826.50 632.3L827.00 632.2L827.50 632.3L828.00 632.3L828.50 632.2L829.00 632.3L829.50 632.2L830.00 632.3L830.50 632.1L831.00 632.1L831.50 632.1L832.00 632.2L832.50 632.1L833.00 632.2L833.50 632.1L834.00 632.3L834.50 631.4L835.00 631.8L835.50 631.6L836.00 631.8L836.50 629.8L837.00 628.4L837.50 628.1L838.00 627.6L838.50 617.4L839.00 598.0L839.20 592.1L839.50 592.1L839.60 592.1L840.00 604.6L840.50 627.5L841.00 628.5L841.50 628.1L842.00 629.6L842.50 631.8L843.00 632.1L843.50 632.1L844.00 632.1L844.50 630.4L844.80 629.7L845.00 629.7L845.20 629.7L845.50 630.4L846.00 631.7L846.50 632.3L847.00 632.2L847.50 632.2L848.00 632.2L848.50 632.1L849.00 632.3L849.50 631.9L850.00 632.0L850.50 631.9L851.00 632.3L851.50 632.3L852.00 632.2L852.50 632.3L853.00 632.1L853.50 632.3L854.00 632.1L854.50 632.1L855.00 632.2L855.50 632.1L856.00 632.1L856.50 632.2L857.00 632.2L857.50 632.1L858.00 632.1L858.50 632.1L859.00 631.9L859.50 632.1L860.00 632.1L860.50 632.1L861.00 632.2L861.50 629.4L862.00 625.3L862.20 624.1L862.50 624.1L862.60 624.1L863.00 626.7L863.50 631.8L864.00 631.8L864.50 632.1L865.00 632.2L865.50 631.5L866.00 631.6L866.50 632.2L867.00 632.0L867.50 632.1L868.00 632.2L868.50 632.2L869.00 632.3L869.50 632.3L870.00 632.1L870.50 632.1L871.00 632.2L871.50 631.1L872.00 631.6L872.50 630.9L873.00 630.8L873.50 630.6L874.00 629.2L874.50 624.0L874.80 621.7L875.00 621.7L875.20 621.7L875.50 624.0L876.00 629.2L876.50 630.9L877.00 630.7L877.50 630.5L878.00 630.8L878.50 630.9L879.00 630.7L879.50 630.6L880.00 631.0L880.50 631.0L881.00 630.8L881.50 630.8L882.00 631.6L882.50 632.3L883.00 632.2L883.50 632.3L884.00 632.3L884.50 632.3L885.00 632.2L885.50 632.1L886.00 632.2L886.50 631.5L887.00 631.6L887.50 631.2L888.00 632.3L888.50 632.2L889.00 631.5L889.50 631.5L890.00 631.5L890.50 631.7L891.00 632.2L891.50 632.1L892.00 632.1L892.50 632.2L893.00 631.4L893.50 631.2L894.00 632.3L894.50 632.3L895.00 632.1L895.50 632.3L896.00 632.2L896.50 632.2L897.00 632.2L897.50 632.2L898.00 632.3L898.50 632.3L899.00 632.2L899.50 632.3L900.00 632.2L900.50 632.1L901.00 632.2L901.50 632.2L902.00 632.3L902.50 632.3L903.00 632.2L903.50 632.1L904.00 632.2L904.50 632.2L905.00 632.2L905.50 632.2L906.00 632.2L906.50 632.2L907.00 631.9L907.50 630.9L907.80 630.5L908.00 630.5L908.20 630.5L908.50 630.9L909.00 631.4L909.50 630.6L910.00 630.5L910.50 630.4L911.00 632.2L911.50 632.3L912.00 632.1L912.50 632.1L913.00 632.0L913.50 631.8L914.00 632.3L914.50 632.2L915.00 632.2L915.50 632.2L916.00 632.3L916.50 632.2L917.00 632.2L917.50 632.2L918.00 632.3L918.50 632.3L919.00 631.9L919.50 631.4L920.00 631.2L920.50 629.8L921.00 620.2L921.20 617.7L921.50 617.7L921.60 617.7L922.00 623.2L922.50 630.8L923.00 631.3L923.50 631.5L924.00 628.5L924.20 627.7L924.50 627.7L924.60 627.7L925.00 629.5L925.50 632.2L926.00 632.3L926.50 632.3L927.00 632.3L927.50 631.0L928.00 631.8L928.50 631.9L929.00 632.2L929.50 632.3L930.00 632.2L930.50 632.1L931.00 631.5L931.50 629.0L932.00 626.7L932.50 627.9L933.00 627.1L933.50 626.8L934.00 616.2L934.20 613.1L934.50 613.1L934.60 613.1L935.00 619.6L935.50 626.5L936.00 627.2L936.50 627.5L937.00 627.8L937.50 629.1L938.00 631.6L938.50 632.2L939.00 632.2L939.50 632.2L940.00 631.8L940.50 632.0L941.00 631.8L941.50 631.9L942.00 632.1L942.50 632.2L943.00 631.3L943.50 630.7L944.00 628.8L944.40 627.7L944.50 627.7L944.80 627.7L945.00 628.2L945.50 629.8L946.00 630.9L946.50 630.6L947.00 630.7L947.50 630.8L948.00 631.5L948.50 632.2L949.00 632.2L949.50 632.3L950.00 631.8L950.50 632.0L951.00 632.3L951.50 632.3L952.00 632.1L952.50 632.3L953.00 632.3L953.50 631.8L954.00 632.2L954.50 632.3L955.00 630.6L955.50 631.1L956.00 631.9L956.50 632.0L957.00 632.0L957.50 632.2L958.00 632.3L958.50 632.3L959.00 632.1L959.50 632.0L960.00 631.8L960.50 632.3L961.00 632.1L961.50 632.2L962.00 632.1L962.50 632.0L963.00 632.1L963.50 632.1L964.00 632.1L964.50 632.3L965.00 632.1L965.50 632.1L966.00 631.6L966.50 630.8L967.00 630.9L967.50 630.6L968.00 630.5L968.50 630.8L969.00 630.8L969.50 630.7L970.00 630.6L970.50 630.7L971.00 630.6L971.50 630.8L972.00 630.8L972.50 630.7L973.00 630.6L973.50 630.8L974.00 630.8L974.50 630.6L975.00 631.4L975.50 632.1L976.00 632.1L976.50 632.1L977.00 632.3L977.50 632.2L978.00 631.6L978.50 631.7L979.00 632.3L979.50 632.3L980.00 632.1L980.50 632.2L981.00 632.3L981.50 632.0L982.00 631.9L982.50 632.1L983.00 632.3L983.50 632.1L984.00 632.2L984.50 632.0L985.00 631.8L985.50 631.9L986.00 631.8L986.50 632.1L987.00 632.3L987.50 632.1L988.00 632.2L988.50 632.2L989.00 632.3L989.50 632.3L990.00 632.3L990.50 632.1L991.00 632.2L991.50 632.2L992.00 632.2L992.50 632.3L993.00 632.1L993.50 632.1L994.00 632.2L994.50 631.9L995.00 632.2L995.50 632.2L996.00 632.2L996.50 632.2L997.00 632.0L997.50 631.9L998.00 631.8L998.50 631.9L999.00 632.3L999.50 632.1L1000.00 632.1L1000.50 632.1L1001.00 632.2L1001.50 632.1L1002.00 632.2L1002.50 631.9L1003.00 632.0L1003.50 632.1L1004.00 632.3L1004.50 632.2L1005.00 632.3L1005.50 632.3L1006.00 632.2L1006.50 631.3L1007.00 631.0L1007.50 632.2L1008.00 632.2L1008.50 632.1L1009.00 632.1L1009.50 632.3L1010.00 632.1L1010.50 632.1L1011.00 632.2L1011.50 632.3L1012.00 632.3L1012.50 632.2L1013.00 632.3L1013.50 632.3L1014.00 632.1L1014.50 632.1L1015.00 632.0L1015.50 632.1L1016.00 632.0L1016.50 632.0L1017.00 631.1L1017.50 630.0L1018.00 630.1L1018.50 624.9L1019.00 615.1L1019.20 612.1L1019.50 612.1L1019.60 612.1L1020.00 618.4L1020.50 630.1L1021.00 629.7L1021.50 630.0L1022.00 629.8L1022.50 630.8L1023.00 632.1L1023.50 632.3L1024.00 632.3L1024.50 631.3L1025.00 632.1L1025.50 632.3L1026.00 632.2L1026.50 632.3L1027.00 632.2L1027.50 632.2L1028.00 632.2L1028.50 632.1L1029.00 632.3L1029.50 632.2L1030.00 632.1L1030.50 632.2L1031.00 632.2L1031.50 630.8L1032.00 632.1L1032.50 632.2L1033.00 632.2L1033.50 632.1L1034.00 632.1L1034.50 632.2L1035.00 632.2L1035.50 632.0L1036.00 632.0L1036.50 632.0L1037.00 632.0L1037.50 632.2L1038.00 632.1L1038.50 631.5L1039.00 625.9L1039.20 624.1L1039.50 624.1L1039.60 624.1L1040.00 627.6L1040.50 627.7L1041.00 626.5L1041.50 623.2L1042.00 614.0L1042.20 611.1L1042.50 611.1L1042.60 611.1L1043.00 617.2L1043.50 627.1L1044.00 629.3L1044.50 630.8L1045.00 630.9L1045.50 629.7L1046.00 629.1L1046.50 620.0L1047.00 604.0L1047.20 599.1L1047.50 599.1L1047.60 599.1L1048.00 609.4L1048.50 628.2L1049.00 627.7L1049.50 629.3L1050.00 630.9L1050.50 632.2L1051.00 631.8L1051.50 632.3L1052.00 632.1L1052.50 632.2L1053.00 630.1L1053.40 628.1L1053.50 628.1L1053.80 628.1L1054.00 629.0L1054.50 631.7L1055.00 627.9L1055.40 626.1L1055.50 626.1L1055.80 626.1L1056.00 627.0L1056.50 629.7L1057.00 632.1L1057.50 632.3L1058.00 632.1L1058.50 632.3L1059.00 632.1L1059.50 632.1L1060.00 632.1L1060.50 631.5L1061.00 631.0L1061.50 631.4L1062.00 632.3L1062.50 632.3L1063.00 632.1L1063.50 632.1L1064.00 632.0L1064.50 632.3L1065.00 629.4L1065.40 626.7L1065.50 626.7L1065.80 626.7L1066.00 627.9L1066.50 630.9L1067.00 632.1L1067.50 631.9L1068.00 631.9L1068.50 632.0L1069.00 632.2L1069.50 632.1L1070.00 632.2L1070.50 632.3L1071.00 632.3L1071.50 632.2L1072.00 632.1L1072.50 632.1L1073.00 632.3L1073.50 632.2L1074.00 632.1L1074.50 632.3L1075.00 632.2L1075.50 632.3L1076.00 632.3L1076.50 632.2L1077.00 632.2L1077.50 632.1L1078.00 632.2L1078.50 632.3L1079.00 632.2L1079.50 632.1L1080.00 632.3L1080.50 632.3L1081.00 632.3L1081.50 632.3L1082.00 632.1L1082.50 631.8L1083.00 631.8L1083.50 631.4L1084.00 631.8L1084.50 632.2L1085.00 631.9L1085.50 632.0L1086.00 632.3L1086.50 632.1L1087.00 632.2L1087.50 632.2L1088.00 632.2L1088.50 632.3L1089.00 632.1L1089.50 632.2L1090.00 631.9L1090.50 631.8L1091.00 632.0L1091.50 632.2L1092.00 631.2L1092.50 632.2L1093.00 632.1L1093.50 632.1L1094.00 631.4L1094.50 631.5L1095.00 631.6L1095.50 631.4L1096.00 632.1L1096.50 632.2L1097.00 632.0L1097.50 632.2L1098.00 631.5L1098.50 630.0L1099.00 625.4L1099.20 624.1L1099.50 624.1L1099.60 624.1L1100.00 626.9L1100.50 632.2L1101.00 632.1L1101.50 632.2L1102.00 632.3L1102.50 632.0L1103.00 631.2L1103.50 630.3L1104.00 630.0L1104.50 625.7L1105.00 621.7L1105.50 622.2L1106.00 615.7L1106.50 612.9L1107.00 599.1L1107.40 588.1L1107.50 588.1L1107.80 588.1L1108.00 593.6L1108.50 607.4L1109.00 615.1L1109.50 621.3L1110.00 621.9L1110.50 622.4L1111.00 626.6L1111.50 629.8L1112.00 631.0L1112.50 631.7L1113.00 631.9L1113.50 631.8L1114.00 626.7L1114.40 623.7L1114.50 623.7L1114.80 623.7L1115.00 625.1L1115.50 629.9L1116.00 632.1L1116.50 632.2L1117.00 632.2L1117.50 632.2L1118.00 631.8L1118.50 631.5L1119.00 631.4L1119.50 631.7L1120.00 632.3L1120.50 632.3L1121.00 632.1L1121.50 632.3L1122.00 632.3L1122.50 632.1L1123.00 632.3L1123.50 632.2L1124.00 632.3L1124.50 631.8L1125.00 630.8L1125.50 630.1L1126.00 629.2L1126.50 621.0L1127.00 606.2L1127.20 601.7L1127.50 601.7L1127.60 601.7L1128.00 611.2L1128.50 629.6L1129.00 629.5L1129.50 629.9L1130.00 629.6L1130.50 620.9L1130.80 616.1L1131.00 616.1L1131.20 616.1L1131.50 620.9L1132.00 629.9L1132.50 630.2L1133.00 630.0L1133.50 630.0L1134.00 629.9L1134.50 630.2L1135.00 630.8L1135.50 631.7L1136.00 630.5L1136.50 629.5L1137.00 629.4L1137.50 629.2L1138.00 629.4L1138.50 629.7L1139.00 629.6L1139.50 629.1L1140.00 629.6L1140.50 625.8L1140.80 623.7L1141.00 623.7L1141.20 623.7L1141.50 625.8L1142.00 629.0L1142.50 630.7L1143.00 632.0L1143.50 632.2L1144.00 632.2L1144.50 632.1L1145.00 632.1L1145.50 632.3L1146.00 632.2L1146.50 632.0L1147.00 631.8L1147.50 631.4L1148.00 625.1L1148.20 623.1L1148.50 623.1L1148.60 623.1L1149.00 627.5L1149.50 631.7L1150.00 631.9L1150.50 632.1L1151.00 632.3L1151.50 632.1L1152.00 632.3L1152.50 632.1L1153.00 632.2L1153.50 632.1L1154.00 632.2L1154.50 632.2L1155.00 632.2L1155.50 632.2L1156.00 632.2L1156.50 632.3L1157.00 632.1L1157.50 632.3L1158.00 632.2L1158.50 632.2L1159.00 632.2L1159.50 632.3L1160.00 632.2L1160.50 632.3L1161.00 632.2L1161.50 632.2L1162.00 632.1L1162.50 632.2L1163.00 631.9L1163.50 631.9L1164.00 632.1L1164.50 632.0L1165.00 632.1L1165.50 632.3L1166.00 632.3L1166.50 632.3L1167.00 632.2L1167.50 632.2L1168.00 632.2L1168.50 632.2L1169.00 632.1L1169.50 631.8L1170.00 632.3L1170.50 632.2L1171.00 632.3L1171.50 632.3L1172.00 632.0L1172.50 630.9L1173.00 629.5L1173.50 629.6L1174.00 630.2L1174.50 629.6L1175.00 629.5L1175.50 630.0L1176.00 627.5L1176.40 623.1L1176.50 623.1L1176.80 623.1L1177.00 625.1L1177.50 629.6L1178.00 630.0L1178.50 629.6L1179.00 631.0L1179.50 632.0L1180.00 632.3L1180.50 632.2L1181.00 632.2L1181.50 632.1L1182.00 632.3L1182.50 632.3L1183.00 632.2L1183.50 632.2L1184.00 632.3L1184.50 632.1L1185.00 632.0L1185.50 632.2L1186.00 632.2L1186.50 632.1L1187.00 632.1L1187.50 632.3L1188.00 632.2L1188.50 632.3L1189.00 629.9L1189.40 627.7L1189.50 627.7L1189.80 627.7L1190.00 628.7L1190.50 632.2L1191.00 631.7L1191.50 631.5L1192.00 631.3L1192.50 629.0L1193.00 626.2L1193.40 622.5L1193.50 622.5L1193.80 622.5L1194.00 624.2L1194.50 624.9L1195.00 625.0L1195.50 615.9L1195.80 611.1L1196.00 611.1L1196.20 611.1L1196.50 615.9L1197.00 624.5L1197.50 618.9L1198.00 605.3L1198.20 601.1L1198.50 601.1L1198.60 601.1L1199.00 610.1L1199.50 624.5L1200.00 626.3L1200.50 628.6L1201.00 630.8L1201.50 630.5L1202.00 630.7L1202.50 630.9L1203.00 630.5L1203.50 627.4L1203.80 626.1L1204.00 626.1L1204.20 626.1L1204.50 627.4L1205.00 630.5L1205.50 630.8L1206.00 630.7L1206.50 630.7L1207.00 630.6L1207.50 631.0L1208.00 630.6L1208.50 630.8L1209.00 630.8L1209.50 631.0L1210.00 630.8L1210.50 630.8L1211.00 630.6L1211.50 630.7L1212.00 631.4L1212.50 631.6L1213.00 631.6L1213.50 631.5L1214.00 631.3L1214.50 631.4L1215.00 631.5L1215.50 631.6L1216.00 631.6L1216.50 631.6L1217.00 631.3L1217.50 631.5L1218.00 631.5L1218.50 631.3L1219.00 631.4L1219.50 631.4L1220.00 631.7L1220.50 632.0L1221.00 632.1L1221.50 632.2L1222.00 632.3L1222.50 632.3L1223.00 632.2L1223.50 632.2L1224.00 632.3L1224.50 632.2L1225.00 632.1L1225.50 632.2L1226.00 632.3L1226.50 632.1L1227.00 631.9L1227.50 631.8L1228.00 632.2L1228.50 632.3L1229.00 632.2L1229.50 632.2L1230.00 632.3L1230.50 632.3L1231.00 632.3L1231.50 632.2L1232.00 631.6L1232.50 631.7L1233.00 631.8L1233.50 631.7L1234.00 632.3L1234.50 632.2L1235.00 631.4L1235.50 632.3L1236.00 632.2L1236.50 632.2L1237.00 632.2L1237.50 632.1L1238.00 632.1L1238.50 632.1L1239.00 632.1L1239.50 632.3L1240.00 632.2L1240.50 632.3L1241.00 632.1L1241.50 632.2L1242.00 632.3L1242.50 632.3L1243.00 632.1L1243.50 632.3L1244.00 632.2L1244.50 632.2L1245.00 632.2L1245.50 632.2L1246.00 631.9L1246.50 631.9L1247.00 632.3L1247.50 632.3L1248.00 632.3L1248.50 631.5L1248.80 631.1L1249.00 631.1L1249.20 631.1L1249.50 631.5L1250.00 632.0L1250.50 632.2L1251.00 632.3L1251.50 632.3L1252.00 632.1L1252.50 632.2L1253.00 632.2L1253.50 632.2L1254.00 632.2L1254.50 632.3L1255.00 632.1L1255.50 632.2L1256.00 632.2L1256.50 632.2L1257.00 632.2L1257.50 632.1L1258.00 632.2L1258.50 632.2L1259.00 632.1L1259.50 632.2L1260.00 632.2L1260.50 632.2L1261.00 632.2L1261.50 632.2L1262.00 632.2L1262.50 632.3L1263.00 632.3L1263.50 632.3L1264.00 632.1L1264.50 632.2L1265.00 632.2L1265.50 632.1L1266.00 632.2L1266.50 632.2L1267.00 632.3L1267.50 632.2L1268.00 632.2L1268.50 632.2L1269.00 632.2L1269.50 632.3L1270.00 632.3L1270.50 632.3L1271.00 632.2L1271.50 632.2L1272.00 632.2L1272.50 632.2L1273.00 632.1L1273.50 632.3L1274.00 632.2L1274.50 632.2L1275.00 632.2L1275.50 632.1L1276.00 632.2L1276.50 632.1L1277.00 632.3L1277.50 632.3L1278.00 632.1L1278.50 631.8L1278.80 631.5L1279.00 631.5L1279.20 631.5L1279.50 631.8L1280.00 632.2L1280.50 632.2L1281.00 632.1L1281.50 632.3L1282.00 632.2L1282.50 632.1L1283.00 632.2L1283.50 632.3L1284.00 632.1L1284.50 632.1L1285.00 632.2L1285.50 632.3L1286.00 632.2L1286.50 632.1L1287.00 632.3L1287.50 632.2L1288.00 632.3L1288.50 632.3L1289.00 632.2L1289.50 632.2L1290.00 632.3L1290.50 632.3L1291.00 632.3L1291.50 632.3L1292.00 632.3L1292.50 632.2L1293.00 632.1L1293.50 632.3L1294.00 632.1L1294.50 631.7L1295.00 632.3L1295.50 632.2L1296.00 632.1L1296.50 632.1L1297.00 632.3L1297.50 632.3L1298.00 632.2L1298.50 632.3L1299.00 632.2L1299.50 632.2L1300.00 632.3L1300.50 632.1L1301.00 632.1L1301.50 632.3L1302.00 632.1L1302.50 632.2L1303.00 632.1L1303.50 632.2L1304.00 632.1L1304.50 632.2L1305.00 632.2L1305.50 632.2L1306.00 632.2L1306.50 632.3L1307.00 632.1L1307.50 632.1L1308.00 632.3L1308.50 632.2L1309.00 632.2L1309.50 632.1L1310.00 632.2L1310.50 632.1L1311.00 632.2L1311.50 632.2L1312.00 632.3L1312.50 632.2L1313.00 632.1L1313.50 632.3L1314.00 632.2L1314.50 632.3L1315.00 632.1L1315.50 632.1L1316.00 632.1L1316.50 632.3L1317.00 632.3L1317.50 631.6L1318.00 631.6L1318.50 631.8L1319.00 632.3L1319.50 632.1L1320.00 632.3L1320.50 632.1L1321.00 632.3L1321.50 632.2L1322.00 632.1L1322.50 632.4L1323.00 632.3L1323.50 632.4L1323.75 632.5Z" fill="#B2109E"/>
<line x1="351.5" x2="1369.6" y1="632.50" y2="632.50" stroke="#4a4a4a" stroke-width="1.1"/>
<text class="strip" x="174.5" y="585.8" textLength="109.3" lengthAdjust="spacingAndGlyphs">Reticular</text>
<path d="M395.75 754.0L396.00 753.7L396.50 753.8L397.00 753.7L397.50 752.9L398.00 753.0L398.50 753.8L399.00 753.7L399.50 753.7L400.00 753.7L400.50 753.7L401.00 753.7L401.50 752.9L402.00 753.6L402.50 753.6L403.00 753.6L403.50 753.7L404.00 753.8L404.50 753.1L405.00 752.3L405.50 752.2L406.00 752.5L406.50 750.9L407.00 747.4L407.50 747.6L408.00 747.1L408.20 746.0L408.50 746.0L408.60 746.0L409.00 746.8L409.50 747.4L410.00 750.5L410.50 752.5L411.00 752.4L411.50 752.3L412.00 752.2L412.50 752.5L413.00 752.2L413.50 752.4L414.00 749.6L414.20 748.4L414.50 748.4L414.60 748.4L415.00 751.0L415.50 752.2L416.00 752.4L416.50 752.6L417.00 752.3L417.50 752.3L418.00 753.0L418.50 753.6L419.00 753.7L419.50 753.3L420.00 753.4L420.50 753.8L421.00 753.8L421.50 753.7L422.00 753.7L422.50 753.6L423.00 753.5L423.50 753.5L424.00 753.8L424.50 753.8L425.00 753.8L425.50 753.8L426.00 753.8L426.50 753.8L427.00 753.7L427.50 753.8L428.00 753.7L428.50 753.6L429.00 753.7L429.50 753.8L430.00 753.7L430.50 753.6L431.00 753.7L431.50 753.6L432.00 753.7L432.50 752.8L433.00 752.4L433.50 752.9L434.00 753.6L434.50 753.4L435.00 752.6L435.50 752.7L436.00 753.5L436.50 753.2L437.00 753.6L437.50 753.8L438.00 753.7L438.50 753.7L439.00 753.8L439.50 753.6L440.00 753.6L440.50 753.2L441.00 753.8L441.50 753.8L442.00 753.2L442.50 752.5L443.00 752.6L443.50 752.8L444.00 752.7L444.50 752.8L445.00 752.8L445.50 752.8L446.00 752.8L446.50 752.7L447.00 752.6L447.50 752.5L448.00 752.4L448.50 751.1L449.00 747.0L449.50 740.7L450.00 738.7L450.50 737.3L451.00 726.5L451.40 716.4L451.50 716.4L451.80 716.4L452.00 721.4L452.50 734.3L453.00 738.3L453.50 737.6L454.00 744.1L454.50 751.0L455.00 751.2L455.50 749.9L456.00 748.4L456.50 746.4L457.00 738.8L457.20 736.4L457.50 736.4L457.60 736.4L458.00 741.4L458.50 747.5L459.00 750.3L459.50 751.5L460.00 752.3L460.50 753.5L461.00 753.3L461.50 753.8L462.00 753.7L462.50 753.7L463.00 753.7L463.50 753.6L464.00 753.7L464.50 753.6L465.00 753.6L465.50 753.7L466.00 753.7L466.50 753.7L467.00 753.7L467.50 753.6L468.00 753.6L468.50 753.7L469.00 753.7L469.50 753.7L470.00 753.8L470.50 753.7L471.00 753.5L471.50 753.7L472.00 753.8L472.50 753.4L473.00 753.5L473.50 753.4L474.00 753.5L474.50 753.3L475.00 753.7L475.50 753.7L476.00 753.8L476.50 753.6L477.00 753.7L477.50 753.8L478.00 753.5L478.50 753.6L479.00 753.7L479.50 753.7L480.00 753.7L480.50 753.7L481.00 753.7L481.50 752.8L482.00 752.6L482.50 753.7L483.00 753.7L483.50 753.6L484.00 753.6L484.50 753.7L485.00 753.7L485.50 753.7L486.00 753.6L486.50 753.5L487.00 753.5L487.50 753.5L488.00 753.6L488.50 753.8L489.00 753.2L489.50 753.2L490.00 753.7L490.50 753.7L491.00 752.8L491.50 752.5L492.00 753.6L492.50 753.8L493.00 753.6L493.50 753.6L494.00 753.8L494.50 753.8L495.00 753.8L495.50 753.8L496.00 753.6L496.50 753.8L497.00 753.8L497.50 753.7L498.00 753.6L498.50 753.8L499.00 753.8L499.50 753.1L500.00 752.7L500.50 753.2L501.00 753.7L501.50 753.7L502.00 752.4L502.50 752.3L503.00 752.6L503.50 752.5L504.00 753.7L504.50 753.6L505.00 753.7L505.50 753.8L506.00 753.6L506.50 753.5L507.00 753.5L507.50 753.6L508.00 753.1L508.50 753.4L509.00 753.1L509.50 753.8L510.00 753.7L510.50 753.8L511.00 753.8L511.50 753.7L512.00 753.7L512.50 753.7L513.00 753.7L513.50 753.0L514.00 752.6L514.50 753.6L515.00 753.8L515.50 753.7L516.00 753.8L516.50 753.6L517.00 753.6L517.50 753.8L518.00 753.7L518.50 753.6L519.00 753.6L519.50 753.7L520.00 753.7L520.50 753.7L521.00 753.6L521.50 753.6L522.00 753.6L522.50 753.4L523.00 753.4L523.50 753.8L524.00 753.6L524.50 753.5L525.00 753.7L525.50 753.7L526.00 753.7L526.50 753.5L527.00 753.7L527.50 753.7L528.00 753.6L528.50 753.6L529.00 752.3L529.30 751.0L529.50 751.0L529.70 751.0L530.00 752.3L530.50 753.8L531.00 753.6L531.50 753.8L532.00 753.2L532.50 751.6L533.00 750.0L533.50 749.8L534.00 749.8L534.50 743.0L535.00 722.8L535.20 717.0L535.50 717.0L535.60 717.0L536.00 729.5L536.50 748.9L537.00 730.8L537.20 726.0L537.50 726.0L537.60 726.0L538.00 736.4L538.50 749.2L539.00 749.3L539.50 749.7L540.00 749.6L540.50 751.5L541.00 753.3L541.50 753.8L542.00 753.8L542.50 753.8L543.00 753.4L543.50 753.8L544.00 753.7L544.50 753.8L545.00 753.7L545.50 753.7L546.00 753.0L546.50 752.2L547.00 752.3L547.50 752.2L548.00 752.5L548.50 751.4L548.80 750.4L549.00 750.4L549.20 750.4L549.50 751.4L550.00 752.0L550.50 752.3L551.00 752.4L551.50 752.3L552.00 752.4L552.50 752.2L553.00 752.0L553.50 752.0L554.00 753.1L554.50 753.7L555.00 753.6L555.50 753.7L556.00 753.6L556.50 753.8L557.00 753.8L557.50 753.6L558.00 753.7L558.50 753.6L559.00 753.4L559.50 753.5L560.00 753.4L560.50 753.5L561.00 753.4L561.50 753.5L562.00 753.7L562.50 753.8L563.00 753.7L563.50 753.6L564.00 753.7L564.50 753.8L565.00 753.7L565.50 753.8L566.00 753.7L566.50 753.8L567.00 753.8L567.50 753.7L568.00 753.8L568.50 753.6L569.00 753.8L569.50 753.5L570.00 753.5L570.50 753.5L571.00 753.6L571.50 753.6L572.00 753.6L572.50 753.6L573.00 753.7L573.50 753.5L574.00 753.6L574.50 753.7L575.00 753.6L575.50 753.6L576.00 753.8L576.50 753.6L577.00 753.7L577.50 753.8L578.00 753.6L578.50 753.8L579.00 753.8L579.50 753.7L580.00 753.6L580.50 753.8L581.00 753.8L581.50 753.4L582.00 753.8L582.50 753.7L583.00 753.7L583.50 753.6L584.00 753.8L584.50 753.1L585.00 753.8L585.50 753.8L586.00 753.8L586.50 753.6L587.00 753.6L587.50 753.8L588.00 753.7L588.50 753.7L589.00 753.8L589.50 753.8L590.00 753.6L590.50 753.8L591.00 753.6L591.50 753.4L592.00 753.3L592.50 751.6L592.80 750.4L593.00 750.4L593.20 750.4L593.50 751.6L594.00 753.8L594.50 753.1L595.00 753.0L595.50 752.6L596.00 752.6L596.50 753.7L597.00 753.7L597.50 753.7L598.00 753.8L598.50 753.8L599.00 753.7L599.50 753.6L600.00 753.8L600.50 753.7L601.00 753.8L601.50 753.7L602.00 753.7L602.50 753.7L603.00 753.8L603.50 753.7L604.00 753.8L604.50 753.8L605.00 753.4L605.50 753.3L606.00 753.6L606.50 753.8L607.00 753.8L607.50 753.6L608.00 753.7L608.50 753.8L609.00 753.6L609.50 753.7L610.00 753.7L610.50 753.8L611.00 753.7L611.50 753.7L612.00 753.6L612.50 753.7L613.00 752.5L613.50 753.7L614.00 753.8L614.50 753.7L615.00 753.7L615.50 753.7L616.00 753.7L616.50 753.5L617.00 753.4L617.50 753.5L618.00 753.4L618.50 753.2L619.00 753.4L619.50 753.8L620.00 753.7L620.50 753.8L621.00 753.8L621.50 753.8L622.00 753.6L622.50 753.8L623.00 753.7L623.50 753.8L624.00 753.7L624.50 753.8L625.00 753.8L625.50 753.7L626.00 753.7L626.50 753.6L627.00 753.8L627.50 753.8L628.00 753.7L628.50 753.6L629.00 753.8L629.50 753.8L630.00 753.7L630.50 753.8L631.00 753.4L631.50 753.7L632.00 753.6L632.50 753.7L633.00 753.0L633.50 753.1L634.00 753.8L634.50 753.7L635.00 753.8L635.50 753.7L636.00 753.7L636.50 752.8L637.00 752.8L637.50 753.7L638.00 753.8L638.50 753.6L639.00 753.7L639.50 753.7L640.00 753.7L640.50 753.8L641.00 753.8L641.50 753.6L642.00 753.7L642.50 753.8L643.00 753.5L643.50 753.3L644.00 753.7L644.50 753.8L645.00 753.7L645.50 753.7L646.00 753.7L646.50 753.8L647.00 753.7L647.50 753.7L648.00 753.7L648.50 753.8L649.00 753.7L649.50 753.7L650.00 753.8L650.50 753.8L651.00 753.6L651.50 753.5L652.00 753.6L652.50 753.8L653.00 753.8L653.50 753.6L654.00 753.6L654.50 753.8L655.00 753.7L655.50 753.8L656.00 753.7L656.50 753.6L657.00 753.7L657.50 753.7L658.00 753.6L658.50 753.8L659.00 753.6L659.50 753.8L660.00 753.6L660.50 753.8L661.00 753.0L661.50 752.6L662.00 752.6L662.50 753.0L663.00 753.8L663.50 753.8L664.00 753.8L664.50 753.8L665.00 753.7L665.50 753.6L666.00 753.7L666.50 753.8L667.00 753.7L667.50 753.8L668.00 753.8L668.50 753.8L669.00 753.6L669.50 753.8L670.00 753.7L670.50 753.7L671.00 753.2L671.50 753.2L672.00 753.2L672.50 753.3L673.00 753.8L673.50 753.7L674.00 753.8L674.50 753.8L675.00 753.7L675.50 753.6L676.00 753.4L676.50 753.1L677.00 753.7L677.50 753.8L678.00 753.6L678.50 753.8L679.00 753.6L679.50 753.7L680.00 753.8L680.50 753.7L681.00 753.7L681.50 753.6L682.00 753.6L682.50 753.7L683.00 753.8L683.50 753.4L684.00 753.5L684.50 753.5L685.00 753.3L685.50 753.6L686.00 753.7L686.50 753.7L687.00 753.8L687.50 753.8L688.00 753.7L688.50 753.8L689.00 753.7L689.50 753.7L690.00 753.3L690.50 752.9L691.00 753.0L691.50 753.3L692.00 753.3L692.50 752.9L693.00 753.2L693.50 753.1L694.00 753.8L694.50 753.8L695.00 753.8L695.50 753.6L696.00 753.1L696.50 753.3L697.00 753.0L697.50 753.6L698.00 753.7L698.50 753.8L699.00 753.4L699.50 753.4L700.00 753.5L700.50 753.7L701.00 752.5L701.50 752.8L702.00 753.7L702.50 753.7L703.00 753.7L703.50 753.6L704.00 753.6L704.50 753.8L705.00 753.8L705.50 753.6L706.00 753.8L706.50 753.8L707.00 753.6L707.50 753.4L708.00 753.5L708.50 753.8L709.00 753.7L709.50 752.9L709.80 752.4L710.00 752.4L710.20 752.4L710.50 752.9L711.00 753.7L711.50 753.6L712.00 753.7L712.50 753.6L713.00 753.6L713.50 753.5L714.00 753.5L714.50 753.6L715.00 753.4L715.50 753.3L716.00 752.7L716.50 753.0L717.00 753.5L717.50 753.6L718.00 753.7L718.50 753.7L719.00 753.8L719.50 753.7L720.00 753.7L720.50 752.9L720.80 752.4L721.00 752.4L721.20 752.4L721.50 752.9L722.00 753.7L722.50 753.7L723.00 753.8L723.50 753.6L724.00 753.6L724.50 753.6L725.00 753.7L725.50 753.8L726.00 753.7L726.50 753.7L727.00 753.7L727.50 753.2L728.00 753.3L728.50 753.7L729.00 753.7L729.50 753.8L730.00 753.7L730.50 753.8L731.00 753.8L731.50 753.6L732.00 753.7L732.50 753.7L733.00 753.8L733.50 753.8L734.00 753.6L734.50 753.8L735.00 753.5L735.50 753.6L736.00 753.6L736.50 753.5L737.00 753.7L737.50 753.8L738.00 753.7L738.50 753.7L739.00 752.9L739.40 752.0L739.50 752.0L739.80 752.0L740.00 752.4L740.50 753.7L741.00 753.7L741.50 753.7L742.00 753.7L742.50 753.7L743.00 753.6L743.50 753.7L744.00 753.6L744.50 753.8L745.00 753.7L745.50 753.7L746.00 753.7L746.50 753.8L747.00 753.7L747.50 753.8L748.00 753.8L748.50 753.6L749.00 753.8L749.50 753.8L750.00 753.8L750.50 753.6L751.00 753.5L751.50 753.6L752.00 753.5L752.50 753.2L753.00 753.1L753.50 753.5L754.00 753.7L754.50 753.7L755.00 753.8L755.50 753.6L756.00 753.7L756.50 753.7L757.00 753.4L757.50 753.4L758.00 753.6L758.50 753.8L759.00 753.7L759.50 753.8L760.00 753.8L760.50 753.3L761.00 753.5L761.50 753.8L762.00 753.2L762.50 753.5L763.00 753.6L763.50 753.8L764.00 752.9L764.50 752.4L765.00 752.5L765.50 752.4L766.00 750.0L766.40 748.4L766.50 748.4L766.80 748.4L767.00 749.2L767.50 751.6L768.00 752.0L768.50 752.4L769.00 752.1L769.50 752.1L770.00 753.0L770.50 753.8L771.00 753.6L771.50 753.2L772.00 753.4L772.50 753.4L773.00 751.9L773.20 751.4L773.50 751.4L773.60 751.4L774.00 752.6L774.50 753.8L775.00 753.7L775.50 753.7L776.00 753.7L776.50 753.6L777.00 753.7L777.50 753.4L778.00 753.5L778.50 753.7L779.00 753.6L779.50 753.7L780.00 753.6L780.50 753.7L781.00 753.7L781.50 753.8L782.00 753.8L782.50 753.7L783.00 753.7L783.50 753.7L784.00 753.6L784.50 753.8L785.00 753.6L785.50 753.6L786.00 753.8L786.50 753.6L787.00 753.7L787.50 753.8L788.00 753.7L788.50 753.7L789.00 753.7L789.50 753.7L790.00 753.8L790.50 753.7L791.00 753.7L791.50 753.7L792.00 753.6L792.50 753.7L793.00 753.7L793.50 753.8L794.00 753.7L794.50 753.6L795.00 753.5L795.50 753.6L796.00 753.5L796.50 753.8L797.00 753.6L797.50 753.7L798.00 753.7L798.50 753.7L799.00 753.6L799.50 753.4L800.00 752.9L800.50 752.5L801.00 752.1L801.50 743.2L802.00 736.0L802.40 736.0L802.50 737.3L803.00 745.1L803.50 752.2L804.00 752.4L804.50 752.9L805.00 753.4L805.50 753.7L806.00 753.8L806.50 753.6L807.00 753.8L807.50 753.7L808.00 753.6L808.50 753.6L809.00 753.6L809.50 753.8L810.00 753.8L810.50 753.7L811.00 752.7L811.50 752.3L812.00 753.5L812.50 753.3L813.00 753.4L813.50 753.2L814.00 753.7L814.50 753.8L815.00 753.7L815.50 753.7L816.00 752.1L816.40 750.0L816.50 750.0L816.80 750.0L817.00 750.9L817.50 753.8L818.00 753.6L818.50 753.8L819.00 753.8L819.50 753.8L820.00 753.6L820.50 753.7L821.00 753.7L821.50 753.7L822.00 753.7L822.50 753.7L823.00 753.8L823.50 753.6L824.00 753.7L824.50 753.8L825.00 753.7L825.50 753.8L826.00 753.8L826.50 753.7L827.00 753.7L827.50 753.8L828.00 753.8L828.50 753.7L829.00 752.9L829.50 753.6L830.00 753.7L830.50 753.6L831.00 753.7L831.50 753.6L832.00 753.7L832.50 753.7L833.00 753.6L833.50 753.6L834.00 753.8L834.50 753.7L835.00 753.7L835.50 753.7L836.00 753.8L836.50 753.6L837.00 753.1L837.50 752.4L838.00 752.2L838.50 748.7L839.00 743.6L839.40 743.6L839.50 744.5L840.00 750.1L840.50 752.0L841.00 752.3L841.50 752.4L842.00 753.1L842.50 753.7L843.00 753.3L843.50 753.1L844.00 753.8L844.50 753.6L845.00 753.8L845.50 752.3L846.00 752.1L846.50 753.6L847.00 753.8L847.50 753.7L848.00 753.8L848.50 753.3L849.00 753.3L849.50 753.2L850.00 752.8L850.50 752.9L851.00 753.8L851.50 753.8L852.00 753.7L852.50 753.8L853.00 753.8L853.50 753.8L854.00 753.8L854.50 753.7L855.00 753.7L855.50 753.8L856.00 753.8L856.50 753.7L857.00 753.6L857.50 753.7L858.00 753.7L858.50 753.7L859.00 753.8L859.50 753.8L860.00 753.6L860.50 753.6L861.00 753.3L861.50 752.8L862.00 752.5L862.50 746.7L862.80 744.0L863.00 744.0L863.20 744.0L863.50 746.7L864.00 752.7L864.50 752.6L865.00 752.8L865.50 752.9L866.00 753.2L866.50 753.8L867.00 753.6L867.50 753.8L868.00 753.6L868.50 753.7L869.00 753.6L869.50 753.7L870.00 753.7L870.50 753.8L871.00 753.7L871.50 753.6L872.00 753.7L872.50 753.8L873.00 753.7L873.50 753.7L874.00 752.3L874.40 751.6L874.50 751.6L874.80 751.6L875.00 751.9L875.50 753.0L876.00 753.7L876.50 753.8L877.00 753.6L877.50 753.5L878.00 753.7L878.50 753.6L879.00 753.5L879.50 752.7L880.00 750.3L880.20 749.6L880.50 749.6L880.60 749.6L881.00 751.1L881.50 753.8L882.00 753.7L882.50 753.6L883.00 753.8L883.50 753.6L884.00 753.7L884.50 753.1L885.00 753.2L885.50 753.2L886.00 753.1L886.50 753.6L887.00 753.8L887.50 753.8L888.00 753.8L888.50 753.5L889.00 753.6L889.50 753.7L890.00 753.6L890.50 753.6L891.00 753.7L891.50 753.7L892.00 753.7L892.50 753.8L893.00 753.7L893.50 753.3L894.00 753.4L894.50 753.7L895.00 753.8L895.50 753.6L896.00 753.7L896.50 753.7L897.00 753.8L897.50 753.7L898.00 753.8L898.50 753.6L899.00 753.4L899.50 753.7L900.00 753.8L900.50 753.7L901.00 753.8L901.50 753.8L902.00 753.6L902.50 753.5L903.00 753.6L903.50 753.6L904.00 753.6L904.50 753.6L905.00 753.5L905.50 752.8L906.00 752.8L906.50 753.7L907.00 753.8L907.50 753.8L908.00 753.6L908.50 753.8L909.00 751.6L909.40 750.4L909.50 750.4L909.80 750.4L910.00 751.0L910.50 752.9L911.00 753.6L911.50 753.6L912.00 753.8L912.50 753.7L913.00 753.7L913.50 753.8L914.00 753.7L914.50 753.6L915.00 753.7L915.50 753.7L916.00 753.6L916.50 753.8L917.00 753.7L917.50 753.7L918.00 753.6L918.50 753.7L919.00 753.6L919.50 753.6L920.00 753.3L920.50 753.3L921.00 753.0L921.40 751.6L921.50 751.6L921.80 751.6L922.00 752.2L922.50 753.7L923.00 753.7L923.50 753.6L924.00 753.5L924.50 753.3L925.00 753.5L925.50 753.7L926.00 753.8L926.50 753.3L927.00 753.2L927.50 753.7L928.00 753.7L928.50 753.8L929.00 753.3L929.50 753.5L930.00 753.4L930.50 753.3L931.00 753.3L931.50 753.7L932.00 753.2L932.50 752.5L933.00 752.9L933.50 752.6L934.00 752.8L934.50 752.6L935.00 752.7L935.50 752.9L936.00 752.7L936.50 752.6L937.00 752.2L937.50 752.4L938.00 752.7L938.50 752.6L939.00 752.6L939.50 752.7L940.00 752.6L940.50 752.8L941.00 752.8L941.50 752.6L942.00 752.6L942.50 752.5L943.00 752.9L943.50 752.5L944.00 752.8L944.50 750.8L944.80 750.0L945.00 750.0L945.20 750.0L945.50 750.8L946.00 752.5L946.50 752.6L947.00 753.3L947.50 753.8L948.00 753.6L948.50 753.7L949.00 753.8L949.50 753.8L950.00 753.8L950.50 753.7L951.00 753.7L951.50 753.8L952.00 753.7L952.50 753.7L953.00 753.7L953.50 753.6L954.00 753.7L954.50 753.7L955.00 753.8L955.50 753.7L956.00 753.6L956.50 753.5L957.00 753.4L957.50 753.6L958.00 753.6L958.50 753.6L959.00 753.6L959.50 753.7L960.00 753.8L960.50 753.6L961.00 753.7L961.50 753.6L962.00 753.6L962.50 753.6L963.00 753.8L963.50 753.8L964.00 753.6L964.50 753.6L965.00 752.8L965.50 751.9L966.00 752.1L966.50 752.0L967.00 751.8L967.50 751.8L968.00 751.6L968.50 751.7L969.00 752.0L969.50 751.9L970.00 749.4L970.20 748.4L970.50 748.4L970.60 748.4L971.00 750.5L971.50 751.6L972.00 751.7L972.50 752.0L973.00 751.7L973.50 751.8L974.00 751.6L974.50 751.8L975.00 752.7L975.50 753.7L976.00 753.7L976.50 753.7L977.00 753.5L977.50 753.7L978.00 753.6L978.50 753.6L979.00 753.5L979.50 753.6L980.00 753.5L980.50 753.3L981.00 753.5L981.50 753.5L982.00 753.2L982.50 753.7L983.00 753.7L983.50 753.6L984.00 753.8L984.50 753.6L985.00 753.1L985.50 753.6L986.00 753.8L986.50 753.8L987.00 753.8L987.50 753.6L988.00 753.8L988.50 753.8L989.00 753.6L989.50 753.7L990.00 753.8L990.50 753.4L991.00 753.6L991.50 753.8L992.00 753.8L992.50 753.7L993.00 753.7L993.50 753.7L994.00 753.8L994.50 753.8L995.00 753.8L995.50 753.8L996.00 753.7L996.50 753.3L997.00 753.4L997.50 753.5L998.00 753.3L998.50 753.4L999.00 753.6L999.50 753.8L1000.00 753.6L1000.50 753.8L1001.00 753.6L1001.50 753.7L1002.00 753.8L1002.50 753.1L1003.00 752.3L1003.20 752.0L1003.50 752.0L1003.60 752.0L1004.00 752.6L1004.50 753.8L1005.00 753.3L1005.50 753.6L1006.00 753.8L1006.50 753.6L1007.00 753.8L1007.50 753.7L1008.00 753.5L1008.50 753.6L1009.00 753.5L1009.50 753.6L1010.00 753.6L1010.50 753.6L1011.00 753.7L1011.50 753.6L1012.00 753.6L1012.50 753.8L1013.00 753.6L1013.50 753.6L1014.00 753.7L1014.50 753.8L1015.00 753.8L1015.50 753.6L1016.00 753.7L1016.50 752.6L1017.00 751.9L1017.50 752.0L1018.00 751.7L1018.50 746.9L1019.00 737.8L1019.20 735.0L1019.50 735.0L1019.60 735.0L1020.00 740.9L1020.50 751.6L1021.00 749.7L1021.20 748.6L1021.50 748.6L1021.60 748.6L1022.00 751.1L1022.50 752.8L1023.00 753.7L1023.50 753.6L1024.00 753.0L1024.50 753.3L1025.00 753.3L1025.50 753.6L1026.00 753.4L1026.50 753.5L1027.00 753.6L1027.50 753.7L1028.00 753.7L1028.50 753.8L1029.00 753.6L1029.50 753.5L1030.00 753.6L1030.50 753.8L1031.00 753.8L1031.50 753.8L1032.00 753.6L1032.50 753.8L1033.00 753.8L1033.50 753.7L1034.00 753.8L1034.50 753.6L1035.00 753.8L1035.50 753.4L1036.00 753.0L1036.50 753.0L1037.00 752.9L1037.50 753.8L1038.00 753.7L1038.50 753.7L1039.00 753.5L1039.50 752.6L1040.00 751.7L1040.50 751.3L1041.00 751.3L1041.50 749.3L1042.00 745.5L1042.20 744.0L1042.50 744.0L1042.60 744.0L1043.00 747.0L1043.50 750.9L1044.00 752.5L1044.50 752.8L1045.00 751.8L1045.50 751.2L1046.00 751.2L1046.50 741.5L1047.00 728.6L1047.20 724.0L1047.50 724.0L1047.60 724.0L1048.00 733.5L1048.50 747.6L1049.00 750.1L1049.50 751.3L1050.00 752.4L1050.50 752.9L1051.00 753.7L1051.50 753.6L1052.00 752.6L1052.50 751.4L1053.00 749.7L1053.40 746.0L1053.50 746.0L1053.80 746.0L1054.00 747.7L1054.50 746.2L1055.00 737.9L1055.40 731.6L1055.50 731.6L1055.80 731.6L1056.00 734.7L1056.50 742.8L1057.00 749.1L1057.50 749.5L1058.00 749.4L1058.50 749.5L1059.00 749.9L1059.50 751.7L1060.00 753.3L1060.50 753.7L1061.00 753.7L1061.50 753.8L1062.00 753.8L1062.50 753.8L1063.00 753.8L1063.50 753.6L1064.00 753.7L1064.50 753.7L1065.00 753.7L1065.50 753.6L1066.00 753.6L1066.50 753.6L1067.00 753.7L1067.50 753.7L1068.00 750.6L1068.20 749.4L1068.50 749.4L1068.60 749.4L1069.00 752.3L1069.50 753.7L1070.00 753.3L1070.50 753.0L1071.00 753.2L1071.50 753.5L1072.00 753.8L1072.50 753.7L1073.00 753.6L1073.50 753.7L1074.00 753.8L1074.50 753.7L1075.00 753.6L1075.50 753.8L1076.00 753.7L1076.50 753.8L1077.00 753.6L1077.50 753.4L1078.00 753.4L1078.50 753.5L1079.00 753.8L1079.50 753.0L1080.00 753.7L1080.50 753.6L1081.00 753.6L1081.50 753.6L1082.00 753.7L1082.50 753.7L1083.00 753.7L1083.50 753.6L1084.00 753.3L1084.50 753.4L1085.00 753.7L1085.50 753.6L1086.00 753.8L1086.50 753.6L1087.00 753.8L1087.50 753.7L1088.00 753.7L1088.50 753.6L1089.00 753.7L1089.50 753.7L1090.00 753.7L1090.50 753.7L1091.00 753.8L1091.50 753.0L1092.00 753.4L1092.50 753.6L1093.00 753.6L1093.50 753.7L1094.00 753.7L1094.50 753.7L1095.00 753.6L1095.50 753.8L1096.00 753.7L1096.50 753.6L1097.00 753.7L1097.50 753.7L1098.00 753.8L1098.50 753.6L1099.00 753.8L1099.50 753.8L1100.00 753.7L1100.50 753.7L1101.00 753.5L1101.50 753.5L1102.00 753.3L1102.50 753.1L1103.00 752.8L1103.50 753.1L1104.00 752.7L1104.50 753.0L1105.00 752.7L1105.50 751.8L1106.00 749.6L1106.50 747.6L1107.00 745.6L1107.50 743.6L1107.80 742.5L1108.00 742.5L1108.20 742.5L1108.50 743.6L1109.00 745.6L1109.50 747.6L1110.00 749.6L1110.50 751.8L1111.00 752.9L1111.50 753.0L1112.00 753.1L1112.50 753.1L1113.00 753.0L1113.50 753.2L1114.00 750.9L1114.40 749.0L1114.50 749.0L1114.80 749.0L1115.00 749.9L1115.50 753.1L1116.00 753.2L1116.50 753.3L1117.00 753.1L1117.50 753.5L1118.00 753.4L1118.50 753.4L1119.00 753.7L1119.50 753.2L1120.00 753.2L1120.50 753.7L1121.00 753.8L1121.50 753.2L1122.00 753.2L1122.50 753.0L1123.00 753.5L1123.50 753.5L1124.00 753.2L1124.50 753.7L1125.00 753.6L1125.50 752.9L1126.00 752.3L1126.50 751.8L1127.00 734.7L1127.20 729.6L1127.50 729.6L1127.60 729.6L1128.00 740.9L1128.50 751.9L1129.00 751.8L1129.50 751.9L1130.00 751.5L1130.50 743.2L1130.80 738.0L1131.00 738.0L1131.20 738.0L1131.50 743.2L1132.00 752.2L1132.50 752.7L1133.00 753.3L1133.50 753.3L1134.00 753.2L1134.50 753.7L1135.00 753.6L1135.50 753.8L1136.00 752.6L1136.50 753.0L1137.00 753.7L1137.50 753.7L1138.00 753.6L1138.50 753.8L1139.00 752.4L1139.50 753.6L1140.00 753.6L1140.50 753.7L1141.00 753.7L1141.50 753.7L1142.00 753.4L1142.50 753.5L1143.00 753.6L1143.50 753.5L1144.00 753.6L1144.50 753.8L1145.00 753.8L1145.50 753.7L1146.00 753.7L1146.50 753.8L1147.00 753.8L1147.50 753.7L1148.00 750.3L1148.20 749.0L1148.50 749.0L1148.60 749.0L1149.00 752.1L1149.50 753.6L1150.00 753.6L1150.50 753.7L1151.00 753.7L1151.50 753.6L1152.00 753.6L1152.50 753.7L1153.00 753.7L1153.50 753.6L1154.00 753.7L1154.50 753.8L1155.00 753.7L1155.50 753.7L1156.00 753.8L1156.50 753.6L1157.00 753.8L1157.50 753.7L1158.00 753.8L1158.50 753.7L1159.00 753.4L1159.50 753.2L1160.00 753.2L1160.50 753.4L1161.00 753.6L1161.50 753.6L1162.00 753.8L1162.50 753.7L1163.00 753.6L1163.50 753.7L1164.00 753.1L1164.50 753.4L1165.00 753.3L1165.50 753.7L1166.00 753.6L1166.50 753.5L1167.00 753.7L1167.50 753.7L1168.00 753.6L1168.50 753.6L1169.00 753.7L1169.50 753.7L1170.00 753.7L1170.50 753.6L1171.00 753.2L1171.50 753.7L1172.00 753.8L1172.50 753.7L1173.00 753.8L1173.50 753.8L1174.00 753.8L1174.50 753.6L1175.00 753.4L1175.50 753.2L1176.00 748.8L1176.40 744.4L1176.50 744.4L1176.80 744.4L1177.00 746.4L1177.50 752.8L1178.00 753.3L1178.50 753.4L1179.00 753.8L1179.50 753.8L1180.00 753.8L1180.50 753.8L1181.00 752.9L1181.50 753.8L1182.00 753.8L1182.50 753.6L1183.00 753.7L1183.50 753.8L1184.00 753.7L1184.50 753.8L1185.00 753.7L1185.50 753.7L1186.00 753.8L1186.50 753.8L1187.00 753.8L1187.50 753.7L1188.00 753.8L1188.50 753.6L1189.00 753.3L1189.50 752.7L1190.00 752.6L1190.50 752.7L1191.00 752.7L1191.50 752.6L1192.00 752.8L1192.50 752.0L1193.00 750.2L1193.40 748.0L1193.50 748.0L1193.80 748.0L1194.00 749.0L1194.50 750.3L1195.00 749.7L1195.50 742.9L1195.80 740.0L1196.00 740.0L1196.20 740.0L1196.50 742.9L1197.00 749.7L1197.50 744.2L1198.00 735.4L1198.20 732.0L1198.50 732.0L1198.60 732.0L1199.00 738.9L1199.50 748.0L1200.00 750.9L1200.50 750.2L1201.00 751.9L1201.50 752.8L1202.00 752.8L1202.50 752.5L1203.00 752.7L1203.50 752.8L1204.00 752.7L1204.50 752.6L1205.00 752.8L1205.50 752.7L1206.00 752.8L1206.50 752.6L1207.00 752.8L1207.50 752.6L1208.00 752.7L1208.50 752.7L1209.00 752.5L1209.50 752.9L1210.00 752.6L1210.50 752.8L1211.00 752.6L1211.50 752.8L1212.00 753.3L1212.50 753.5L1213.00 753.6L1213.50 753.7L1214.00 753.6L1214.50 753.7L1215.00 753.7L1215.50 753.8L1216.00 753.7L1216.50 753.8L1217.00 753.7L1217.50 753.7L1218.00 753.8L1218.50 753.8L1219.00 753.7L1219.50 753.4L1220.00 753.4L1220.50 753.4L1221.00 753.8L1221.50 753.8L1222.00 753.8L1222.50 753.8L1223.00 753.6L1223.50 753.7L1224.00 753.7L1224.50 753.8L1225.00 753.3L1225.50 753.3L1226.00 753.7L1226.50 753.7L1227.00 753.8L1227.50 753.4L1228.00 753.3L1228.50 753.1L1229.00 753.3L1229.50 753.8L1230.00 753.6L1230.50 753.6L1231.00 753.7L1231.50 753.1L1232.00 753.7L1232.50 753.6L1233.00 753.8L1233.50 753.8L1234.00 753.3L1234.50 753.8L1235.00 753.6L1235.50 753.6L1236.00 753.8L1236.50 753.7L1237.00 753.7L1237.50 753.8L1238.00 753.7L1238.50 753.7L1239.00 753.8L1239.50 753.6L1240.00 753.7L1240.50 753.6L1241.00 753.5L1241.50 753.8L1242.00 753.7L1242.50 753.8L1243.00 753.6L1243.50 753.6L1244.00 753.8L1244.50 753.6L1245.00 753.6L1245.50 753.8L1246.00 753.7L1246.50 753.7L1247.00 753.7L1247.50 753.8L1248.00 753.8L1248.50 753.5L1249.00 751.5L1249.20 751.0L1249.50 751.0L1249.60 751.0L1250.00 752.1L1250.50 753.7L1251.00 753.8L1251.50 753.8L1252.00 753.7L1252.50 753.7L1253.00 753.7L1253.50 753.7L1254.00 753.7L1254.50 753.6L1255.00 753.7L1255.50 753.7L1256.00 753.8L1256.50 753.6L1257.00 753.7L1257.50 753.8L1258.00 753.8L1258.50 753.4L1259.00 753.8L1259.50 753.7L1260.00 753.8L1260.50 753.7L1261.00 753.7L1261.50 753.6L1262.00 753.6L1262.50 753.7L1263.00 753.6L1263.50 753.8L1264.00 753.6L1264.50 753.6L1265.00 753.6L1265.50 753.8L1266.00 753.7L1266.50 753.6L1267.00 753.6L1267.50 753.7L1268.00 753.7L1268.50 753.6L1269.00 753.7L1269.50 753.6L1270.00 753.8L1270.50 753.8L1271.00 753.8L1271.50 753.7L1272.00 753.8L1272.50 753.7L1273.00 753.8L1273.50 753.6L1274.00 753.5L1274.50 753.8L1275.00 753.8L1275.50 753.7L1276.00 753.8L1276.50 753.6L1277.00 753.8L1277.50 753.7L1278.00 753.6L1278.50 753.7L1279.00 753.8L1279.50 753.8L1280.00 753.6L1280.50 753.6L1281.00 753.6L1281.50 753.8L1282.00 753.7L1282.50 753.4L1283.00 753.7L1283.50 753.6L1284.00 753.8L1284.50 753.7L1285.00 753.7L1285.50 753.6L1286.00 753.7L1286.50 753.8L1287.00 753.8L1287.50 753.6L1288.00 753.8L1288.50 753.8L1289.00 753.7L1289.50 753.4L1290.00 753.7L1290.50 753.8L1291.00 753.8L1291.50 753.8L1292.00 753.6L1292.50 753.7L1293.00 753.7L1293.50 753.8L1294.00 753.8L1294.50 753.7L1295.00 753.7L1295.50 753.8L1296.00 753.8L1296.50 753.8L1297.00 753.7L1297.50 753.8L1298.00 753.8L1298.50 753.7L1299.00 753.7L1299.50 753.4L1300.00 753.6L1300.50 753.8L1301.00 753.6L1301.50 753.8L1302.00 753.8L1302.50 753.7L1303.00 753.6L1303.50 753.8L1304.00 753.6L1304.50 753.6L1305.00 753.7L1305.50 753.6L1306.00 753.7L1306.50 753.8L1307.00 753.8L1307.50 753.7L1308.00 753.8L1308.50 753.7L1309.00 753.8L1309.50 753.7L1310.00 753.7L1310.50 753.7L1311.00 753.6L1311.50 753.7L1312.00 753.7L1312.50 753.8L1313.00 753.8L1313.50 753.6L1314.00 753.7L1314.50 753.6L1315.00 753.7L1315.50 753.8L1316.00 753.7L1316.50 753.8L1317.00 753.6L1317.50 753.8L1318.00 753.6L1318.50 753.7L1319.00 753.8L1319.50 753.6L1320.00 753.8L1320.50 753.6L1321.00 753.8L1321.50 753.8L1322.00 753.7L1322.25 754.0Z" fill="#3A0F62"/>
<line x1="351.5" x2="1369.6" y1="754.00" y2="754.00" stroke="#4a4a4a" stroke-width="1.1"/>
<text class="strip" x="149.7" y="707.3" textLength="158.1" lengthAdjust="spacingAndGlyphs">Intermediate</text>
<path d="M402.75 875.5L403.00 875.0L403.50 873.6L404.00 868.6L404.50 865.5L405.00 862.0L405.40 854.1L405.50 854.1L405.80 854.1L406.00 857.8L406.50 865.1L407.00 863.6L407.50 864.8L408.00 864.6L408.50 857.6L408.80 851.1L409.00 851.1L409.20 851.1L409.50 857.6L410.00 865.2L410.50 869.3L411.00 873.5L411.50 873.7L412.00 873.8L412.50 873.8L413.00 873.7L413.50 873.9L414.00 873.7L414.50 873.8L415.00 873.7L415.50 873.6L416.00 873.7L416.50 873.9L417.00 873.7L417.50 873.6L418.00 873.7L418.50 874.0L419.00 874.0L419.50 873.3L420.00 873.6L420.50 873.8L421.00 873.6L421.50 873.7L422.00 874.4L422.50 875.2L423.00 875.2L423.50 875.2L424.00 875.3L424.50 875.2L425.00 875.1L425.50 875.3L426.00 875.2L426.50 875.2L427.00 873.4L427.50 872.5L428.00 873.9L428.50 873.9L429.00 873.6L429.50 874.1L430.00 873.2L430.50 873.0L431.00 871.1L431.50 871.6L432.00 871.4L432.50 871.7L433.00 866.0L433.40 861.1L433.50 861.1L433.80 861.1L434.00 863.4L434.50 871.2L435.00 871.6L435.50 872.8L436.00 874.8L436.50 874.2L437.00 874.2L437.50 872.2L438.00 875.3L438.50 875.3L439.00 875.2L439.50 875.2L440.00 875.3L440.50 875.3L441.00 875.3L441.50 875.3L442.00 875.1L442.50 875.3L443.00 875.2L443.50 875.2L444.00 875.3L444.50 874.4L445.00 870.9L445.50 868.4L446.00 868.9L446.50 868.8L447.00 869.3L447.50 868.2L448.00 868.6L448.50 864.9L449.00 856.7L449.50 857.8L450.00 855.0L450.50 816.8L451.00 781.4L451.20 767.7L451.50 767.7L451.60 767.7L452.00 795.3L452.50 831.6L453.00 856.8L453.50 857.9L454.00 856.9L454.50 864.5L455.00 869.1L455.50 867.8L456.00 862.8L456.50 840.9L457.00 826.1L457.40 826.1L457.50 828.8L458.00 844.4L458.50 862.5L459.00 865.4L459.50 867.5L460.00 867.6L460.50 869.3L461.00 868.7L461.50 867.7L462.00 871.6L462.50 872.7L463.00 872.7L463.50 872.9L464.00 872.9L464.50 871.5L464.80 868.5L465.00 868.5L465.20 868.5L465.50 870.7L466.00 871.8L466.50 871.2L467.00 872.9L467.50 873.2L468.00 872.7L468.50 872.6L469.00 872.7L469.50 872.6L470.00 870.0L470.20 868.0L470.50 868.0L470.60 868.0L471.00 872.7L471.50 873.0L472.00 872.8L472.50 873.2L473.00 872.5L473.50 872.6L473.80 871.5L474.00 871.5L474.20 871.5L474.50 872.9L475.00 873.2L475.50 873.0L476.00 873.1L476.50 872.9L477.00 872.8L477.50 872.2L478.00 873.2L478.50 873.1L479.00 872.8L479.50 872.5L480.00 872.8L480.50 871.7L480.80 869.5L481.00 869.5L481.20 869.5L481.50 870.5L482.00 871.2L482.50 871.5L483.00 872.7L483.50 872.8L483.80 871.5L484.00 871.5L484.20 871.5L484.50 873.1L485.00 873.1L485.50 873.0L486.00 873.9L486.50 875.1L487.00 875.3L487.50 875.3L488.00 875.3L488.50 874.5L489.00 873.6L489.50 875.2L490.00 875.3L490.50 875.3L491.00 875.2L491.50 875.2L492.00 870.9L492.20 869.5L492.50 869.5L492.60 869.5L493.00 872.7L493.50 875.2L494.00 875.3L494.50 875.3L495.00 873.4L495.50 873.6L496.00 875.1L496.50 875.3L497.00 872.7L497.40 869.5L497.50 869.5L497.80 869.5L498.00 870.9L498.50 874.0L499.00 874.2L499.50 874.2L500.00 874.5L500.50 875.2L501.00 875.2L501.50 875.3L502.00 875.1L502.50 875.2L503.00 875.3L503.50 875.2L504.00 874.7L504.50 875.3L505.00 875.1L505.50 875.3L506.00 874.9L506.50 875.0L507.00 875.1L507.50 875.2L508.00 874.5L508.50 873.6L509.00 873.7L509.50 873.9L510.00 874.0L510.50 873.7L511.00 866.3L511.20 862.9L511.50 862.9L511.60 862.9L512.00 870.8L512.50 873.8L513.00 872.6L513.30 870.5L513.50 870.5L513.70 870.5L514.00 872.6L514.50 873.9L515.00 873.5L515.50 870.9L515.80 867.5L516.00 867.5L516.20 867.5L516.50 870.9L517.00 873.7L517.50 873.7L518.00 873.6L518.50 873.7L519.00 873.2L519.30 871.5L519.50 871.5L519.70 871.5L520.00 873.2L520.50 873.5L521.00 873.8L521.50 873.2L521.80 871.5L522.00 871.5L522.20 871.5L522.50 873.2L523.00 873.7L523.50 873.7L524.00 874.6L524.50 875.2L525.00 875.3L525.50 875.2L526.00 875.3L526.50 875.1L527.00 875.3L527.50 875.1L528.00 874.9L528.50 875.3L529.00 875.1L529.50 875.2L530.00 874.1L530.50 875.3L531.00 874.3L531.50 871.5L532.00 867.9L532.50 868.1L533.00 867.7L533.50 868.1L534.00 867.9L534.50 848.3L535.00 821.0L535.20 812.5L535.50 812.5L535.60 812.5L536.00 830.5L536.50 867.5L537.00 868.7L537.50 869.4L538.00 868.1L538.50 868.9L539.00 871.4L539.50 874.0L540.00 873.6L540.50 875.3L541.00 875.3L541.50 875.1L542.00 869.7L542.20 867.1L542.50 867.1L542.60 867.1L543.00 873.7L543.50 874.5L544.00 874.5L544.50 875.3L545.00 875.1L545.50 874.0L546.00 870.3L546.50 867.1L547.00 866.7L547.50 865.5L548.00 866.3L548.50 849.0L549.00 814.8L549.20 804.5L549.50 804.5L549.60 804.5L550.00 826.5L550.50 841.5L551.00 831.5L551.40 809.1L551.50 809.1L551.80 809.1L552.00 819.5L552.50 853.5L553.00 866.9L553.50 866.4L554.00 867.3L554.50 867.4L555.00 870.8L555.50 874.0L556.00 875.1L556.50 874.6L557.00 874.9L557.50 874.6L558.00 875.2L558.50 875.1L559.00 875.3L559.50 875.1L560.00 875.3L560.50 873.8L561.00 874.5L561.50 874.5L562.00 874.4L562.50 874.3L563.00 875.0L563.50 875.3L564.00 875.2L564.50 875.3L565.00 875.3L565.50 875.2L566.00 871.8L566.50 871.4L567.00 875.2L567.50 875.3L568.00 871.8L568.20 870.5L568.50 870.5L568.60 870.5L569.00 873.6L569.50 874.6L570.00 874.6L570.50 874.6L571.00 874.9L571.50 874.4L572.00 875.1L572.50 873.2L572.80 871.5L573.00 871.5L573.20 871.5L573.50 873.2L574.00 875.0L574.50 875.1L575.00 874.9L575.50 874.2L576.00 874.4L576.50 875.1L577.00 874.5L577.50 874.5L578.00 874.2L578.50 875.2L579.00 875.3L579.50 875.2L580.00 875.2L580.50 875.3L581.00 875.3L581.50 875.2L582.00 875.3L582.50 875.3L583.00 875.3L583.50 875.1L584.00 875.1L584.50 875.1L585.00 875.0L585.50 875.1L586.00 875.0L586.50 875.3L587.00 875.1L587.50 875.2L588.00 875.3L588.50 875.1L589.00 873.0L589.50 872.6L589.80 870.5L590.00 870.5L590.20 870.5L590.50 872.6L591.00 874.7L591.50 872.8L592.00 873.4L592.50 874.6L593.00 874.3L593.50 875.3L594.00 875.1L594.50 875.3L595.00 874.7L595.50 874.6L596.00 875.3L596.50 875.3L597.00 875.3L597.50 875.3L598.00 875.2L598.50 875.1L599.00 874.8L599.50 874.7L600.00 874.9L600.50 873.5L600.80 872.0L601.00 872.0L601.20 872.0L601.50 873.5L602.00 875.3L602.50 875.3L603.00 874.5L603.50 874.4L604.00 874.5L604.50 874.3L605.00 874.1L605.50 874.8L606.00 874.6L606.50 874.6L607.00 874.5L607.50 875.1L608.00 875.2L608.50 875.3L609.00 875.3L609.50 873.8L609.80 872.5L610.00 872.5L610.20 872.5L610.50 873.8L611.00 875.1L611.50 875.2L612.00 875.2L612.50 875.2L613.00 875.3L613.50 874.7L614.00 873.7L614.50 873.8L614.80 872.5L615.00 872.5L615.20 872.5L615.50 873.8L616.00 874.4L616.50 874.1L617.00 873.9L617.50 875.2L618.00 875.2L618.50 875.2L619.00 875.3L619.50 875.2L620.00 875.3L620.50 875.2L621.00 875.1L621.50 872.0L622.00 875.2L622.50 875.2L623.00 875.3L623.50 875.1L624.00 875.3L624.50 875.3L625.00 875.1L625.50 874.7L626.00 874.6L626.50 873.8L626.80 872.5L627.00 872.5L627.20 872.5L627.50 873.8L628.00 875.3L628.50 875.3L629.00 875.3L629.50 875.3L630.00 875.3L630.50 875.3L631.00 875.3L631.50 875.1L632.00 875.1L632.50 874.7L633.00 874.3L633.50 871.0L634.00 875.1L634.50 875.0L635.00 873.2L635.50 875.1L636.00 874.7L636.50 874.8L637.00 874.7L637.50 873.1L638.00 875.3L638.50 875.1L639.00 875.2L639.50 875.2L640.00 875.2L640.50 874.8L641.00 874.9L641.50 874.4L642.00 874.6L642.50 875.0L643.00 875.0L643.50 875.1L644.00 875.0L644.50 874.8L645.00 875.0L645.50 875.3L646.00 875.3L646.50 871.2L647.00 870.9L647.50 875.2L648.00 875.2L648.50 875.2L649.00 875.1L649.50 875.3L650.00 875.2L650.50 875.1L651.00 875.3L651.50 875.1L652.00 875.2L652.50 875.2L653.00 874.0L653.50 874.0L654.00 873.6L654.50 875.3L655.00 871.0L655.50 871.4L656.00 871.5L656.50 875.3L657.00 875.2L657.50 875.2L658.00 875.2L658.50 873.3L659.00 873.7L659.50 873.1L660.00 872.4L660.50 872.5L661.00 875.1L661.50 875.2L662.00 875.2L662.50 875.3L663.00 875.1L663.50 872.9L664.00 872.3L664.50 874.5L665.00 874.6L665.50 874.9L666.00 874.9L666.50 874.9L667.00 874.1L667.50 875.1L668.00 875.2L668.50 875.2L669.00 875.3L669.50 875.3L670.00 872.2L670.50 875.3L671.00 873.2L671.50 873.8L672.00 872.7L672.50 872.7L673.00 873.4L673.50 875.2L674.00 875.3L674.50 875.3L675.00 875.2L675.50 875.2L676.00 873.3L676.50 873.1L677.00 873.0L677.50 874.7L678.00 873.9L678.50 873.6L679.00 875.2L679.50 875.2L680.00 875.3L680.50 872.2L681.00 871.8L681.50 870.7L682.00 874.4L682.50 874.6L683.00 875.1L683.50 875.3L684.00 873.5L684.50 873.5L685.00 872.5L685.50 872.7L686.00 875.3L686.50 875.1L687.00 875.2L687.50 875.3L688.00 875.3L688.50 875.1L689.00 875.3L689.50 875.2L690.00 875.2L690.50 875.3L691.00 875.2L691.50 873.1L692.00 871.8L692.50 875.0L693.00 875.0L693.50 875.0L694.00 874.0L694.50 874.1L695.00 874.4L695.50 875.2L696.00 874.1L696.50 874.5L697.00 875.2L697.50 875.3L698.00 875.2L698.50 875.1L699.00 875.3L699.50 875.1L700.00 871.5L700.20 870.1L700.50 870.1L700.60 870.1L701.00 873.5L701.50 875.2L702.00 875.1L702.50 874.7L703.00 873.4L703.50 873.6L704.00 874.9L704.50 875.2L705.00 875.3L705.50 875.1L706.00 874.2L706.50 873.1L707.00 873.5L707.50 873.5L708.00 873.0L708.50 873.0L709.00 869.6L709.40 864.5L709.50 864.5L709.80 864.5L710.00 866.8L710.50 873.5L711.00 873.4L711.50 873.0L712.00 873.5L712.50 873.1L713.00 873.3L713.50 873.1L714.00 873.3L714.50 873.0L715.00 873.1L715.50 873.2L716.00 874.3L716.50 875.1L717.00 875.2L717.50 875.3L718.00 875.1L718.50 875.2L719.00 875.3L719.50 875.3L720.00 875.3L720.50 875.2L721.00 875.3L721.50 874.8L722.00 874.3L722.50 872.0L723.00 864.6L723.20 861.7L723.50 861.7L723.60 861.7L724.00 868.1L724.50 873.1L725.00 873.4L725.50 873.1L726.00 873.3L726.50 873.6L727.00 873.0L727.50 873.2L728.00 873.2L728.50 873.1L729.00 873.1L729.50 873.3L730.00 873.6L730.50 873.6L731.00 873.7L731.50 875.3L732.00 874.0L732.50 875.1L733.00 874.1L733.50 875.3L734.00 875.1L734.50 875.1L735.00 874.2L735.50 873.9L736.00 874.2L736.50 873.8L737.00 875.2L737.50 875.3L738.00 875.3L738.50 873.8L739.00 873.0L739.20 872.1L739.50 872.1L739.60 872.1L740.00 874.2L740.50 875.3L741.00 875.1L741.50 875.1L742.00 875.2L742.50 875.3L743.00 875.3L743.50 871.9L744.00 875.2L744.50 875.2L745.00 875.3L745.50 875.3L746.00 875.2L746.50 875.3L747.00 875.3L747.50 875.3L748.00 875.1L748.50 875.0L749.00 875.0L749.50 874.9L750.00 872.1L750.50 872.4L751.00 872.0L751.50 872.7L752.00 872.1L752.50 872.4L753.00 875.3L753.50 875.3L754.00 873.7L754.50 873.9L755.00 874.2L755.50 873.8L756.00 875.0L756.50 875.0L757.00 874.9L757.50 875.1L758.00 874.9L758.50 875.2L759.00 875.1L759.50 875.2L760.00 875.1L760.50 875.3L761.00 875.3L761.50 875.1L762.00 872.9L762.50 873.1L763.00 873.9L763.50 872.6L764.00 872.1L764.50 872.1L765.00 872.1L765.50 872.0L766.00 872.3L766.50 871.6L766.80 869.7L767.00 869.7L767.20 869.7L767.50 871.6L768.00 872.4L768.50 872.3L769.00 872.8L769.50 872.5L770.00 872.8L770.50 872.2L771.00 872.2L771.50 872.2L772.00 872.8L772.50 875.0L773.00 875.3L773.50 875.2L774.00 874.1L774.50 873.4L775.00 873.5L775.50 870.5L775.80 868.1L776.00 868.1L776.20 868.1L776.50 870.5L777.00 873.5L777.50 873.1L778.00 873.3L778.50 873.1L779.00 873.1L779.50 873.1L780.00 874.3L780.50 875.1L781.00 875.0L781.50 875.3L782.00 875.1L782.50 874.8L783.00 874.7L783.50 874.8L784.00 874.8L784.50 875.3L785.00 875.3L785.50 875.3L786.00 875.2L786.50 874.4L787.00 874.0L787.50 874.4L788.00 874.0L788.50 874.8L789.00 874.2L789.50 874.0L790.00 875.2L790.50 874.6L791.00 875.2L791.50 875.2L792.00 875.3L792.50 875.2L793.00 874.6L793.50 874.8L794.00 875.2L794.50 872.9L795.00 875.1L795.50 875.2L796.00 875.1L796.50 875.2L797.00 874.9L797.50 873.7L798.00 872.3L798.50 872.2L799.00 872.5L799.50 871.6L800.00 870.4L800.30 867.5L800.50 867.5L800.70 867.5L801.00 870.9L801.50 856.3L802.00 838.1L802.40 838.1L802.50 841.2L803.00 861.5L803.50 871.5L804.00 871.9L804.50 872.4L805.00 873.7L805.50 874.9L806.00 875.3L806.50 875.2L807.00 875.1L807.50 875.3L808.00 875.3L808.50 875.3L809.00 875.2L809.50 875.2L810.00 875.2L810.50 875.2L811.00 874.7L811.50 874.4L812.00 874.4L812.50 874.6L813.00 875.2L813.50 875.3L814.00 875.2L814.50 875.2L815.00 875.2L815.50 875.3L816.00 875.2L816.50 875.3L817.00 870.4L817.20 869.1L817.50 869.1L817.60 869.1L818.00 872.1L818.50 875.3L819.00 875.1L819.50 875.3L820.00 875.2L820.50 875.3L821.00 875.1L821.50 875.3L822.00 875.1L822.50 875.1L823.00 875.3L823.50 875.1L824.00 875.2L824.50 875.2L825.00 875.3L825.50 875.3L826.00 875.2L826.50 873.5L826.80 872.5L827.00 872.5L827.20 872.5L827.50 873.5L828.00 874.7L828.50 874.6L829.00 874.5L829.50 874.6L830.00 874.5L830.50 874.4L831.00 875.3L831.50 875.1L832.00 875.2L832.50 875.2L833.00 875.3L833.50 874.5L834.00 874.8L834.50 874.8L835.00 875.3L835.50 875.3L836.00 873.7L836.50 873.5L837.00 872.8L837.50 873.6L838.00 874.6L838.50 874.4L839.00 867.3L839.20 865.1L839.50 865.1L839.60 865.1L840.00 869.9L840.50 874.6L841.00 873.8L841.50 873.7L842.00 870.8L842.20 869.1L842.50 869.1L842.60 869.1L843.00 873.1L843.50 875.3L844.00 875.3L844.50 873.7L845.00 875.3L845.50 875.2L846.00 875.3L846.50 873.4L847.00 872.5L847.50 873.5L848.00 873.6L848.50 873.5L849.00 874.3L849.50 874.5L850.00 874.4L850.50 872.0L851.00 870.9L851.50 871.4L852.00 872.2L852.50 875.1L853.00 875.2L853.50 875.3L854.00 875.1L854.50 875.2L855.00 875.3L855.50 875.1L856.00 874.5L856.50 874.7L857.00 875.3L857.50 875.3L858.00 875.2L858.50 875.1L859.00 875.0L859.50 875.0L860.00 875.3L860.50 875.0L861.00 873.5L861.50 872.4L862.00 871.2L862.40 868.7L862.50 868.7L862.80 868.7L863.00 869.9L863.50 872.7L864.00 872.2L864.50 872.4L865.00 872.4L865.50 872.4L866.00 873.6L866.50 875.1L867.00 875.3L867.50 874.4L868.00 874.6L868.50 874.6L869.00 874.7L869.50 875.2L870.00 875.3L870.50 875.2L871.00 875.2L871.50 875.2L872.00 875.2L872.50 875.1L873.00 875.3L873.50 873.5L873.80 872.5L874.00 872.5L874.20 872.5L874.50 873.5L875.00 875.3L875.50 875.3L876.00 875.3L876.50 875.1L877.00 875.1L877.50 875.3L878.00 875.2L878.50 875.1L879.00 875.1L879.50 875.3L880.00 875.1L880.50 875.3L881.00 875.2L881.50 875.1L882.00 875.1L882.50 875.3L883.00 874.7L883.50 874.2L884.00 874.2L884.50 874.4L885.00 874.4L885.50 874.0L886.00 874.2L886.50 874.8L887.00 875.0L887.50 874.9L888.00 873.5L888.50 873.4L889.00 873.3L889.50 872.8L890.00 872.4L890.50 875.1L891.00 875.2L891.50 875.1L892.00 875.3L892.50 875.1L893.00 875.2L893.50 875.3L894.00 875.1L894.50 874.8L895.00 874.6L895.50 874.7L896.00 875.3L896.50 875.1L897.00 875.3L897.50 875.3L898.00 875.2L898.50 875.0L899.00 875.1L899.50 874.9L900.00 875.0L900.50 874.6L901.00 874.8L901.50 873.1L902.00 872.5L902.50 875.2L903.00 875.2L903.50 875.1L904.00 875.2L904.50 875.3L905.00 875.3L905.50 875.2L906.00 875.2L906.50 874.3L907.00 873.9L907.50 874.0L908.00 875.2L908.50 871.9L908.80 870.1L909.00 870.1L909.20 870.1L909.50 871.9L910.00 874.2L910.50 873.7L911.00 873.9L911.50 875.1L912.00 875.0L912.50 873.3L913.00 873.2L913.50 875.2L914.00 875.1L914.50 875.2L915.00 875.3L915.50 875.3L916.00 874.1L916.50 873.7L917.00 875.3L917.50 875.3L918.00 875.2L918.50 874.7L919.00 875.0L919.50 874.1L920.00 872.6L920.50 872.8L921.00 856.2L921.20 851.1L921.50 851.1L921.60 851.1L922.00 862.4L922.50 873.0L923.00 873.2L923.50 872.8L924.00 872.0L924.20 871.1L924.50 871.1L924.60 871.1L925.00 873.1L925.50 872.5L926.00 873.8L926.50 874.9L927.00 874.8L927.50 874.8L928.00 873.7L928.50 875.2L929.00 875.3L929.50 875.3L930.00 875.3L930.50 875.2L931.00 873.0L931.50 866.8L932.00 860.8L932.50 860.0L933.00 842.5L933.50 804.3L933.80 787.1L934.00 787.1L934.20 787.1L934.50 804.3L935.00 842.5L935.50 859.9L936.00 861.2L936.50 861.5L937.00 866.7L937.50 868.1L938.00 868.7L938.50 868.9L939.00 869.9L939.50 873.9L940.00 875.3L940.50 875.1L941.00 874.1L941.50 872.7L942.00 872.6L942.50 872.9L943.00 872.6L943.50 872.7L944.00 871.5L944.40 869.1L944.50 869.1L944.80 869.1L945.00 870.2L945.50 872.5L946.00 874.1L946.50 875.1L947.00 875.2L947.50 875.3L948.00 873.4L948.50 875.0L949.00 874.9L949.50 874.9L950.00 875.1L950.50 874.6L951.00 875.3L951.50 875.3L952.00 875.2L952.50 875.3L953.00 875.3L953.50 875.1L954.00 875.3L954.50 875.2L955.00 875.2L955.50 875.3L956.00 875.3L956.50 875.2L957.00 875.3L957.50 875.3L958.00 875.1L958.50 875.2L959.00 875.3L959.50 875.1L960.00 875.2L960.50 875.3L961.00 875.2L961.50 875.3L962.00 873.9L962.50 874.4L963.00 870.3L963.50 875.1L964.00 875.3L964.50 875.3L965.00 875.3L965.50 874.8L966.00 873.3L966.50 872.2L967.00 872.2L967.50 872.2L968.00 872.1L968.50 871.9L969.00 872.4L969.50 872.2L970.00 872.5L970.50 870.5L970.80 868.1L971.00 868.1L971.20 868.1L971.50 870.5L972.00 871.7L972.50 872.0L973.00 873.2L973.50 874.8L974.00 875.3L974.50 875.1L975.00 875.3L975.50 875.2L976.00 875.2L976.50 875.2L977.00 872.8L977.50 870.7L978.00 869.4L978.50 871.1L979.00 869.7L979.50 875.2L980.00 875.2L980.50 875.3L981.00 875.2L981.50 875.2L982.00 875.3L982.50 872.6L983.00 874.8L983.50 875.3L984.00 875.3L984.50 875.1L985.00 874.7L985.50 874.4L986.00 874.5L986.50 874.4L987.00 872.2L987.50 871.8L987.80 871.1L988.00 870.9L988.20 869.8L988.50 871.3L989.00 875.1L989.50 875.2L990.00 875.1L990.50 875.3L991.00 871.0L991.50 875.1L992.00 875.3L992.50 874.8L993.00 874.4L993.50 874.2L994.00 873.3L994.50 875.3L995.00 875.3L995.50 873.1L996.00 874.9L996.50 874.9L997.00 874.8L997.50 875.3L998.00 875.2L998.50 874.7L999.00 873.9L999.50 871.4L1000.00 864.5L1000.40 864.5L1000.50 865.6L1001.00 873.2L1001.50 872.5L1002.00 873.0L1002.50 872.8L1003.00 873.7L1003.50 875.0L1004.00 875.3L1004.50 875.3L1005.00 875.1L1005.50 875.2L1006.00 875.3L1006.50 875.3L1007.00 875.1L1007.50 875.3L1008.00 875.2L1008.50 875.3L1009.00 875.3L1009.50 873.0L1009.80 872.1L1010.00 872.1L1010.20 872.1L1010.50 873.0L1011.00 874.2L1011.50 872.1L1012.00 871.7L1012.50 872.3L1013.00 875.2L1013.50 875.3L1014.00 875.3L1014.50 875.3L1015.00 875.2L1015.50 873.0L1016.00 873.3L1016.50 873.0L1017.00 875.0L1017.50 875.1L1018.00 874.2L1018.50 874.0L1019.00 874.3L1019.50 873.9L1020.00 875.2L1020.50 874.6L1021.00 873.7L1021.50 873.4L1022.00 875.2L1022.50 875.3L1023.00 875.2L1023.50 875.0L1024.00 875.3L1024.50 875.2L1025.00 875.2L1025.50 875.1L1026.00 875.3L1026.50 875.2L1027.00 875.1L1027.50 875.3L1028.00 875.2L1028.50 875.2L1029.00 874.1L1029.50 874.1L1030.00 874.3L1030.50 874.2L1031.00 873.8L1031.50 874.2L1032.00 873.8L1032.50 873.4L1033.00 874.1L1033.50 874.3L1034.00 873.7L1034.50 875.2L1035.00 875.2L1035.50 875.2L1036.00 873.9L1036.40 871.1L1036.50 871.1L1036.80 871.1L1037.00 872.3L1037.50 875.3L1038.00 875.2L1038.50 875.0L1039.00 875.0L1039.50 875.2L1040.00 875.2L1040.50 875.2L1041.00 875.2L1041.50 875.1L1042.00 873.9L1042.50 874.1L1043.00 874.4L1043.50 875.3L1044.00 873.5L1044.50 873.0L1045.00 874.9L1045.50 874.9L1046.00 875.1L1046.50 874.9L1047.00 873.4L1047.50 873.7L1048.00 873.5L1048.50 873.6L1049.00 869.9L1049.50 872.4L1049.80 870.1L1050.00 870.1L1050.20 870.1L1050.50 872.4L1051.00 874.5L1051.50 872.0L1052.00 873.6L1052.50 873.3L1053.00 874.3L1053.50 874.4L1054.00 874.5L1054.50 875.2L1055.00 875.1L1055.50 875.2L1056.00 875.2L1056.50 875.1L1057.00 875.3L1057.50 874.2L1058.00 874.2L1058.50 874.1L1059.00 874.3L1059.50 875.3L1060.00 874.7L1060.50 874.6L1061.00 874.5L1061.50 874.3L1062.00 875.3L1062.50 875.1L1063.00 875.3L1063.50 875.3L1064.00 875.2L1064.50 873.6L1065.00 873.6L1065.50 873.6L1066.00 875.2L1066.50 875.3L1067.00 875.3L1067.50 875.2L1068.00 875.3L1068.50 871.3L1069.00 872.7L1069.50 871.3L1070.00 872.2L1070.50 874.9L1071.00 875.2L1071.50 875.2L1072.00 875.3L1072.50 875.3L1073.00 875.3L1073.50 875.3L1074.00 875.3L1074.50 875.2L1075.00 875.2L1075.50 874.2L1076.00 873.7L1076.50 873.8L1077.00 874.6L1077.50 874.6L1078.00 875.3L1078.50 875.2L1079.00 875.2L1079.50 873.5L1080.00 874.4L1080.50 874.7L1081.00 874.3L1081.50 874.6L1082.00 874.6L1082.50 874.4L1083.00 874.9L1083.50 874.9L1084.00 874.7L1084.50 874.8L1085.00 874.9L1085.50 874.9L1086.00 874.5L1086.50 874.7L1087.00 874.7L1087.50 874.7L1088.00 873.9L1088.50 874.9L1089.00 875.0L1089.50 872.0L1090.00 871.8L1090.50 872.3L1091.00 871.5L1091.50 870.2L1092.00 870.0L1092.50 874.0L1093.00 873.7L1093.50 873.3L1094.00 874.0L1094.50 873.2L1095.00 875.3L1095.50 875.1L1096.00 874.9L1096.50 875.0L1097.00 875.0L1097.50 872.6L1098.00 871.8L1098.50 872.7L1099.00 872.0L1099.50 874.6L1100.00 874.7L1100.50 875.1L1101.00 875.2L1101.50 875.2L1102.00 875.1L1102.50 875.2L1103.00 874.6L1103.50 874.5L1104.00 871.5L1104.50 869.6L1105.00 870.2L1105.50 869.2L1105.80 867.5L1106.00 867.5L1106.20 867.5L1106.50 869.7L1107.00 869.3L1107.50 869.2L1108.00 869.9L1108.50 869.2L1109.00 869.6L1109.20 867.5L1109.50 867.5L1109.60 867.5L1110.00 871.6L1110.50 874.4L1111.00 874.5L1111.50 875.3L1112.00 875.3L1112.50 875.2L1113.00 875.2L1113.50 875.3L1114.00 875.3L1114.50 875.3L1115.00 875.1L1115.50 875.1L1116.00 874.6L1116.50 875.3L1117.00 875.2L1117.50 875.3L1118.00 875.2L1118.50 875.2L1119.00 873.7L1119.50 873.6L1120.00 873.4L1120.50 874.1L1121.00 874.3L1121.50 875.2L1122.00 875.3L1122.50 875.3L1123.00 875.3L1123.50 875.1L1124.00 874.1L1124.50 873.8L1125.00 875.0L1125.50 875.1L1126.00 874.5L1126.50 874.4L1127.00 867.9L1127.20 865.1L1127.50 865.1L1127.60 865.1L1128.00 871.6L1128.50 874.4L1129.00 875.0L1129.50 872.5L1130.00 875.3L1130.50 875.2L1131.00 875.2L1131.50 875.3L1132.00 875.3L1132.50 874.6L1133.00 874.5L1133.50 874.3L1134.00 873.4L1134.50 873.1L1135.00 872.5L1135.50 875.1L1136.00 875.2L1136.50 873.4L1137.00 875.3L1137.50 875.3L1138.00 875.3L1138.50 875.1L1139.00 875.3L1139.50 875.2L1140.00 875.1L1140.50 875.2L1141.00 875.2L1141.50 875.2L1142.00 875.1L1142.50 875.3L1143.00 875.3L1143.50 875.3L1144.00 875.3L1144.50 875.2L1145.00 871.9L1145.50 872.8L1146.00 875.2L1146.50 875.3L1147.00 871.1L1147.50 869.8L1148.00 874.1L1148.50 875.3L1149.00 875.3L1149.50 875.2L1150.00 875.2L1150.50 875.3L1151.00 873.5L1151.50 875.2L1152.00 875.3L1152.50 875.2L1153.00 875.3L1153.50 875.3L1154.00 875.3L1154.50 875.2L1155.00 875.3L1155.50 875.3L1156.00 873.4L1156.50 873.0L1157.00 875.1L1157.50 874.6L1158.00 874.8L1158.50 874.5L1159.00 874.6L1159.50 875.2L1160.00 872.3L1160.50 873.2L1161.00 875.3L1161.50 875.2L1162.00 875.1L1162.50 875.3L1163.00 875.3L1163.50 874.2L1164.00 874.6L1164.50 875.2L1165.00 875.3L1165.50 875.2L1166.00 875.2L1166.50 875.3L1167.00 875.3L1167.50 875.2L1168.00 875.1L1168.50 875.1L1169.00 875.2L1169.50 875.2L1170.00 875.2L1170.50 875.1L1171.00 875.3L1171.50 875.1L1172.00 874.8L1172.50 875.2L1173.00 875.2L1173.50 875.3L1174.00 875.2L1174.50 873.7L1175.00 872.7L1175.50 872.7L1176.00 872.9L1176.50 874.3L1177.00 875.3L1177.50 875.3L1178.00 875.2L1178.50 875.3L1179.00 875.3L1179.50 875.2L1180.00 875.2L1180.50 875.3L1181.00 875.3L1181.50 875.3L1182.00 875.3L1182.50 875.3L1183.00 874.8L1183.50 874.6L1184.00 875.1L1184.50 874.9L1185.00 874.8L1185.50 875.0L1186.00 873.6L1186.50 873.7L1187.00 874.1L1187.50 874.4L1188.00 874.5L1188.50 875.1L1189.00 875.2L1189.50 873.2L1190.00 873.6L1190.50 873.4L1191.00 874.7L1191.50 874.7L1192.00 873.1L1192.50 872.6L1193.00 872.8L1193.50 873.5L1194.00 875.1L1194.50 875.2L1195.00 875.3L1195.50 875.3L1196.00 875.3L1196.50 875.2L1197.00 874.3L1197.50 874.1L1198.00 866.3L1198.20 862.1L1198.50 862.1L1198.60 862.1L1199.00 871.8L1199.50 871.9L1200.00 872.3L1200.50 874.6L1201.00 875.1L1201.50 874.8L1202.00 874.8L1202.50 874.7L1203.00 874.4L1203.50 874.5L1204.00 874.4L1204.50 874.7L1205.00 871.1L1205.50 871.5L1206.00 872.4L1206.50 872.8L1207.00 875.2L1207.50 873.7L1208.00 874.1L1208.50 874.8L1209.00 874.6L1209.50 875.1L1210.00 875.2L1210.50 874.2L1211.00 874.1L1211.50 874.6L1212.00 874.6L1212.50 874.4L1213.00 874.3L1213.50 869.6L1214.00 870.5L1214.50 870.1L1215.00 871.2L1215.50 875.3L1216.00 875.3L1216.50 875.3L1217.00 875.2L1217.50 875.3L1218.00 875.3L1218.50 875.1L1219.00 875.2L1219.50 873.9L1220.00 873.7L1220.50 873.8L1221.00 874.3L1221.50 875.3L1222.00 875.3L1222.50 875.2L1223.00 875.2L1223.50 875.3L1224.00 874.6L1224.50 874.1L1225.00 873.9L1225.50 874.0L1226.00 874.2L1226.50 875.0L1227.00 874.9L1227.50 875.3L1228.00 875.2L1228.50 875.2L1229.00 875.2L1229.50 875.2L1230.00 875.2L1230.50 875.1L1231.00 875.3L1231.50 875.3L1232.00 873.6L1232.50 874.2L1233.00 874.1L1233.50 873.9L1234.00 875.2L1234.50 875.3L1235.00 875.2L1235.50 875.1L1236.00 875.1L1236.50 875.3L1237.00 875.2L1237.50 875.3L1238.00 875.1L1238.50 875.2L1239.00 875.2L1239.50 875.2L1240.00 875.2L1240.50 875.2L1241.00 875.2L1241.50 874.2L1242.00 875.1L1242.50 875.1L1243.00 875.3L1243.50 875.1L1244.00 875.2L1244.50 875.2L1245.00 875.3L1245.50 875.3L1246.00 874.4L1246.50 874.2L1247.00 874.3L1247.50 874.6L1248.00 875.3L1248.50 875.3L1249.00 875.2L1249.50 875.2L1250.00 875.2L1250.50 875.2L1251.00 875.2L1251.50 875.3L1252.00 875.1L1252.50 875.1L1253.00 875.2L1253.50 874.1L1254.00 874.9L1254.50 875.3L1255.00 875.2L1255.50 875.2L1256.00 875.2L1256.50 875.2L1257.00 875.3L1257.50 873.4L1258.00 874.7L1258.50 874.9L1259.00 875.0L1259.50 875.2L1260.00 875.1L1260.50 875.2L1261.00 873.0L1261.50 873.4L1262.00 875.1L1262.50 875.1L1263.00 875.2L1263.50 875.2L1264.00 875.2L1264.50 874.4L1265.00 874.4L1265.50 874.3L1266.00 875.3L1266.50 875.3L1267.00 875.1L1267.50 875.1L1268.00 875.1L1268.50 873.4L1269.00 873.8L1269.50 872.7L1270.00 873.2L1270.50 875.0L1271.00 874.5L1271.50 874.3L1272.00 874.6L1272.50 875.3L1273.00 875.3L1273.50 875.3L1274.00 875.3L1274.50 875.1L1275.00 874.3L1275.50 874.2L1276.00 873.9L1276.50 874.1L1277.00 875.2L1277.50 875.2L1278.00 875.1L1278.50 875.3L1279.00 875.3L1279.50 875.1L1280.00 875.2L1280.50 874.3L1281.00 874.6L1281.50 874.4L1282.00 874.6L1282.50 875.1L1283.00 874.9L1283.50 874.9L1284.00 875.3L1284.50 875.2L1285.00 875.3L1285.50 874.7L1286.00 873.7L1286.50 873.7L1287.00 874.8L1287.50 874.8L1288.00 874.8L1288.50 875.2L1289.00 875.1L1289.50 875.2L1290.00 875.3L1290.50 875.2L1291.00 875.0L1291.50 874.9L1292.00 875.3L1292.50 875.3L1293.00 875.1L1293.50 875.2L1294.00 875.2L1294.50 875.2L1295.00 874.9L1295.50 874.9L1296.00 875.3L1296.50 875.2L1297.00 875.2L1297.50 875.2L1298.00 875.1L1298.50 875.1L1299.00 875.0L1299.50 875.1L1300.00 875.3L1300.50 875.1L1301.00 875.2L1301.50 875.2L1302.00 874.8L1302.50 875.3L1303.00 875.2L1303.50 875.3L1304.00 875.3L1304.50 875.2L1305.00 875.2L1305.50 875.2L1306.00 875.3L1306.50 875.2L1307.00 875.1L1307.50 874.7L1308.00 874.5L1308.50 874.4L1309.00 874.8L1309.50 874.2L1310.00 874.5L1310.50 875.2L1311.00 875.2L1311.50 875.0L1312.00 875.0L1312.50 875.2L1313.00 875.1L1313.50 875.2L1314.00 875.2L1314.50 875.1L1315.00 875.3L1315.50 875.2L1316.00 875.2L1316.50 873.5L1317.00 872.9L1317.50 873.2L1318.00 874.9L1318.50 874.8L1319.00 875.2L1319.50 875.3L1320.00 875.2L1320.50 874.5L1321.00 874.7L1321.50 874.7L1322.00 875.3L1322.50 875.2L1323.00 875.3L1323.25 875.5Z" fill="#C052F8"/>
<line x1="351.5" x2="1369.6" y1="875.50" y2="875.50" stroke="#4a4a4a" stroke-width="1.1"/>
<text class="strip" x="138.5" y="828.8" textLength="181.3" lengthAdjust="spacingAndGlyphs">Pre-adipocytes</text>
<line x1="106.6" x2="106.6" y1="30.1" y2="881.0" stroke="#000" stroke-width="3"/>
<line x1="99.0" x2="106.1" y1="146.50" y2="146.50" stroke="#333" stroke-width="2.5"/>
<line x1="99.0" x2="106.1" y1="113.00" y2="113.00" stroke="#333" stroke-width="2.5"/>
<line x1="99.0" x2="106.1" y1="79.50" y2="79.50" stroke="#333" stroke-width="2.5"/>
<line x1="99.0" x2="106.1" y1="46.00" y2="46.00" stroke="#333" stroke-width="2.5"/>
<line x1="99.0" x2="106.1" y1="268.00" y2="268.00" stroke="#333" stroke-width="2.5"/>
<line x1="99.0" x2="106.1" y1="234.50" y2="234.50" stroke="#333" stroke-width="2.5"/>
<line x1="99.0" x2="106.1" y1="201.00" y2="201.00" stroke="#333" stroke-width="2.5"/>
<line x1="99.0" x2="106.1" y1="167.50" y2="167.50" stroke="#333" stroke-width="2.5"/>
<line x1="99.0" x2="106.1" y1="389.50" y2="389.50" stroke="#333" stroke-width="2.5"/>
<line x1="99.0" x2="106.1" y1="356.00" y2="356.00" stroke="#333" stroke-width="2.5"/>
<line x1="99.0" x2="106.1" y1="322.50" y2="322.50" stroke="#333" stroke-width="2.5"/>
<line x1="99.0" x2="106.1" y1="289.00" y2="289.00" stroke="#333" stroke-width="2.5"/>
<line x1="99.0" x2="106.1" y1="511.00" y2="511.00" stroke="#333" stroke-width="2.5"/>
<line x1="99.0" x2="106.1" y1="477.50" y2="477.50" stroke="#333" stroke-width="2.5"/>
<line x1="99.0" x2="106.1" y1="444.00" y2="444.00" stroke="#333" stroke-width="2.5"/>
<line x1="99.0" x2="106.1" y1="410.50" y2="410.50" stroke="#333" stroke-width="2.5"/>
<line x1="99.0" x2="106.1" y1="632.50" y2="632.50" stroke="#333" stroke-width="2.5"/>
<line x1="99.0" x2="106.1" y1="599.00" y2="599.00" stroke="#333" stroke-width="2.5"/>
<line x1="99.0" x2="106.1" y1="565.50" y2="565.50" stroke="#333" stroke-width="2.5"/>
<line x1="99.0" x2="106.1" y1="532.00" y2="532.00" stroke="#333" stroke-width="2.5"/>
<line x1="99.0" x2="106.1" y1="754.00" y2="754.00" stroke="#333" stroke-width="2.5"/>
<line x1="99.0" x2="106.1" y1="720.50" y2="720.50" stroke="#333" stroke-width="2.5"/>
<line x1="99.0" x2="106.1" y1="687.00" y2="687.00" stroke="#333" stroke-width="2.5"/>
<line x1="99.0" x2="106.1" y1="653.50" y2="653.50" stroke="#333" stroke-width="2.5"/>
<line x1="99.0" x2="106.1" y1="875.50" y2="875.50" stroke="#333" stroke-width="2.5"/>
<line x1="99.0" x2="106.1" y1="842.00" y2="842.00" stroke="#333" stroke-width="2.5"/>
<line x1="99.0" x2="106.1" y1="808.50" y2="808.50" stroke="#333" stroke-width="2.5"/>
<line x1="99.0" x2="106.1" y1="775.00" y2="775.00" stroke="#333" stroke-width="2.5"/>
<text class="ttl" transform="translate(52.1,460) rotate(-90)" text-anchor="middle" textLength="273" lengthAdjust="spacingAndGlyphs">Normalized signal</text>
<text class="ttl" transform="translate(85,455) rotate(-90)" text-anchor="middle" textLength="229.5" lengthAdjust="spacingAndGlyphs">(range 0 - 660)</text>
<line x1="106.6" x2="106.6" y1="919.1" y2="1173.9" stroke="#000" stroke-width="3"/>
<text class="ttl" transform="translate(69.4,1046.6) rotate(-90)" text-anchor="middle" textLength="96" lengthAdjust="spacingAndGlyphs">Genes</text>
<g stroke="#00008b" fill="none">
<line x1="450.6" x2="1284.6" y1="1116.3" y2="1116.3" stroke-width="2.7"/>
<path d="M445.30 1111.00L450.60 1116.30L445.30 1121.60M463.83 1111.00L469.13 1116.30L463.83 1121.60M482.37 1111.00L487.67 1116.30L482.37 1121.60M500.90 1111.00L506.20 1116.30L500.90 1121.60M519.43 1111.00L524.73 1116.30L519.43 1121.60M537.97 1111.00L543.27 1116.30L537.97 1121.60M556.50 1111.00L561.80 1116.30L556.50 1121.60M575.03 1111.00L580.33 1116.30L575.03 1121.60M593.57 1111.00L598.87 1116.30L593.57 1121.60M612.10 1111.00L617.40 1116.30L612.10 1121.60M630.63 1111.00L635.93 1116.30L630.63 1121.60M649.17 1111.00L654.47 1116.30L649.17 1121.60M667.70 1111.00L673.00 1116.30L667.70 1121.60M686.23 1111.00L691.53 1116.30L686.23 1121.60M704.77 1111.00L710.07 1116.30L704.77 1121.60M723.30 1111.00L728.60 1116.30L723.30 1121.60M741.83 1111.00L747.13 1116.30L741.83 1121.60M760.37 1111.00L765.67 1116.30L760.37 1121.60M778.90 1111.00L784.20 1116.30L778.90 1121.60M797.43 1111.00L802.73 1116.30L797.43 1121.60M815.97 1111.00L821.27 1116.30L815.97 1121.60M834.50 1111.00L839.80 1116.30L834.50 1121.60M853.03 1111.00L858.33 1116.30L853.03 1121.60M871.57 1111.00L876.87 1116.30L871.57 1121.60M890.10 1111.00L895.40 1116.30L890.10 1121.60M908.63 1111.00L913.93 1116.30L908.63 1121.60M927.17 1111.00L932.47 1116.30L927.17 1121.60M945.70 1111.00L951.00 1116.30L945.70 1121.60M964.23 1111.00L969.53 1116.30L964.23 1121.60M982.77 1111.00L988.07 1116.30L982.77 1121.60M1001.30 1111.00L1006.60 1116.30L1001.30 1121.60M1019.83 1111.00L1025.13 1116.30L1019.83 1121.60M1038.37 1111.00L1043.67 1116.30L1038.37 1121.60M1056.90 1111.00L1062.20 1116.30L1056.90 1121.60M1075.43 1111.00L1080.73 1116.30L1075.43 1121.60M1093.97 1111.00L1099.27 1116.30L1093.97 1121.60M1112.50 1111.00L1117.80 1116.30L1112.50 1121.60M1131.03 1111.00L1136.33 1116.30L1131.03 1121.60M1149.57 1111.00L1154.87 1116.30L1149.57 1121.60M1168.10 1111.00L1173.40 1116.30L1168.10 1121.60M1186.63 1111.00L1191.93 1116.30L1186.63 1121.60M1205.17 1111.00L1210.47 1116.30L1205.17 1121.60M1223.70 1111.00L1229.00 1116.30L1223.70 1121.60M1242.23 1111.00L1247.53 1116.30L1242.23 1121.60M1260.77 1111.00L1266.07 1116.30L1260.77 1121.60M1279.30 1111.00L1284.60 1116.30L1279.30 1121.60" stroke-width="2.7" stroke-linejoin="round" stroke-linecap="butt"/>
<line x1="452.35" x2="452.35" y1="1107.3" y2="1125.3" stroke-width="2.9" stroke-opacity="1.00"/>
<line x1="502.40" x2="502.40" y1="1107.3" y2="1125.3" stroke-width="2.0" stroke-opacity="1.00"/>
<line x1="717.70" x2="717.70" y1="1107.3" y2="1125.3" stroke-width="1.0" stroke-opacity="0.45"/>
<line x1="1094.90" x2="1094.90" y1="1107.3" y2="1125.3" stroke-width="1.0" stroke-opacity="0.60"/>
<line x1="1120.40" x2="1120.40" y1="1107.3" y2="1125.3" stroke-width="2.8" stroke-opacity="1.00"/>
<line x1="1142.40" x2="1142.40" y1="1107.3" y2="1125.3" stroke-width="1.0" stroke-opacity="0.80"/>
<line x1="1152.80" x2="1152.80" y1="1107.3" y2="1125.3" stroke-width="5.0" stroke-opacity="1.00"/>
<line x1="1203.30" x2="1203.30" y1="1107.3" y2="1125.3" stroke-width="1.0" stroke-opacity="0.80"/>
<line x1="1232.70" x2="1232.70" y1="1107.3" y2="1125.3" stroke-width="1.4" stroke-opacity="0.90"/>
<line x1="1246.60" x2="1246.60" y1="1107.3" y2="1125.3" stroke-width="1.0" stroke-opacity="0.90"/>
<line x1="1248.90" x2="1248.90" y1="1107.3" y2="1125.3" stroke-width="1.0" stroke-opacity="0.90"/>
<line x1="1283.00" x2="1283.00" y1="1107.3" y2="1125.3" stroke-width="4.6" stroke-opacity="1.00"/>
</g>
<text class="gene" x="840.6" y="1030.6" textLength="55.0" lengthAdjust="spacingAndGlyphs">Bcar3</text>
<line x1="106.6" x2="106.6" y1="1212.3" y2="1297.1" stroke="#000" stroke-width="3"/>
<text class="ttl" transform="translate(69.4,1254) rotate(-90)" text-anchor="middle" textLength="87.5" lengthAdjust="spacingAndGlyphs">Peaks</text>
<path d="M405.50 1249.3H413.00V1260.7H405.50ZM413.75 1249.3H419.25V1260.7H413.75ZM449.25 1249.3H455.75V1260.7H449.25ZM513.25 1249.3H520.00V1260.7H513.25ZM533.00 1249.3H540.00V1260.7H533.00ZM547.75 1249.3H555.00V1260.7H547.75ZM589.25 1249.3H596.00V1260.7H589.25ZM707.00 1249.3H714.00V1260.7H707.00ZM763.00 1249.3H770.00V1260.7H763.00ZM772.50 1249.3H779.00V1260.7H772.50ZM798.75 1249.3H805.50V1260.7H798.75ZM813.00 1249.3H819.50V1260.7H813.00ZM836.25 1249.3H843.00V1260.7H836.25ZM859.25 1249.3H865.75V1260.7H859.25ZM871.75 1249.3H877.00V1260.7H871.75ZM877.50 1249.3H883.75V1260.7H877.50ZM906.25 1249.3H913.00V1260.7H906.25ZM919.25 1249.3H926.25V1260.7H919.25ZM930.75 1249.3H937.50V1260.7H930.75ZM942.25 1249.3H948.25V1260.7H942.25ZM966.25 1249.3H973.50V1260.7H966.25ZM1016.25 1249.3H1022.75V1260.7H1016.25ZM1040.00 1249.3H1044.50V1260.7H1040.00ZM1045.00 1249.3H1050.75V1260.7H1045.00ZM1052.50 1249.3H1059.25V1260.7H1052.50ZM1096.25 1249.3H1100.75V1260.7H1096.25ZM1104.25 1249.3H1110.75V1260.7H1104.25ZM1112.25 1249.3H1118.00V1260.7H1112.25ZM1125.25 1249.3H1131.75V1260.7H1125.25ZM1137.25 1249.3H1144.25V1260.7H1137.25ZM1146.25 1249.3H1152.00V1260.7H1146.25ZM1173.25 1249.3H1180.00V1260.7H1173.25ZM1193.25 1249.3H1200.00V1260.7H1193.25ZM1216.25 1249.3H1221.00V1260.7H1216.25ZM1224.25 1249.3H1230.75V1260.7H1224.25Z" fill="#696969"/>
<line x1="351.5" x2="1369.6" y1="1297.6" y2="1297.6" stroke="#000" stroke-width="3"/>
<line x1="679.5" x2="679.5" y1="1299" y2="1304.8" stroke="#333" stroke-width="2.8"/>
<line x1="1057.6" x2="1057.6" y1="1299" y2="1304.8" stroke="#333" stroke-width="2.8"/>
<text class="axt" x="609.5" y="1329.2" textLength="140" lengthAdjust="spacingAndGlyphs">122450000</text>
<text class="axt" x="987.4" y="1329.2" textLength="140" lengthAdjust="spacingAndGlyphs">122500000</text>
<text class="ttl" x="724.5" y="1363.7" textLength="272.5" lengthAdjust="spacingAndGlyphs">chr3 position (bp)</text>
</svg></body></html>
